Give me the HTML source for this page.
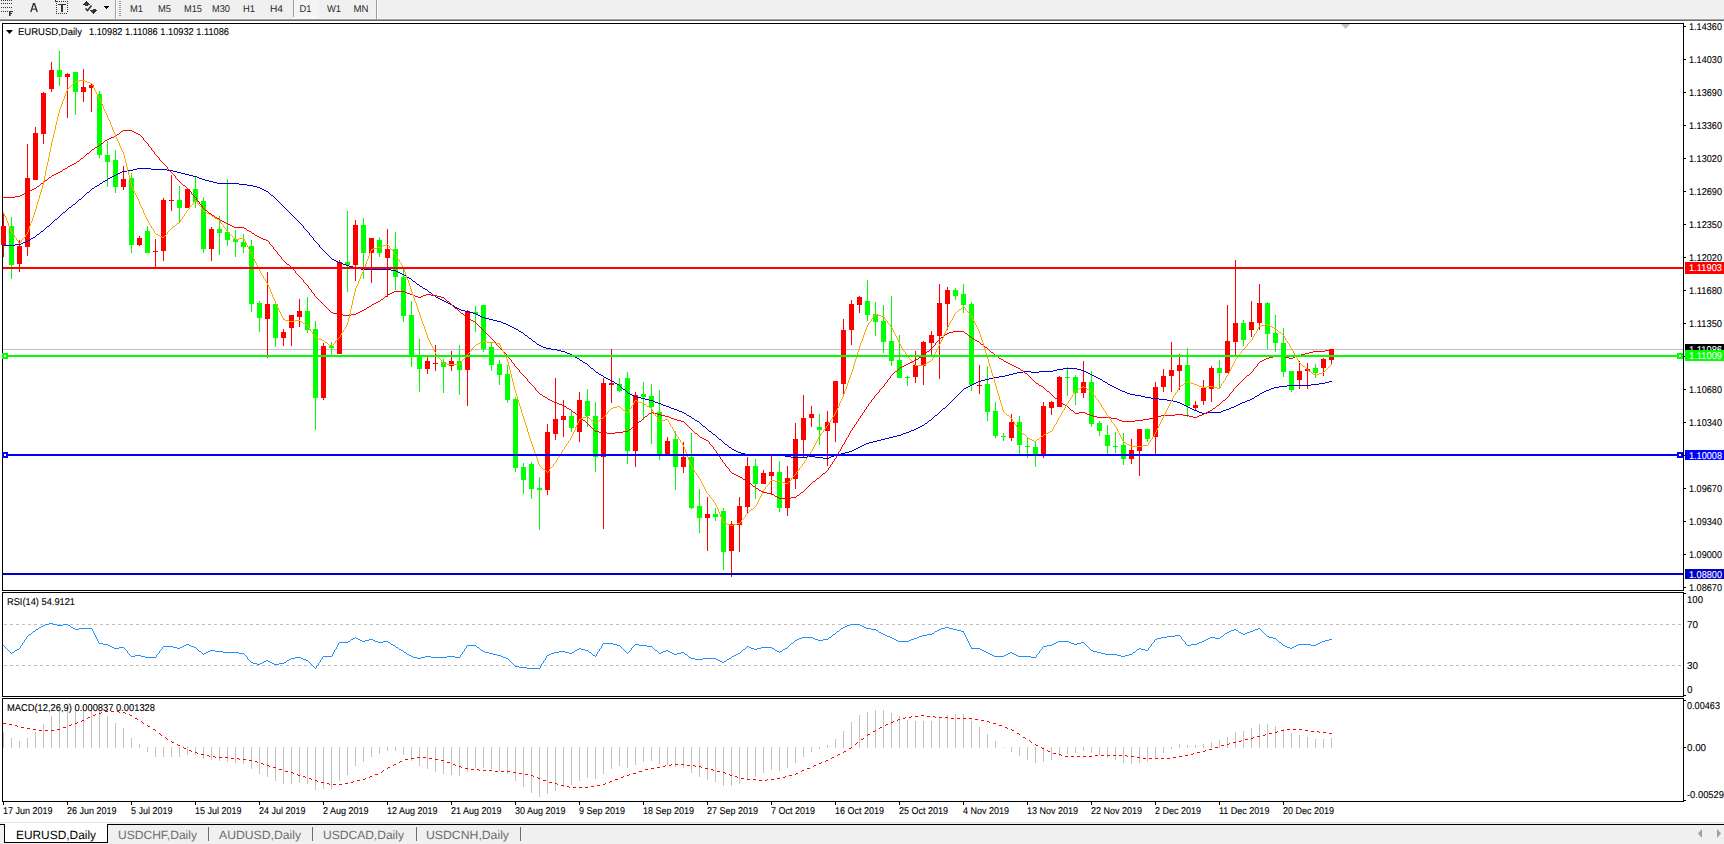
<!DOCTYPE html>
<html><head><meta charset="utf-8"><style>
html,body{margin:0;padding:0;background:#fff;width:1724px;height:844px;overflow:hidden}
svg{position:absolute;left:0;top:0;display:block}
text{font-family:"Liberation Sans", sans-serif;text-rendering:geometricPrecision}
</style></head><body>
<svg width="1724" height="844" viewBox="0 0 1724 844">
<rect x="0" y="0" width="1724" height="19" fill="#f0f0f0" />
<rect x="0" y="18" width="1724" height="1" fill="#f4f4f4" />
<rect x="0" y="19" width="1724" height="1" fill="#a0a0a0" />
<rect x="0" y="20" width="1724" height="1" fill="#696969" />
<g shape-rendering="crispEdges">
<rect x="2" y="23" width="1682" height="1" fill="#000" />
<rect x="2" y="590" width="1682" height="1" fill="#000" />
<rect x="2" y="23" width="1" height="568" fill="#000" />
<rect x="1683" y="23" width="1" height="568" fill="#000" />
<rect x="2" y="592" width="1682" height="1" fill="#000" />
<rect x="2" y="696" width="1682" height="1" fill="#000" />
<rect x="2" y="592" width="1" height="105" fill="#000" />
<rect x="1683" y="592" width="1" height="105" fill="#000" />
<rect x="2" y="698" width="1682" height="1" fill="#000" />
<rect x="2" y="801" width="1682" height="1" fill="#000" />
<rect x="2" y="698" width="1" height="104" fill="#000" />
<rect x="1683" y="698" width="1" height="104" fill="#000" />
</g>
<g font-family='"Liberation Sans", sans-serif'>
<rect x="1684" y="26" width="2" height="1" fill="#000" />
<text x="1689" y="30" font-size="9.9" fill="#000" text-anchor="start" textLength="33" lengthAdjust="spacingAndGlyphs" stroke="#000" stroke-width="0.1" >1.14360</text>
<rect x="1684" y="59" width="2" height="1" fill="#000" />
<text x="1689" y="63" font-size="9.9" fill="#000" text-anchor="start" textLength="33" lengthAdjust="spacingAndGlyphs" stroke="#000" stroke-width="0.1" >1.14030</text>
<rect x="1684" y="92" width="2" height="1" fill="#000" />
<text x="1689" y="96" font-size="9.9" fill="#000" text-anchor="start" textLength="33" lengthAdjust="spacingAndGlyphs" stroke="#000" stroke-width="0.1" >1.13690</text>
<rect x="1684" y="125" width="2" height="1" fill="#000" />
<text x="1689" y="129" font-size="9.9" fill="#000" text-anchor="start" textLength="33" lengthAdjust="spacingAndGlyphs" stroke="#000" stroke-width="0.1" >1.13360</text>
<rect x="1684" y="158" width="2" height="1" fill="#000" />
<text x="1689" y="162" font-size="9.9" fill="#000" text-anchor="start" textLength="33" lengthAdjust="spacingAndGlyphs" stroke="#000" stroke-width="0.1" >1.13020</text>
<rect x="1684" y="191" width="2" height="1" fill="#000" />
<text x="1689" y="195" font-size="9.9" fill="#000" text-anchor="start" textLength="33" lengthAdjust="spacingAndGlyphs" stroke="#000" stroke-width="0.1" >1.12690</text>
<rect x="1684" y="224" width="2" height="1" fill="#000" />
<text x="1689" y="228" font-size="9.9" fill="#000" text-anchor="start" textLength="33" lengthAdjust="spacingAndGlyphs" stroke="#000" stroke-width="0.1" >1.12350</text>
<rect x="1684" y="257" width="2" height="1" fill="#000" />
<text x="1689" y="261" font-size="9.9" fill="#000" text-anchor="start" textLength="33" lengthAdjust="spacingAndGlyphs" stroke="#000" stroke-width="0.1" >1.12020</text>
<rect x="1684" y="290" width="2" height="1" fill="#000" />
<text x="1689" y="294" font-size="9.9" fill="#000" text-anchor="start" textLength="33" lengthAdjust="spacingAndGlyphs" stroke="#000" stroke-width="0.1" >1.11680</text>
<rect x="1684" y="323" width="2" height="1" fill="#000" />
<text x="1689" y="327" font-size="9.9" fill="#000" text-anchor="start" textLength="33" lengthAdjust="spacingAndGlyphs" stroke="#000" stroke-width="0.1" >1.11350</text>
<rect x="1684" y="356" width="2" height="1" fill="#000" />
<rect x="1684" y="389" width="2" height="1" fill="#000" />
<text x="1689" y="393" font-size="9.9" fill="#000" text-anchor="start" textLength="33" lengthAdjust="spacingAndGlyphs" stroke="#000" stroke-width="0.1" >1.10680</text>
<rect x="1684" y="422" width="2" height="1" fill="#000" />
<text x="1689" y="426" font-size="9.9" fill="#000" text-anchor="start" textLength="33" lengthAdjust="spacingAndGlyphs" stroke="#000" stroke-width="0.1" >1.10340</text>
<rect x="1684" y="455" width="2" height="1" fill="#000" />
<rect x="1684" y="488" width="2" height="1" fill="#000" />
<text x="1689" y="492" font-size="9.9" fill="#000" text-anchor="start" textLength="33" lengthAdjust="spacingAndGlyphs" stroke="#000" stroke-width="0.1" >1.09670</text>
<rect x="1684" y="521" width="2" height="1" fill="#000" />
<text x="1689" y="525" font-size="9.9" fill="#000" text-anchor="start" textLength="33" lengthAdjust="spacingAndGlyphs" stroke="#000" stroke-width="0.1" >1.09340</text>
<rect x="1684" y="554" width="2" height="1" fill="#000" />
<text x="1689" y="558" font-size="9.9" fill="#000" text-anchor="start" textLength="33" lengthAdjust="spacingAndGlyphs" stroke="#000" stroke-width="0.1" >1.09000</text>
<rect x="1684" y="587" width="2" height="1" fill="#000" />
<text x="1689" y="591" font-size="9.9" fill="#000" text-anchor="start" textLength="33" lengthAdjust="spacingAndGlyphs" stroke="#000" stroke-width="0.1" >1.08670</text>
</g>
<g shape-rendering="crispEdges">
<rect x="3" y="349" width="1680" height="1" fill="#c0c0c0" />
</g>
<g shape-rendering="crispEdges">
<rect x="3" y="213" width="1" height="44" fill="#ff0000" />
<rect x="1" y="226" width="5" height="19" fill="#ff0000" />
<rect x="11" y="217" width="1" height="62" fill="#00ff00" />
<rect x="9" y="226" width="5" height="39" fill="#00ff00" />
<rect x="19" y="240" width="1" height="32" fill="#ff0000" />
<rect x="17" y="246" width="5" height="18" fill="#ff0000" />
<rect x="27" y="144" width="1" height="112" fill="#ff0000" />
<rect x="25" y="178" width="5" height="69" fill="#ff0000" />
<rect x="35" y="127" width="1" height="53" fill="#ff0000" />
<rect x="33" y="133" width="5" height="47" fill="#ff0000" />
<rect x="43" y="92" width="1" height="52" fill="#ff0000" />
<rect x="41" y="93" width="5" height="41" fill="#ff0000" />
<rect x="51" y="62" width="1" height="30" fill="#ff0000" />
<rect x="49" y="70" width="5" height="19" fill="#ff0000" />
<rect x="59" y="51" width="1" height="35" fill="#00ff00" />
<rect x="57" y="70" width="5" height="7" fill="#00ff00" />
<rect x="67" y="73" width="1" height="45" fill="#ff0000" />
<rect x="65" y="74" width="5" height="3" fill="#ff0000" />
<rect x="75" y="72" width="1" height="43" fill="#00ff00" />
<rect x="73" y="72" width="5" height="20" fill="#00ff00" />
<rect x="83" y="69" width="1" height="33" fill="#ff0000" />
<rect x="81" y="87" width="5" height="5" fill="#ff0000" />
<rect x="91" y="84" width="1" height="28" fill="#ff0000" />
<rect x="89" y="85" width="5" height="3" fill="#ff0000" />
<rect x="99" y="91" width="1" height="67" fill="#00ff00" />
<rect x="97" y="94" width="5" height="61" fill="#00ff00" />
<rect x="107" y="141" width="1" height="46" fill="#00ff00" />
<rect x="105" y="155" width="5" height="7" fill="#00ff00" />
<rect x="115" y="150" width="1" height="43" fill="#00ff00" />
<rect x="113" y="160" width="5" height="27" fill="#00ff00" />
<rect x="123" y="166" width="1" height="24" fill="#ff0000" />
<rect x="121" y="179" width="5" height="8" fill="#ff0000" />
<rect x="131" y="173" width="1" height="80" fill="#00ff00" />
<rect x="129" y="178" width="5" height="67" fill="#00ff00" />
<rect x="139" y="236" width="1" height="10" fill="#ff0000" />
<rect x="137" y="238" width="5" height="7" fill="#ff0000" />
<rect x="147" y="226" width="1" height="27" fill="#00ff00" />
<rect x="145" y="231" width="5" height="22" fill="#00ff00" />
<rect x="155" y="239" width="1" height="29" fill="#ff0000" />
<rect x="153" y="251" width="5" height="1" fill="#ff0000" />
<rect x="163" y="198" width="1" height="63" fill="#ff0000" />
<rect x="161" y="200" width="5" height="51" fill="#ff0000" />
<rect x="171" y="175" width="1" height="36" fill="#ff0000" />
<rect x="169" y="200" width="5" height="1" fill="#ff0000" />
<rect x="179" y="186" width="1" height="36" fill="#00ff00" />
<rect x="177" y="200" width="5" height="8" fill="#00ff00" />
<rect x="187" y="188" width="1" height="20" fill="#ff0000" />
<rect x="185" y="189" width="5" height="19" fill="#ff0000" />
<rect x="195" y="177" width="1" height="31" fill="#00ff00" />
<rect x="193" y="189" width="5" height="13" fill="#00ff00" />
<rect x="203" y="197" width="1" height="56" fill="#00ff00" />
<rect x="201" y="201" width="5" height="48" fill="#00ff00" />
<rect x="211" y="227" width="1" height="34" fill="#ff0000" />
<rect x="209" y="229" width="5" height="20" fill="#ff0000" />
<rect x="219" y="216" width="1" height="39" fill="#00ff00" />
<rect x="217" y="229" width="5" height="4" fill="#00ff00" />
<rect x="227" y="179" width="1" height="67" fill="#00ff00" />
<rect x="225" y="232" width="5" height="8" fill="#00ff00" />
<rect x="235" y="230" width="1" height="27" fill="#00ff00" />
<rect x="233" y="239" width="5" height="3" fill="#00ff00" />
<rect x="243" y="234" width="1" height="19" fill="#00ff00" />
<rect x="241" y="242" width="5" height="5" fill="#00ff00" />
<rect x="251" y="240" width="1" height="72" fill="#00ff00" />
<rect x="249" y="246" width="5" height="58" fill="#00ff00" />
<rect x="259" y="301" width="1" height="31" fill="#00ff00" />
<rect x="257" y="303" width="5" height="15" fill="#00ff00" />
<rect x="267" y="272" width="1" height="86" fill="#ff0000" />
<rect x="265" y="304" width="5" height="15" fill="#ff0000" />
<rect x="275" y="303" width="1" height="44" fill="#00ff00" />
<rect x="273" y="304" width="5" height="34" fill="#00ff00" />
<rect x="283" y="329" width="1" height="17" fill="#ff0000" />
<rect x="281" y="332" width="5" height="6" fill="#ff0000" />
<rect x="291" y="315" width="1" height="31" fill="#ff0000" />
<rect x="289" y="315" width="5" height="13" fill="#ff0000" />
<rect x="299" y="299" width="1" height="28" fill="#ff0000" />
<rect x="297" y="311" width="5" height="6" fill="#ff0000" />
<rect x="307" y="297" width="1" height="36" fill="#00ff00" />
<rect x="305" y="311" width="5" height="19" fill="#00ff00" />
<rect x="315" y="321" width="1" height="109" fill="#00ff00" />
<rect x="313" y="329" width="5" height="69" fill="#00ff00" />
<rect x="323" y="343" width="1" height="57" fill="#ff0000" />
<rect x="321" y="346" width="5" height="52" fill="#ff0000" />
<rect x="331" y="342" width="1" height="13" fill="#00ff00" />
<rect x="329" y="346" width="5" height="2" fill="#00ff00" />
<rect x="339" y="260" width="1" height="94" fill="#ff0000" />
<rect x="337" y="262" width="5" height="92" fill="#ff0000" />
<rect x="347" y="211" width="1" height="81" fill="#00ff00" />
<rect x="345" y="262" width="5" height="3" fill="#00ff00" />
<rect x="355" y="220" width="1" height="61" fill="#ff0000" />
<rect x="353" y="225" width="5" height="40" fill="#ff0000" />
<rect x="363" y="218" width="1" height="61" fill="#00ff00" />
<rect x="361" y="225" width="5" height="28" fill="#00ff00" />
<rect x="371" y="238" width="1" height="45" fill="#ff0000" />
<rect x="369" y="238" width="5" height="15" fill="#ff0000" />
<rect x="379" y="237" width="1" height="20" fill="#00ff00" />
<rect x="377" y="240" width="5" height="13" fill="#00ff00" />
<rect x="387" y="229" width="1" height="68" fill="#ff0000" />
<rect x="385" y="249" width="5" height="9" fill="#ff0000" />
<rect x="395" y="232" width="1" height="58" fill="#00ff00" />
<rect x="393" y="249" width="5" height="28" fill="#00ff00" />
<rect x="403" y="269" width="1" height="53" fill="#00ff00" />
<rect x="401" y="277" width="5" height="39" fill="#00ff00" />
<rect x="411" y="301" width="1" height="66" fill="#00ff00" />
<rect x="409" y="315" width="5" height="41" fill="#00ff00" />
<rect x="419" y="339" width="1" height="53" fill="#00ff00" />
<rect x="417" y="356" width="5" height="13" fill="#00ff00" />
<rect x="427" y="357" width="1" height="17" fill="#ff0000" />
<rect x="425" y="361" width="5" height="8" fill="#ff0000" />
<rect x="435" y="345" width="1" height="26" fill="#ff0000" />
<rect x="433" y="363" width="5" height="1" fill="#ff0000" />
<rect x="443" y="359" width="1" height="34" fill="#00ff00" />
<rect x="441" y="362" width="5" height="5" fill="#00ff00" />
<rect x="451" y="351" width="1" height="20" fill="#ff0000" />
<rect x="449" y="361" width="5" height="5" fill="#ff0000" />
<rect x="459" y="345" width="1" height="50" fill="#00ff00" />
<rect x="457" y="361" width="5" height="9" fill="#00ff00" />
<rect x="467" y="310" width="1" height="96" fill="#ff0000" />
<rect x="465" y="311" width="5" height="59" fill="#ff0000" />
<rect x="475" y="306" width="1" height="26" fill="#00ff00" />
<rect x="473" y="312" width="5" height="2" fill="#00ff00" />
<rect x="483" y="305" width="1" height="47" fill="#00ff00" />
<rect x="481" y="305" width="5" height="44" fill="#00ff00" />
<rect x="491" y="343" width="1" height="28" fill="#00ff00" />
<rect x="489" y="347" width="5" height="18" fill="#00ff00" />
<rect x="499" y="360" width="1" height="25" fill="#00ff00" />
<rect x="497" y="364" width="5" height="11" fill="#00ff00" />
<rect x="507" y="365" width="1" height="38" fill="#00ff00" />
<rect x="505" y="374" width="5" height="26" fill="#00ff00" />
<rect x="515" y="397" width="1" height="75" fill="#00ff00" />
<rect x="513" y="399" width="5" height="69" fill="#00ff00" />
<rect x="523" y="463" width="1" height="31" fill="#00ff00" />
<rect x="521" y="467" width="5" height="13" fill="#00ff00" />
<rect x="531" y="462" width="1" height="37" fill="#00ff00" />
<rect x="529" y="464" width="5" height="25" fill="#00ff00" />
<rect x="539" y="477" width="1" height="53" fill="#00ff00" />
<rect x="537" y="488" width="5" height="2" fill="#00ff00" />
<rect x="547" y="424" width="1" height="71" fill="#ff0000" />
<rect x="545" y="432" width="5" height="58" fill="#ff0000" />
<rect x="555" y="378" width="1" height="62" fill="#ff0000" />
<rect x="553" y="419" width="5" height="15" fill="#ff0000" />
<rect x="563" y="400" width="1" height="37" fill="#ff0000" />
<rect x="561" y="416" width="5" height="4" fill="#ff0000" />
<rect x="571" y="410" width="1" height="22" fill="#00ff00" />
<rect x="569" y="416" width="5" height="12" fill="#00ff00" />
<rect x="579" y="392" width="1" height="50" fill="#ff0000" />
<rect x="577" y="400" width="5" height="32" fill="#ff0000" />
<rect x="587" y="389" width="1" height="38" fill="#00ff00" />
<rect x="585" y="401" width="5" height="15" fill="#00ff00" />
<rect x="595" y="402" width="1" height="70" fill="#00ff00" />
<rect x="593" y="416" width="5" height="41" fill="#00ff00" />
<rect x="603" y="378" width="1" height="151" fill="#ff0000" />
<rect x="601" y="383" width="5" height="74" fill="#ff0000" />
<rect x="611" y="349" width="1" height="54" fill="#ff0000" />
<rect x="609" y="383" width="5" height="2" fill="#ff0000" />
<rect x="619" y="378" width="1" height="14" fill="#00ff00" />
<rect x="617" y="384" width="5" height="7" fill="#00ff00" />
<rect x="627" y="372" width="1" height="92" fill="#00ff00" />
<rect x="625" y="378" width="5" height="73" fill="#00ff00" />
<rect x="635" y="392" width="1" height="75" fill="#ff0000" />
<rect x="633" y="395" width="5" height="56" fill="#ff0000" />
<rect x="643" y="382" width="1" height="38" fill="#00ff00" />
<rect x="641" y="394" width="5" height="3" fill="#00ff00" />
<rect x="651" y="384" width="1" height="60" fill="#00ff00" />
<rect x="649" y="396" width="5" height="11" fill="#00ff00" />
<rect x="659" y="390" width="1" height="70" fill="#00ff00" />
<rect x="657" y="412" width="5" height="43" fill="#00ff00" />
<rect x="667" y="437" width="1" height="17" fill="#ff0000" />
<rect x="665" y="441" width="5" height="13" fill="#ff0000" />
<rect x="675" y="431" width="1" height="59" fill="#00ff00" />
<rect x="673" y="439" width="5" height="28" fill="#00ff00" />
<rect x="683" y="442" width="1" height="31" fill="#ff0000" />
<rect x="681" y="457" width="5" height="10" fill="#ff0000" />
<rect x="691" y="433" width="1" height="76" fill="#00ff00" />
<rect x="689" y="457" width="5" height="51" fill="#00ff00" />
<rect x="699" y="489" width="1" height="44" fill="#00ff00" />
<rect x="697" y="506" width="5" height="12" fill="#00ff00" />
<rect x="707" y="497" width="1" height="54" fill="#ff0000" />
<rect x="705" y="514" width="5" height="4" fill="#ff0000" />
<rect x="715" y="508" width="1" height="13" fill="#00ff00" />
<rect x="713" y="514" width="5" height="3" fill="#00ff00" />
<rect x="723" y="508" width="1" height="62" fill="#00ff00" />
<rect x="721" y="511" width="5" height="41" fill="#00ff00" />
<rect x="731" y="521" width="1" height="56" fill="#ff0000" />
<rect x="729" y="524" width="5" height="27" fill="#ff0000" />
<rect x="739" y="497" width="1" height="55" fill="#ff0000" />
<rect x="737" y="506" width="5" height="19" fill="#ff0000" />
<rect x="747" y="457" width="1" height="57" fill="#ff0000" />
<rect x="745" y="466" width="5" height="41" fill="#ff0000" />
<rect x="755" y="459" width="1" height="40" fill="#00ff00" />
<rect x="753" y="466" width="5" height="18" fill="#00ff00" />
<rect x="763" y="470" width="1" height="14" fill="#ff0000" />
<rect x="761" y="473" width="5" height="11" fill="#ff0000" />
<rect x="771" y="456" width="1" height="39" fill="#ff0000" />
<rect x="769" y="472" width="5" height="4" fill="#ff0000" />
<rect x="779" y="461" width="1" height="51" fill="#00ff00" />
<rect x="777" y="472" width="5" height="36" fill="#00ff00" />
<rect x="787" y="466" width="1" height="50" fill="#ff0000" />
<rect x="785" y="478" width="5" height="30" fill="#ff0000" />
<rect x="795" y="423" width="1" height="66" fill="#ff0000" />
<rect x="793" y="439" width="5" height="40" fill="#ff0000" />
<rect x="803" y="395" width="1" height="62" fill="#ff0000" />
<rect x="801" y="418" width="5" height="22" fill="#ff0000" />
<rect x="811" y="406" width="1" height="21" fill="#ff0000" />
<rect x="809" y="414" width="5" height="4" fill="#ff0000" />
<rect x="819" y="414" width="1" height="31" fill="#00ff00" />
<rect x="817" y="427" width="5" height="3" fill="#00ff00" />
<rect x="827" y="411" width="1" height="55" fill="#ff0000" />
<rect x="825" y="422" width="5" height="9" fill="#ff0000" />
<rect x="835" y="381" width="1" height="61" fill="#ff0000" />
<rect x="833" y="381" width="5" height="42" fill="#ff0000" />
<rect x="843" y="319" width="1" height="75" fill="#ff0000" />
<rect x="841" y="330" width="5" height="54" fill="#ff0000" />
<rect x="851" y="300" width="1" height="45" fill="#ff0000" />
<rect x="849" y="304" width="5" height="26" fill="#ff0000" />
<rect x="859" y="296" width="1" height="17" fill="#ff0000" />
<rect x="857" y="297" width="5" height="8" fill="#ff0000" />
<rect x="867" y="280" width="1" height="41" fill="#00ff00" />
<rect x="865" y="301" width="5" height="14" fill="#00ff00" />
<rect x="875" y="302" width="1" height="34" fill="#00ff00" />
<rect x="873" y="314" width="5" height="8" fill="#00ff00" />
<rect x="883" y="305" width="1" height="48" fill="#00ff00" />
<rect x="881" y="321" width="5" height="21" fill="#00ff00" />
<rect x="891" y="296" width="1" height="70" fill="#00ff00" />
<rect x="889" y="341" width="5" height="20" fill="#00ff00" />
<rect x="899" y="335" width="1" height="43" fill="#00ff00" />
<rect x="897" y="360" width="5" height="18" fill="#00ff00" />
<rect x="907" y="376" width="1" height="10" fill="#00ff00" />
<rect x="905" y="377" width="5" height="1" fill="#00ff00" />
<rect x="915" y="351" width="1" height="32" fill="#ff0000" />
<rect x="913" y="365" width="5" height="12" fill="#ff0000" />
<rect x="923" y="341" width="1" height="44" fill="#ff0000" />
<rect x="921" y="342" width="5" height="24" fill="#ff0000" />
<rect x="931" y="331" width="1" height="24" fill="#ff0000" />
<rect x="929" y="335" width="5" height="8" fill="#ff0000" />
<rect x="939" y="284" width="1" height="95" fill="#ff0000" />
<rect x="937" y="303" width="5" height="33" fill="#ff0000" />
<rect x="947" y="287" width="1" height="43" fill="#ff0000" />
<rect x="945" y="290" width="5" height="14" fill="#ff0000" />
<rect x="955" y="288" width="1" height="12" fill="#00ff00" />
<rect x="953" y="290" width="5" height="6" fill="#00ff00" />
<rect x="963" y="284" width="1" height="29" fill="#00ff00" />
<rect x="961" y="294" width="5" height="11" fill="#00ff00" />
<rect x="971" y="302" width="1" height="89" fill="#00ff00" />
<rect x="969" y="304" width="5" height="81" fill="#00ff00" />
<rect x="979" y="365" width="1" height="29" fill="#ff0000" />
<rect x="977" y="385" width="5" height="1" fill="#ff0000" />
<rect x="987" y="366" width="1" height="55" fill="#00ff00" />
<rect x="985" y="384" width="5" height="28" fill="#00ff00" />
<rect x="995" y="402" width="1" height="36" fill="#00ff00" />
<rect x="993" y="411" width="5" height="25" fill="#00ff00" />
<rect x="1003" y="433" width="1" height="8" fill="#00ff00" />
<rect x="1001" y="436" width="5" height="1" fill="#00ff00" />
<rect x="1011" y="414" width="1" height="27" fill="#ff0000" />
<rect x="1009" y="422" width="5" height="16" fill="#ff0000" />
<rect x="1019" y="416" width="1" height="38" fill="#00ff00" />
<rect x="1017" y="422" width="5" height="23" fill="#00ff00" />
<rect x="1027" y="437" width="1" height="21" fill="#00ff00" />
<rect x="1025" y="446" width="5" height="1" fill="#00ff00" />
<rect x="1035" y="441" width="1" height="26" fill="#00ff00" />
<rect x="1033" y="447" width="5" height="7" fill="#00ff00" />
<rect x="1043" y="402" width="1" height="56" fill="#ff0000" />
<rect x="1041" y="406" width="5" height="48" fill="#ff0000" />
<rect x="1051" y="401" width="1" height="14" fill="#ff0000" />
<rect x="1049" y="402" width="5" height="6" fill="#ff0000" />
<rect x="1059" y="376" width="1" height="31" fill="#ff0000" />
<rect x="1057" y="377" width="5" height="30" fill="#ff0000" />
<rect x="1067" y="367" width="1" height="29" fill="#00ff00" />
<rect x="1065" y="377" width="5" height="1" fill="#00ff00" />
<rect x="1075" y="375" width="1" height="30" fill="#00ff00" />
<rect x="1073" y="377" width="5" height="16" fill="#00ff00" />
<rect x="1083" y="361" width="1" height="37" fill="#ff0000" />
<rect x="1081" y="382" width="5" height="11" fill="#ff0000" />
<rect x="1091" y="371" width="1" height="56" fill="#00ff00" />
<rect x="1089" y="382" width="5" height="42" fill="#00ff00" />
<rect x="1099" y="421" width="1" height="15" fill="#00ff00" />
<rect x="1097" y="423" width="5" height="8" fill="#00ff00" />
<rect x="1107" y="425" width="1" height="29" fill="#00ff00" />
<rect x="1105" y="435" width="5" height="11" fill="#00ff00" />
<rect x="1115" y="432" width="1" height="21" fill="#00ff00" />
<rect x="1113" y="446" width="5" height="1" fill="#00ff00" />
<rect x="1123" y="433" width="1" height="32" fill="#00ff00" />
<rect x="1121" y="445" width="5" height="14" fill="#00ff00" />
<rect x="1131" y="439" width="1" height="25" fill="#ff0000" />
<rect x="1129" y="450" width="5" height="9" fill="#ff0000" />
<rect x="1139" y="429" width="1" height="47" fill="#ff0000" />
<rect x="1137" y="429" width="5" height="22" fill="#ff0000" />
<rect x="1147" y="429" width="1" height="13" fill="#00ff00" />
<rect x="1145" y="429" width="5" height="10" fill="#00ff00" />
<rect x="1155" y="382" width="1" height="72" fill="#ff0000" />
<rect x="1153" y="387" width="5" height="50" fill="#ff0000" />
<rect x="1163" y="369" width="1" height="23" fill="#ff0000" />
<rect x="1161" y="376" width="5" height="11" fill="#ff0000" />
<rect x="1171" y="342" width="1" height="50" fill="#ff0000" />
<rect x="1169" y="370" width="5" height="6" fill="#ff0000" />
<rect x="1179" y="354" width="1" height="36" fill="#ff0000" />
<rect x="1177" y="365" width="5" height="6" fill="#ff0000" />
<rect x="1187" y="348" width="1" height="69" fill="#00ff00" />
<rect x="1185" y="365" width="5" height="41" fill="#00ff00" />
<rect x="1195" y="401" width="1" height="10" fill="#ff0000" />
<rect x="1193" y="405" width="5" height="3" fill="#ff0000" />
<rect x="1203" y="380" width="1" height="25" fill="#ff0000" />
<rect x="1201" y="388" width="5" height="13" fill="#ff0000" />
<rect x="1211" y="366" width="1" height="36" fill="#ff0000" />
<rect x="1209" y="368" width="5" height="21" fill="#ff0000" />
<rect x="1219" y="360" width="1" height="28" fill="#00ff00" />
<rect x="1217" y="368" width="5" height="5" fill="#00ff00" />
<rect x="1227" y="305" width="1" height="68" fill="#ff0000" />
<rect x="1225" y="341" width="5" height="32" fill="#ff0000" />
<rect x="1235" y="260" width="1" height="95" fill="#ff0000" />
<rect x="1233" y="323" width="5" height="19" fill="#ff0000" />
<rect x="1243" y="320" width="1" height="26" fill="#00ff00" />
<rect x="1241" y="323" width="5" height="17" fill="#00ff00" />
<rect x="1251" y="301" width="1" height="36" fill="#ff0000" />
<rect x="1249" y="322" width="5" height="8" fill="#ff0000" />
<rect x="1259" y="284" width="1" height="46" fill="#ff0000" />
<rect x="1257" y="303" width="5" height="20" fill="#ff0000" />
<rect x="1267" y="302" width="1" height="47" fill="#00ff00" />
<rect x="1265" y="303" width="5" height="31" fill="#00ff00" />
<rect x="1275" y="315" width="1" height="37" fill="#00ff00" />
<rect x="1273" y="333" width="5" height="10" fill="#00ff00" />
<rect x="1283" y="328" width="1" height="49" fill="#00ff00" />
<rect x="1281" y="343" width="5" height="29" fill="#00ff00" />
<rect x="1291" y="371" width="1" height="21" fill="#00ff00" />
<rect x="1289" y="371" width="5" height="19" fill="#00ff00" />
<rect x="1299" y="361" width="1" height="28" fill="#ff0000" />
<rect x="1297" y="371" width="5" height="9" fill="#ff0000" />
<rect x="1307" y="363" width="1" height="26" fill="#ff0000" />
<rect x="1305" y="369" width="5" height="2" fill="#ff0000" />
<rect x="1315" y="364" width="1" height="14" fill="#00ff00" />
<rect x="1313" y="368" width="5" height="5" fill="#00ff00" />
<rect x="1323" y="358" width="1" height="18" fill="#ff0000" />
<rect x="1321" y="359" width="5" height="9" fill="#ff0000" />
<rect x="1331" y="349" width="1" height="16" fill="#ff0000" />
<rect x="1329" y="349" width="5" height="11" fill="#ff0000" />
</g>
<g shape-rendering="crispEdges">
<path d="M137 168h14v1h-14zM133 169h4v1h-4zM151 169h16v1h-16zM127 170h6v1h-6zM167 170h6v1h-6zM122 171h5v1h-5zM173 171h4v1h-4zM120 172h2v1h-2zM177 172h4v1h-4zM118 173h2v1h-2zM181 173h4v1h-4zM116 174h2v1h-2zM185 174h4v1h-4zM114 175h2v1h-2zM189 175h4v1h-4zM112 176h2v1h-2zM193 176h4v1h-4zM110 177h2v1h-2zM197 177h2v1h-2zM108 178h2v1h-2zM199 178h3v1h-3zM107 179h1v1h-1zM202 179h3v1h-3zM105 180h2v1h-2zM205 180h4v1h-4zM103 181h2v1h-2zM209 181h4v1h-4zM102 182h1v1h-1zM213 182h4v1h-4zM100 183h2v1h-2zM217 183h22v1h-22zM99 184h1v1h-1zM239 184h8v1h-8zM97 185h2v1h-2zM247 185h6v1h-6zM95 186h2v1h-2zM253 186h4v1h-4zM94 187h1v1h-1zM257 187h3v1h-3zM92 188h2v1h-2zM260 188h2v1h-2zM91 189h1v1h-1zM262 189h2v1h-2zM90 190h1v1h-1zM264 190h2v1h-2zM89 191h1v1h-1zM266 191h2v1h-2zM87 192h2v1h-2zM268 192h1v1h-1zM86 193h1v1h-1zM269 193h1v1h-1zM85 194h1v1h-1zM270 194h1v1h-1zM84 195h1v1h-1zM271 195h2v1h-2zM83 196h1v1h-1zM273 196h1v1h-1zM82 197h1v1h-1zM274 197h1v1h-1zM81 198h1v1h-1zM275 198h1v1h-1zM79 199h2v1h-2zM276 199h1v1h-1zM78 200h1v1h-1zM277 200h1v1h-1zM77 201h1v1h-1zM278 201h1v1h-1zM76 202h1v1h-1zM279 202h1v1h-1zM75 203h1v1h-1zM280 203h1v1h-1zM73 204h2v1h-2zM281 204h1v1h-1zM72 205h1v1h-1zM282 205h1v1h-1zM71 206h1v1h-1zM283 206h1v1h-1zM69 207h2v1h-2zM284 207h1v1h-1zM68 208h1v1h-1zM285 208h1v1h-1zM67 209h1v1h-1zM286 209h1v1h-1zM66 210h1v1h-1zM287 210h1v1h-1zM65 211h1v1h-1zM288 211h1v1h-1zM63 212h2v1h-2zM289 212h1v1h-1zM62 213h1v1h-1zM290 213h1v1h-1zM61 214h1v1h-1zM291 214h1v1h-1zM60 215h1v1h-1zM292 215h1v1h-1zM59 216h1v1h-1zM293 216h1v1h-1zM58 217h1v1h-1zM294 217h1v1h-1zM57 218h1v1h-1zM295 218h1v1h-1zM55 219h2v1h-2zM296 219h1v1h-1zM54 220h1v1h-1zM297 220h1v1h-1zM53 221h1v1h-1zM298 221h1v1h-1zM52 222h1v1h-1zM299 222h1v1h-1zM51 223h1v1h-1zM300 223h1v1h-1zM50 224h1v1h-1zM301 224h1v1h-1zM49 225h1v1h-1zM302 225h1v1h-1zM47 226h2v1h-2zM303 226h1v1h-1zM46 227h1v1h-1zM303 227h1v1h-1zM45 228h1v1h-1zM304 228h1v1h-1zM44 229h1v1h-1zM305 229h1v1h-1zM43 230h1v1h-1zM306 230h1v1h-1zM41 231h2v1h-2zM307 231h1v1h-1zM40 232h1v1h-1zM308 232h1v1h-1zM39 233h1v1h-1zM309 233h1v1h-1zM37 234h2v1h-2zM309 234h1v1h-1zM36 235h1v1h-1zM310 235h1v1h-1zM35 236h1v1h-1zM311 236h1v1h-1zM33 237h2v1h-2zM312 237h1v1h-1zM31 238h2v1h-2zM313 238h1v1h-1zM30 239h1v1h-1zM313 239h1v1h-1zM28 240h2v1h-2zM314 240h1v1h-1zM26 241h2v1h-2zM315 241h1v1h-1zM23 242h3v1h-3zM316 242h1v1h-1zM21 243h2v1h-2zM317 243h1v1h-1zM15 244h6v1h-6zM318 244h1v1h-1zM3 245h12v1h-12zM319 245h1v1h-1zM319 246h1v1h-1zM320 247h1v1h-1zM321 248h1v1h-1zM322 249h1v1h-1zM323 250h1v1h-1zM324 251h1v1h-1zM325 252h1v1h-1zM326 253h1v1h-1zM327 254h1v1h-1zM328 255h1v1h-1zM329 256h1v1h-1zM330 257h1v1h-1zM331 258h1v1h-1zM332 259h2v1h-2zM334 260h2v1h-2zM336 261h2v1h-2zM338 262h3v1h-3zM341 263h2v1h-2zM343 264h3v1h-3zM346 265h3v1h-3zM349 266h4v1h-4zM353 267h4v1h-4zM357 268h4v1h-4zM361 269h30v1h-30zM391 270h5v1h-5zM396 271h2v1h-2zM398 272h2v1h-2zM400 273h2v1h-2zM402 274h2v1h-2zM404 275h2v1h-2zM406 276h1v1h-1zM407 277h2v1h-2zM409 278h2v1h-2zM411 279h1v1h-1zM412 280h1v1h-1zM413 281h2v1h-2zM415 282h1v1h-1zM416 283h1v1h-1zM417 284h2v1h-2zM419 285h1v1h-1zM420 286h2v1h-2zM422 287h1v1h-1zM423 288h2v1h-2zM425 289h2v1h-2zM427 290h1v1h-1zM428 291h1v1h-1zM429 292h2v1h-2zM431 293h1v1h-1zM432 294h1v1h-1zM433 295h2v1h-2zM435 296h1v1h-1zM436 297h2v1h-2zM438 298h2v1h-2zM440 299h2v1h-2zM442 300h2v1h-2zM444 301h2v1h-2zM446 302h2v1h-2zM448 303h2v1h-2zM450 304h2v1h-2zM452 305h2v1h-2zM454 306h1v1h-1zM455 307h2v1h-2zM457 308h2v1h-2zM459 309h2v1h-2zM461 310h4v1h-4zM465 311h4v1h-4zM469 312h4v1h-4zM473 313h3v1h-3zM476 314h2v1h-2zM478 315h2v1h-2zM480 316h2v1h-2zM482 317h3v1h-3zM485 318h4v1h-4zM489 319h4v1h-4zM493 320h4v1h-4zM497 321h4v1h-4zM501 322h2v1h-2zM503 323h3v1h-3zM506 324h2v1h-2zM508 325h2v1h-2zM510 326h2v1h-2zM512 327h2v1h-2zM514 328h2v1h-2zM516 329h2v1h-2zM518 330h1v1h-1zM519 331h2v1h-2zM521 332h2v1h-2zM523 333h1v1h-1zM524 334h1v1h-1zM525 335h2v1h-2zM527 336h1v1h-1zM528 337h1v1h-1zM529 338h2v1h-2zM531 339h1v1h-1zM532 340h1v1h-1zM533 341h2v1h-2zM535 342h1v1h-1zM536 343h1v1h-1zM537 344h2v1h-2zM539 345h2v1h-2zM541 346h2v1h-2zM543 347h3v1h-3zM546 348h5v1h-5zM551 349h6v1h-6zM557 350h4v1h-4zM561 351h4v1h-4zM565 352h2v1h-2zM567 353h3v1h-3zM570 354h2v1h-2zM572 355h2v1h-2zM574 356h1v1h-1zM575 357h2v1h-2zM577 358h2v1h-2zM579 359h1v1h-1zM580 360h2v1h-2zM582 361h1v1h-1zM583 362h2v1h-2zM585 363h2v1h-2zM587 364h1v1h-1zM588 365h1v1h-1zM589 366h1v1h-1zM590 367h1v1h-1zM591 368h2v1h-2zM1063 368h14v1h-14zM593 369h1v1h-1zM1057 369h6v1h-6zM1077 369h4v1h-4zM594 370h1v1h-1zM1053 370h4v1h-4zM1081 370h3v1h-3zM595 371h1v1h-1zM1023 371h8v1h-8zM1039 371h14v1h-14zM1084 371h2v1h-2zM596 372h2v1h-2zM1017 372h6v1h-6zM1031 372h8v1h-8zM1086 372h2v1h-2zM598 373h1v1h-1zM1013 373h4v1h-4zM1088 373h2v1h-2zM599 374h2v1h-2zM1009 374h4v1h-4zM1090 374h2v1h-2zM601 375h2v1h-2zM1005 375h4v1h-4zM1092 375h2v1h-2zM603 376h1v1h-1zM999 376h6v1h-6zM1094 376h2v1h-2zM604 377h2v1h-2zM993 377h6v1h-6zM1096 377h2v1h-2zM606 378h2v1h-2zM989 378h4v1h-4zM1098 378h2v1h-2zM608 379h2v1h-2zM985 379h4v1h-4zM1100 379h2v1h-2zM610 380h2v1h-2zM981 380h4v1h-4zM1102 380h1v1h-1zM612 381h2v1h-2zM978 381h3v1h-3zM1103 381h2v1h-2zM1329 381h3v1h-3zM614 382h1v1h-1zM976 382h2v1h-2zM1105 382h2v1h-2zM1325 382h4v1h-4zM615 383h2v1h-2zM974 383h2v1h-2zM1107 383h1v1h-1zM1319 383h6v1h-6zM617 384h2v1h-2zM972 384h2v1h-2zM1108 384h2v1h-2zM1311 384h8v1h-8zM619 385h1v1h-1zM970 385h2v1h-2zM1110 385h2v1h-2zM1287 385h24v1h-24zM620 386h1v1h-1zM968 386h2v1h-2zM1112 386h2v1h-2zM1279 386h8v1h-8zM621 387h1v1h-1zM966 387h2v1h-2zM1114 387h2v1h-2zM1274 387h5v1h-5zM622 388h1v1h-1zM964 388h2v1h-2zM1116 388h2v1h-2zM1271 388h3v1h-3zM623 389h2v1h-2zM963 389h1v1h-1zM1118 389h2v1h-2zM1269 389h2v1h-2zM625 390h1v1h-1zM962 390h1v1h-1zM1120 390h2v1h-2zM1266 390h3v1h-3zM626 391h1v1h-1zM961 391h1v1h-1zM1122 391h3v1h-3zM1264 391h2v1h-2zM627 392h1v1h-1zM960 392h1v1h-1zM1125 392h2v1h-2zM1262 392h2v1h-2zM628 393h2v1h-2zM959 393h1v1h-1zM1127 393h3v1h-3zM1260 393h2v1h-2zM630 394h2v1h-2zM958 394h1v1h-1zM1130 394h5v1h-5zM1259 394h1v1h-1zM632 395h2v1h-2zM957 395h1v1h-1zM1135 395h6v1h-6zM1257 395h2v1h-2zM634 396h3v1h-3zM956 396h1v1h-1zM1141 396h4v1h-4zM1255 396h2v1h-2zM637 397h4v1h-4zM955 397h1v1h-1zM1145 397h6v1h-6zM1254 397h1v1h-1zM641 398h4v1h-4zM954 398h1v1h-1zM1151 398h8v1h-8zM1252 398h2v1h-2zM645 399h4v1h-4zM953 399h1v1h-1zM1159 399h8v1h-8zM1250 399h2v1h-2zM649 400h4v1h-4zM952 400h1v1h-1zM1167 400h6v1h-6zM1247 400h3v1h-3zM653 401h2v1h-2zM951 401h1v1h-1zM1173 401h4v1h-4zM1245 401h2v1h-2zM655 402h3v1h-3zM950 402h1v1h-1zM1177 402h3v1h-3zM1242 402h3v1h-3zM658 403h3v1h-3zM949 403h1v1h-1zM1180 403h2v1h-2zM1240 403h2v1h-2zM661 404h2v1h-2zM948 404h1v1h-1zM1182 404h2v1h-2zM1238 404h2v1h-2zM663 405h3v1h-3zM947 405h1v1h-1zM1184 405h2v1h-2zM1236 405h2v1h-2zM666 406h3v1h-3zM946 406h1v1h-1zM1186 406h2v1h-2zM1234 406h2v1h-2zM669 407h2v1h-2zM945 407h1v1h-1zM1188 407h2v1h-2zM1231 407h3v1h-3zM671 408h3v1h-3zM943 408h2v1h-2zM1190 408h2v1h-2zM1229 408h2v1h-2zM674 409h3v1h-3zM942 409h1v1h-1zM1192 409h2v1h-2zM1226 409h3v1h-3zM677 410h2v1h-2zM941 410h1v1h-1zM1194 410h3v1h-3zM1223 410h3v1h-3zM679 411h3v1h-3zM940 411h1v1h-1zM1197 411h2v1h-2zM1221 411h2v1h-2zM682 412h2v1h-2zM939 412h1v1h-1zM1199 412h3v1h-3zM1207 412h14v1h-14zM684 413h2v1h-2zM938 413h1v1h-1zM1202 413h5v1h-5zM686 414h1v1h-1zM937 414h1v1h-1zM687 415h2v1h-2zM935 415h2v1h-2zM689 416h2v1h-2zM934 416h1v1h-1zM691 417h1v1h-1zM933 417h1v1h-1zM692 418h2v1h-2zM932 418h1v1h-1zM694 419h1v1h-1zM931 419h1v1h-1zM695 420h2v1h-2zM929 420h2v1h-2zM697 421h2v1h-2zM928 421h1v1h-1zM699 422h1v1h-1zM927 422h1v1h-1zM700 423h1v1h-1zM925 423h2v1h-2zM701 424h1v1h-1zM924 424h1v1h-1zM702 425h1v1h-1zM922 425h2v1h-2zM703 426h2v1h-2zM920 426h2v1h-2zM705 427h1v1h-1zM918 427h2v1h-2zM706 428h1v1h-1zM916 428h2v1h-2zM707 429h1v1h-1zM914 429h2v1h-2zM708 430h1v1h-1zM911 430h3v1h-3zM709 431h2v1h-2zM909 431h2v1h-2zM711 432h1v1h-1zM906 432h3v1h-3zM712 433h1v1h-1zM903 433h3v1h-3zM713 434h2v1h-2zM901 434h2v1h-2zM715 435h1v1h-1zM897 435h4v1h-4zM716 436h1v1h-1zM893 436h4v1h-4zM717 437h1v1h-1zM889 437h4v1h-4zM718 438h1v1h-1zM885 438h4v1h-4zM719 439h2v1h-2zM881 439h4v1h-4zM721 440h1v1h-1zM877 440h4v1h-4zM722 441h1v1h-1zM873 441h4v1h-4zM723 442h1v1h-1zM869 442h4v1h-4zM724 443h1v1h-1zM866 443h3v1h-3zM725 444h2v1h-2zM864 444h2v1h-2zM727 445h1v1h-1zM862 445h2v1h-2zM728 446h1v1h-1zM860 446h2v1h-2zM729 447h2v1h-2zM858 447h2v1h-2zM731 448h1v1h-1zM856 448h2v1h-2zM732 449h2v1h-2zM854 449h2v1h-2zM734 450h2v1h-2zM852 450h2v1h-2zM736 451h2v1h-2zM849 451h3v1h-3zM738 452h3v1h-3zM845 452h4v1h-4zM741 453h4v1h-4zM841 453h4v1h-4zM745 454h6v1h-6zM759 454h22v1h-22zM837 454h4v1h-4zM751 455h8v1h-8zM781 455h4v1h-4zM834 455h3v1h-3zM785 456h6v1h-6zM807 456h8v1h-8zM831 456h3v1h-3zM791 457h16v1h-16zM815 457h8v1h-8zM829 457h2v1h-2zM823 458h6v1h-6z" fill="#0000cd" shape-rendering="crispEdges"/>
<path d="M123 130h9v1h-9zM121 131h2v1h-2zM132 131h2v1h-2zM120 132h1v1h-1zM134 132h2v1h-2zM119 133h1v1h-1zM136 133h2v1h-2zM117 134h2v1h-2zM138 134h2v1h-2zM116 135h1v1h-1zM140 135h1v1h-1zM114 136h2v1h-2zM141 136h1v1h-1zM111 137h3v1h-3zM142 137h1v1h-1zM109 138h2v1h-2zM143 138h1v1h-1zM107 139h2v1h-2zM143 139h1v1h-1zM105 140h2v1h-2zM144 140h1v1h-1zM104 141h1v1h-1zM145 141h1v1h-1zM103 142h1v1h-1zM146 142h1v1h-1zM101 143h2v1h-2zM147 143h1v1h-1zM100 144h1v1h-1zM148 144h1v1h-1zM99 145h1v1h-1zM148 145h1v1h-1zM97 146h2v1h-2zM149 146h1v1h-1zM95 147h2v1h-2zM150 147h1v1h-1zM94 148h1v1h-1zM151 148h1v1h-1zM92 149h2v1h-2zM151 149h1v1h-1zM91 150h1v1h-1zM152 150h1v1h-1zM90 151h1v1h-1zM153 151h1v1h-1zM89 152h1v1h-1zM154 152h1v1h-1zM87 153h2v1h-2zM154 153h1v1h-1zM86 154h1v1h-1zM155 154h1v1h-1zM85 155h1v1h-1zM156 155h1v1h-1zM84 156h1v1h-1zM157 156h1v1h-1zM83 157h1v1h-1zM158 157h1v1h-1zM81 158h2v1h-2zM159 158h1v1h-1zM80 159h1v1h-1zM159 159h1v1h-1zM79 160h1v1h-1zM160 160h1v1h-1zM77 161h2v1h-2zM161 161h1v1h-1zM76 162h1v1h-1zM162 162h1v1h-1zM74 163h2v1h-2zM163 163h1v1h-1zM72 164h2v1h-2zM164 164h1v1h-1zM70 165h2v1h-2zM165 165h1v1h-1zM68 166h2v1h-2zM166 166h1v1h-1zM67 167h1v1h-1zM167 167h1v1h-1zM65 168h2v1h-2zM167 168h1v1h-1zM63 169h2v1h-2zM168 169h1v1h-1zM62 170h1v1h-1zM169 170h1v1h-1zM60 171h2v1h-2zM170 171h1v1h-1zM58 172h2v1h-2zM171 172h1v1h-1zM56 173h2v1h-2zM172 173h1v1h-1zM54 174h2v1h-2zM173 174h1v1h-1zM52 175h2v1h-2zM174 175h1v1h-1zM51 176h1v1h-1zM175 176h1v1h-1zM49 177h2v1h-2zM175 177h1v1h-1zM48 178h1v1h-1zM176 178h1v1h-1zM47 179h1v1h-1zM177 179h1v1h-1zM45 180h2v1h-2zM178 180h1v1h-1zM44 181h1v1h-1zM179 181h1v1h-1zM43 182h1v1h-1zM180 182h1v1h-1zM41 183h2v1h-2zM181 183h1v1h-1zM40 184h1v1h-1zM182 184h1v1h-1zM39 185h1v1h-1zM183 185h2v1h-2zM37 186h2v1h-2zM185 186h1v1h-1zM36 187h1v1h-1zM186 187h1v1h-1zM34 188h2v1h-2zM187 188h1v1h-1zM32 189h2v1h-2zM188 189h1v1h-1zM30 190h2v1h-2zM189 190h1v1h-1zM28 191h2v1h-2zM190 191h1v1h-1zM26 192h2v1h-2zM191 192h1v1h-1zM24 193h2v1h-2zM191 193h1v1h-1zM22 194h2v1h-2zM192 194h1v1h-1zM20 195h2v1h-2zM193 195h1v1h-1zM15 196h5v1h-5zM194 196h1v1h-1zM3 197h12v1h-12zM195 197h1v1h-1zM196 198h1v1h-1zM196 199h1v1h-1zM197 200h1v1h-1zM198 201h1v1h-1zM199 202h1v1h-1zM199 203h1v1h-1zM200 204h1v1h-1zM201 205h1v1h-1zM202 206h1v1h-1zM202 207h1v1h-1zM203 208h1v1h-1zM204 209h1v1h-1zM205 210h2v1h-2zM207 211h1v1h-1zM208 212h1v1h-1zM209 213h2v1h-2zM211 214h1v1h-1zM212 215h2v1h-2zM214 216h1v1h-1zM215 217h2v1h-2zM217 218h2v1h-2zM219 219h1v1h-1zM220 220h2v1h-2zM222 221h2v1h-2zM224 222h2v1h-2zM226 223h2v1h-2zM228 224h2v1h-2zM230 225h2v1h-2zM232 226h2v1h-2zM234 227h10v1h-10zM244 228h2v1h-2zM246 229h1v1h-1zM247 230h2v1h-2zM249 231h2v1h-2zM251 232h1v1h-1zM252 233h2v1h-2zM254 234h1v1h-1zM255 235h2v1h-2zM257 236h2v1h-2zM259 237h2v1h-2zM261 238h2v1h-2zM263 239h3v1h-3zM266 240h2v1h-2zM268 241h1v1h-1zM269 242h1v1h-1zM269 243h1v1h-1zM270 244h1v1h-1zM271 245h1v1h-1zM272 246h1v1h-1zM273 247h1v1h-1zM273 248h1v1h-1zM274 249h1v1h-1zM275 250h1v1h-1zM276 251h1v1h-1zM277 252h1v1h-1zM277 253h1v1h-1zM278 254h1v1h-1zM279 255h1v1h-1zM280 256h1v1h-1zM281 257h1v1h-1zM281 258h1v1h-1zM282 259h1v1h-1zM283 260h1v1h-1zM284 261h1v1h-1zM285 262h1v1h-1zM286 263h1v1h-1zM287 264h2v1h-2zM289 265h1v1h-1zM290 266h1v1h-1zM291 267h1v1h-1zM292 268h1v1h-1zM293 269h1v1h-1zM294 270h1v1h-1zM295 271h1v1h-1zM295 272h1v1h-1zM296 273h1v1h-1zM297 274h1v1h-1zM298 275h1v1h-1zM299 276h1v1h-1zM300 277h1v1h-1zM301 278h1v1h-1zM302 279h1v1h-1zM303 280h1v1h-1zM303 281h1v1h-1zM304 282h1v1h-1zM305 283h1v1h-1zM306 284h1v1h-1zM307 285h1v1h-1zM308 286h1v1h-1zM308 287h1v1h-1zM309 288h1v1h-1zM310 289h1v1h-1zM311 290h1v1h-1zM311 291h1v1h-1zM394 291h11v1h-11zM312 292h1v1h-1zM392 292h2v1h-2zM405 292h2v1h-2zM313 293h1v1h-1zM390 293h2v1h-2zM407 293h3v1h-3zM314 294h1v1h-1zM388 294h2v1h-2zM410 294h3v1h-3zM426 294h5v1h-5zM314 295h1v1h-1zM387 295h1v1h-1zM413 295h2v1h-2zM423 295h3v1h-3zM431 295h6v1h-6zM315 296h1v1h-1zM385 296h2v1h-2zM415 296h3v1h-3zM421 296h2v1h-2zM437 296h4v1h-4zM316 297h1v1h-1zM384 297h1v1h-1zM418 297h3v1h-3zM441 297h3v1h-3zM317 298h1v1h-1zM383 298h1v1h-1zM444 298h1v1h-1zM318 299h1v1h-1zM381 299h2v1h-2zM445 299h1v1h-1zM319 300h1v1h-1zM380 300h1v1h-1zM446 300h1v1h-1zM320 301h1v1h-1zM378 301h2v1h-2zM447 301h2v1h-2zM321 302h1v1h-1zM376 302h2v1h-2zM449 302h1v1h-1zM322 303h1v1h-1zM374 303h2v1h-2zM450 303h1v1h-1zM323 304h1v1h-1zM372 304h2v1h-2zM451 304h1v1h-1zM324 305h1v1h-1zM371 305h1v1h-1zM452 305h1v1h-1zM325 306h1v1h-1zM369 306h2v1h-2zM453 306h1v1h-1zM326 307h1v1h-1zM367 307h2v1h-2zM454 307h1v1h-1zM327 308h1v1h-1zM366 308h1v1h-1zM455 308h2v1h-2zM328 309h1v1h-1zM364 309h2v1h-2zM457 309h1v1h-1zM329 310h1v1h-1zM362 310h2v1h-2zM458 310h1v1h-1zM330 311h1v1h-1zM360 311h2v1h-2zM459 311h1v1h-1zM331 312h2v1h-2zM358 312h2v1h-2zM460 312h1v1h-1zM333 313h4v1h-4zM356 313h2v1h-2zM461 313h2v1h-2zM337 314h6v1h-6zM351 314h5v1h-5zM463 314h1v1h-1zM343 315h8v1h-8zM464 315h1v1h-1zM465 316h2v1h-2zM467 317h1v1h-1zM468 318h2v1h-2zM470 319h1v1h-1zM471 320h2v1h-2zM473 321h2v1h-2zM475 322h1v1h-1zM476 323h1v1h-1zM477 324h1v1h-1zM478 325h1v1h-1zM479 326h1v1h-1zM480 327h1v1h-1zM481 328h1v1h-1zM482 329h1v1h-1zM483 330h1v1h-1zM484 331h1v1h-1zM953 331h11v1h-11zM485 332h1v1h-1zM949 332h4v1h-4zM964 332h1v1h-1zM486 333h1v1h-1zM947 333h2v1h-2zM965 333h2v1h-2zM487 334h1v1h-1zM945 334h2v1h-2zM967 334h1v1h-1zM488 335h1v1h-1zM944 335h1v1h-1zM968 335h1v1h-1zM489 336h1v1h-1zM943 336h1v1h-1zM969 336h2v1h-2zM490 337h1v1h-1zM941 337h2v1h-2zM971 337h1v1h-1zM491 338h1v1h-1zM940 338h1v1h-1zM972 338h2v1h-2zM492 339h1v1h-1zM939 339h1v1h-1zM974 339h1v1h-1zM493 340h1v1h-1zM938 340h1v1h-1zM975 340h2v1h-2zM494 341h1v1h-1zM937 341h1v1h-1zM977 341h2v1h-2zM495 342h1v1h-1zM936 342h1v1h-1zM979 342h1v1h-1zM495 343h1v1h-1zM935 343h1v1h-1zM980 343h1v1h-1zM496 344h1v1h-1zM935 344h1v1h-1zM981 344h2v1h-2zM497 345h1v1h-1zM934 345h1v1h-1zM983 345h1v1h-1zM498 346h1v1h-1zM933 346h1v1h-1zM984 346h1v1h-1zM499 347h1v1h-1zM932 347h1v1h-1zM985 347h2v1h-2zM500 348h1v1h-1zM931 348h1v1h-1zM987 348h1v1h-1zM501 349h1v1h-1zM930 349h1v1h-1zM988 349h1v1h-1zM1329 349h3v1h-3zM502 350h1v1h-1zM929 350h1v1h-1zM989 350h1v1h-1zM1325 350h4v1h-4zM503 351h1v1h-1zM927 351h2v1h-2zM990 351h1v1h-1zM1313 351h12v1h-12zM504 352h1v1h-1zM926 352h1v1h-1zM991 352h2v1h-2zM1309 352h4v1h-4zM505 353h1v1h-1zM925 353h1v1h-1zM993 353h1v1h-1zM1305 353h4v1h-4zM506 354h1v1h-1zM924 354h1v1h-1zM994 354h1v1h-1zM1301 354h4v1h-4zM507 355h1v1h-1zM923 355h1v1h-1zM995 355h1v1h-1zM1298 355h3v1h-3zM508 356h1v1h-1zM921 356h2v1h-2zM996 356h2v1h-2zM1273 356h12v1h-12zM1295 356h3v1h-3zM508 357h1v1h-1zM919 357h2v1h-2zM998 357h1v1h-1zM1269 357h4v1h-4zM1285 357h4v1h-4zM1293 357h2v1h-2zM509 358h1v1h-1zM918 358h1v1h-1zM999 358h2v1h-2zM1266 358h3v1h-3zM1289 358h4v1h-4zM510 359h1v1h-1zM916 359h2v1h-2zM1001 359h2v1h-2zM1264 359h2v1h-2zM511 360h1v1h-1zM914 360h2v1h-2zM1003 360h1v1h-1zM1262 360h2v1h-2zM511 361h1v1h-1zM912 361h2v1h-2zM1004 361h2v1h-2zM1260 361h2v1h-2zM512 362h1v1h-1zM910 362h2v1h-2zM1006 362h2v1h-2zM1259 362h1v1h-1zM513 363h1v1h-1zM908 363h2v1h-2zM1008 363h2v1h-2zM1258 363h1v1h-1zM514 364h1v1h-1zM906 364h2v1h-2zM1010 364h2v1h-2zM1257 364h1v1h-1zM514 365h1v1h-1zM904 365h2v1h-2zM1012 365h2v1h-2zM1257 365h1v1h-1zM515 366h1v1h-1zM902 366h2v1h-2zM1014 366h2v1h-2zM1256 366h1v1h-1zM516 367h1v1h-1zM900 367h2v1h-2zM1016 367h2v1h-2zM1255 367h1v1h-1zM517 368h1v1h-1zM899 368h1v1h-1zM1018 368h2v1h-2zM1254 368h1v1h-1zM518 369h1v1h-1zM898 369h1v1h-1zM1020 369h1v1h-1zM1253 369h1v1h-1zM519 370h1v1h-1zM897 370h1v1h-1zM1021 370h2v1h-2zM1253 370h1v1h-1zM519 371h1v1h-1zM895 371h2v1h-2zM1023 371h1v1h-1zM1252 371h1v1h-1zM520 372h1v1h-1zM894 372h1v1h-1zM1024 372h1v1h-1zM1251 372h1v1h-1zM521 373h1v1h-1zM893 373h1v1h-1zM1025 373h2v1h-2zM1250 373h1v1h-1zM522 374h1v1h-1zM892 374h1v1h-1zM1027 374h1v1h-1zM1249 374h1v1h-1zM523 375h1v1h-1zM891 375h1v1h-1zM1028 375h1v1h-1zM1247 375h2v1h-2zM524 376h1v1h-1zM890 376h1v1h-1zM1029 376h1v1h-1zM1246 376h1v1h-1zM525 377h1v1h-1zM890 377h1v1h-1zM1030 377h1v1h-1zM1245 377h1v1h-1zM526 378h1v1h-1zM889 378h1v1h-1zM1031 378h1v1h-1zM1244 378h1v1h-1zM527 379h1v1h-1zM888 379h1v1h-1zM1032 379h1v1h-1zM1243 379h1v1h-1zM527 380h1v1h-1zM887 380h1v1h-1zM1033 380h1v1h-1zM1242 380h1v1h-1zM528 381h1v1h-1zM887 381h1v1h-1zM1034 381h1v1h-1zM1241 381h1v1h-1zM529 382h1v1h-1zM886 382h1v1h-1zM1035 382h1v1h-1zM1240 382h1v1h-1zM530 383h1v1h-1zM885 383h1v1h-1zM1036 383h2v1h-2zM1239 383h1v1h-1zM531 384h1v1h-1zM884 384h1v1h-1zM1038 384h1v1h-1zM1238 384h1v1h-1zM532 385h1v1h-1zM884 385h1v1h-1zM1039 385h2v1h-2zM1237 385h1v1h-1zM533 386h1v1h-1zM883 386h1v1h-1zM1041 386h2v1h-2zM1236 386h1v1h-1zM534 387h1v1h-1zM882 387h1v1h-1zM1043 387h1v1h-1zM1235 387h1v1h-1zM535 388h1v1h-1zM881 388h1v1h-1zM1044 388h1v1h-1zM1234 388h1v1h-1zM535 389h1v1h-1zM880 389h1v1h-1zM1045 389h1v1h-1zM1233 389h1v1h-1zM536 390h1v1h-1zM879 390h1v1h-1zM1046 390h1v1h-1zM1233 390h1v1h-1zM537 391h1v1h-1zM879 391h1v1h-1zM1047 391h2v1h-2zM1232 391h1v1h-1zM538 392h1v1h-1zM878 392h1v1h-1zM1049 392h1v1h-1zM1231 392h1v1h-1zM539 393h1v1h-1zM877 393h1v1h-1zM1050 393h1v1h-1zM1230 393h1v1h-1zM540 394h2v1h-2zM876 394h1v1h-1zM1051 394h1v1h-1zM1229 394h1v1h-1zM542 395h1v1h-1zM875 395h1v1h-1zM1052 395h1v1h-1zM1229 395h1v1h-1zM543 396h2v1h-2zM874 396h1v1h-1zM1053 396h1v1h-1zM1228 396h1v1h-1zM545 397h2v1h-2zM874 397h1v1h-1zM1054 397h1v1h-1zM1227 397h1v1h-1zM547 398h1v1h-1zM873 398h1v1h-1zM1055 398h2v1h-2zM1226 398h1v1h-1zM548 399h2v1h-2zM872 399h1v1h-1zM1057 399h1v1h-1zM1225 399h1v1h-1zM550 400h2v1h-2zM871 400h1v1h-1zM1058 400h1v1h-1zM1223 400h2v1h-2zM552 401h2v1h-2zM871 401h1v1h-1zM1059 401h1v1h-1zM1222 401h1v1h-1zM554 402h3v1h-3zM870 402h1v1h-1zM1060 402h2v1h-2zM1221 402h1v1h-1zM557 403h2v1h-2zM869 403h1v1h-1zM1062 403h1v1h-1zM1220 403h1v1h-1zM559 404h3v1h-3zM868 404h1v1h-1zM1063 404h2v1h-2zM1219 404h1v1h-1zM562 405h2v1h-2zM868 405h1v1h-1zM1065 405h2v1h-2zM1217 405h2v1h-2zM564 406h2v1h-2zM867 406h1v1h-1zM1067 406h1v1h-1zM1216 406h1v1h-1zM566 407h1v1h-1zM866 407h1v1h-1zM1068 407h1v1h-1zM1215 407h1v1h-1zM567 408h2v1h-2zM866 408h1v1h-1zM1069 408h1v1h-1zM1213 408h2v1h-2zM569 409h2v1h-2zM865 409h1v1h-1zM1070 409h1v1h-1zM1212 409h1v1h-1zM571 410h1v1h-1zM864 410h1v1h-1zM1071 410h2v1h-2zM1210 410h2v1h-2zM572 411h1v1h-1zM864 411h1v1h-1zM1073 411h1v1h-1zM1208 411h2v1h-2zM573 412h2v1h-2zM651 412h2v1h-2zM863 412h1v1h-1zM1074 412h1v1h-1zM1079 412h6v1h-6zM1206 412h2v1h-2zM575 413h1v1h-1zM649 413h2v1h-2zM653 413h4v1h-4zM862 413h1v1h-1zM1075 413h4v1h-4zM1085 413h2v1h-2zM1204 413h2v1h-2zM576 414h1v1h-1zM648 414h1v1h-1zM657 414h4v1h-4zM862 414h1v1h-1zM1087 414h3v1h-3zM1175 414h8v1h-8zM1202 414h2v1h-2zM577 415h2v1h-2zM647 415h1v1h-1zM661 415h4v1h-4zM861 415h1v1h-1zM1090 415h3v1h-3zM1161 415h14v1h-14zM1183 415h6v1h-6zM1199 415h3v1h-3zM579 416h1v1h-1zM645 416h2v1h-2zM665 416h4v1h-4zM860 416h1v1h-1zM1093 416h4v1h-4zM1157 416h4v1h-4zM1189 416h4v1h-4zM1197 416h2v1h-2zM580 417h1v1h-1zM644 417h1v1h-1zM669 417h2v1h-2zM860 417h1v1h-1zM1097 417h14v1h-14zM1153 417h4v1h-4zM1193 417h4v1h-4zM581 418h1v1h-1zM643 418h1v1h-1zM671 418h3v1h-3zM859 418h1v1h-1zM1111 418h6v1h-6zM1149 418h4v1h-4zM582 419h1v1h-1zM642 419h1v1h-1zM674 419h3v1h-3zM858 419h1v1h-1zM1117 419h2v1h-2zM1143 419h6v1h-6zM583 420h2v1h-2zM641 420h1v1h-1zM677 420h4v1h-4zM858 420h1v1h-1zM1119 420h3v1h-3zM1135 420h8v1h-8zM585 421h1v1h-1zM639 421h2v1h-2zM681 421h3v1h-3zM857 421h1v1h-1zM1122 421h13v1h-13zM586 422h1v1h-1zM638 422h1v1h-1zM684 422h1v1h-1zM856 422h1v1h-1zM587 423h1v1h-1zM637 423h1v1h-1zM685 423h1v1h-1zM856 423h1v1h-1zM588 424h1v1h-1zM636 424h1v1h-1zM686 424h1v1h-1zM855 424h1v1h-1zM589 425h1v1h-1zM635 425h1v1h-1zM687 425h1v1h-1zM854 425h1v1h-1zM590 426h1v1h-1zM633 426h2v1h-2zM688 426h1v1h-1zM854 426h1v1h-1zM591 427h1v1h-1zM632 427h1v1h-1zM689 427h1v1h-1zM853 427h1v1h-1zM592 428h1v1h-1zM631 428h1v1h-1zM690 428h1v1h-1zM852 428h1v1h-1zM593 429h1v1h-1zM629 429h2v1h-2zM691 429h1v1h-1zM852 429h1v1h-1zM594 430h1v1h-1zM628 430h1v1h-1zM692 430h1v1h-1zM851 430h1v1h-1zM595 431h4v1h-4zM623 431h5v1h-5zM693 431h1v1h-1zM850 431h1v1h-1zM599 432h8v1h-8zM615 432h8v1h-8zM694 432h1v1h-1zM850 432h1v1h-1zM607 433h8v1h-8zM695 433h2v1h-2zM849 433h1v1h-1zM697 434h1v1h-1zM849 434h1v1h-1zM698 435h1v1h-1zM848 435h1v1h-1zM699 436h1v1h-1zM848 436h1v1h-1zM700 437h2v1h-2zM847 437h1v1h-1zM702 438h2v1h-2zM846 438h1v1h-1zM704 439h2v1h-2zM846 439h1v1h-1zM706 440h2v1h-2zM845 440h1v1h-1zM708 441h1v1h-1zM845 441h1v1h-1zM709 442h1v1h-1zM844 442h1v1h-1zM709 443h1v1h-1zM844 443h1v1h-1zM710 444h1v1h-1zM843 444h1v1h-1zM711 445h1v1h-1zM842 445h1v1h-1zM712 446h1v1h-1zM842 446h1v1h-1zM713 447h1v1h-1zM841 447h1v1h-1zM713 448h1v1h-1zM841 448h1v1h-1zM714 449h1v1h-1zM840 449h1v1h-1zM715 450h1v1h-1zM840 450h1v1h-1zM716 451h1v1h-1zM839 451h1v1h-1zM716 452h1v1h-1zM838 452h1v1h-1zM717 453h1v1h-1zM838 453h1v1h-1zM718 454h1v1h-1zM837 454h1v1h-1zM718 455h1v1h-1zM837 455h1v1h-1zM719 456h1v1h-1zM836 456h1v1h-1zM720 457h1v1h-1zM836 457h1v1h-1zM720 458h1v1h-1zM835 458h1v1h-1zM721 459h1v1h-1zM834 459h1v1h-1zM722 460h1v1h-1zM834 460h1v1h-1zM722 461h1v1h-1zM833 461h1v1h-1zM723 462h1v1h-1zM832 462h1v1h-1zM724 463h1v1h-1zM832 463h1v1h-1zM725 464h1v1h-1zM831 464h1v1h-1zM725 465h1v1h-1zM830 465h1v1h-1zM726 466h1v1h-1zM830 466h1v1h-1zM727 467h1v1h-1zM829 467h1v1h-1zM728 468h1v1h-1zM828 468h1v1h-1zM729 469h1v1h-1zM828 469h1v1h-1zM729 470h1v1h-1zM827 470h1v1h-1zM730 471h1v1h-1zM826 471h1v1h-1zM731 472h1v1h-1zM825 472h1v1h-1zM732 473h2v1h-2zM823 473h2v1h-2zM734 474h2v1h-2zM822 474h1v1h-1zM736 475h2v1h-2zM821 475h1v1h-1zM738 476h2v1h-2zM820 476h1v1h-1zM740 477h2v1h-2zM819 477h1v1h-1zM742 478h1v1h-1zM817 478h2v1h-2zM743 479h2v1h-2zM816 479h1v1h-1zM745 480h2v1h-2zM815 480h1v1h-1zM747 481h1v1h-1zM813 481h2v1h-2zM748 482h1v1h-1zM812 482h1v1h-1zM749 483h2v1h-2zM811 483h1v1h-1zM751 484h1v1h-1zM810 484h1v1h-1zM752 485h1v1h-1zM809 485h1v1h-1zM753 486h2v1h-2zM808 486h1v1h-1zM755 487h1v1h-1zM807 487h1v1h-1zM756 488h2v1h-2zM806 488h1v1h-1zM758 489h1v1h-1zM805 489h1v1h-1zM759 490h2v1h-2zM804 490h1v1h-1zM761 491h2v1h-2zM803 491h1v1h-1zM763 492h4v1h-4zM801 492h2v1h-2zM767 493h5v1h-5zM800 493h1v1h-1zM772 494h2v1h-2zM799 494h1v1h-1zM774 495h1v1h-1zM797 495h2v1h-2zM775 496h2v1h-2zM796 496h1v1h-1zM777 497h2v1h-2zM791 497h5v1h-5zM779 498h12v1h-12z" fill="#ff0000" shape-rendering="crispEdges"/>
<path d="M79 80h6v1h-6zM75 81h4v1h-4zM85 81h2v1h-2zM74 82h1v1h-1zM87 82h3v1h-3zM73 83h1v1h-1zM90 83h2v1h-2zM72 84h1v1h-1zM92 84h1v1h-1zM71 85h1v1h-1zM92 85h1v1h-1zM70 86h1v1h-1zM93 86h1v1h-1zM69 87h1v1h-1zM93 87h1v1h-1zM68 88h1v1h-1zM94 88h1v1h-1zM67 89h1v1h-1zM94 89h1v1h-1zM67 90h1v1h-1zM95 90h1v1h-1zM66 91h1v1h-1zM95 91h1v1h-1zM66 92h1v1h-1zM96 92h1v1h-1zM65 93h1v1h-1zM96 93h1v1h-1zM65 94h1v1h-1zM97 94h1v1h-1zM65 95h1v1h-1zM97 95h1v1h-1zM64 96h1v1h-1zM98 96h1v1h-1zM64 97h1v1h-1zM98 97h1v1h-1zM64 98h1v1h-1zM99 98h1v1h-1zM63 99h1v1h-1zM99 99h1v1h-1zM63 100h1v1h-1zM100 100h1v1h-1zM62 101h1v1h-1zM100 101h1v1h-1zM62 102h1v1h-1zM101 102h1v1h-1zM62 103h1v1h-1zM101 103h1v1h-1zM61 104h1v1h-1zM102 104h1v1h-1zM61 105h1v1h-1zM102 105h1v1h-1zM61 106h1v1h-1zM103 106h1v1h-1zM60 107h1v1h-1zM103 107h1v1h-1zM60 108h1v1h-1zM103 108h1v1h-1zM59 109h1v1h-1zM104 109h1v1h-1zM59 110h1v1h-1zM104 110h1v1h-1zM59 111h1v1h-1zM105 111h1v1h-1zM59 112h1v1h-1zM105 112h1v1h-1zM58 113h1v1h-1zM106 113h1v1h-1zM58 114h1v1h-1zM106 114h1v1h-1zM58 115h1v1h-1zM107 115h1v1h-1zM58 116h1v1h-1zM107 116h1v1h-1zM57 117h1v1h-1zM107 117h1v1h-1zM57 118h1v1h-1zM108 118h1v1h-1zM57 119h1v1h-1zM108 119h1v1h-1zM57 120h1v1h-1zM109 120h1v1h-1zM56 121h1v1h-1zM109 121h1v1h-1zM56 122h1v1h-1zM110 122h1v1h-1zM56 123h1v1h-1zM110 123h1v1h-1zM56 124h1v1h-1zM110 124h1v1h-1zM55 125h1v1h-1zM111 125h1v1h-1zM55 126h1v1h-1zM111 126h1v1h-1zM55 127h1v1h-1zM112 127h1v1h-1zM55 128h1v1h-1zM112 128h1v1h-1zM55 129h1v1h-1zM112 129h1v1h-1zM54 130h1v1h-1zM113 130h1v1h-1zM54 131h1v1h-1zM113 131h1v1h-1zM54 132h1v1h-1zM114 132h1v1h-1zM54 133h1v1h-1zM114 133h1v1h-1zM53 134h1v1h-1zM115 134h1v1h-1zM53 135h1v1h-1zM115 135h1v1h-1zM53 136h1v1h-1zM115 136h1v1h-1zM53 137h1v1h-1zM116 137h1v1h-1zM52 138h1v1h-1zM116 138h1v1h-1zM52 139h1v1h-1zM117 139h1v1h-1zM52 140h1v1h-1zM117 140h1v1h-1zM52 141h1v1h-1zM118 141h1v1h-1zM51 142h1v1h-1zM118 142h1v1h-1zM51 143h1v1h-1zM119 143h1v1h-1zM51 144h1v1h-1zM119 144h1v1h-1zM51 145h1v1h-1zM119 145h1v1h-1zM51 146h1v1h-1zM120 146h1v1h-1zM50 147h1v1h-1zM120 147h1v1h-1zM50 148h1v1h-1zM121 148h1v1h-1zM50 149h1v1h-1zM121 149h1v1h-1zM50 150h1v1h-1zM122 150h1v1h-1zM50 151h1v1h-1zM122 151h1v1h-1zM49 152h1v1h-1zM123 152h1v1h-1zM49 153h1v1h-1zM123 153h1v1h-1zM49 154h1v1h-1zM123 154h1v1h-1zM49 155h1v1h-1zM124 155h1v1h-1zM49 156h1v1h-1zM124 156h1v1h-1zM48 157h1v1h-1zM124 157h1v1h-1zM48 158h1v1h-1zM124 158h1v1h-1zM48 159h1v1h-1zM125 159h1v1h-1zM48 160h1v1h-1zM125 160h1v1h-1zM48 161h1v1h-1zM125 161h1v1h-1zM47 162h1v1h-1zM125 162h1v1h-1zM47 163h1v1h-1zM126 163h1v1h-1zM47 164h1v1h-1zM126 164h1v1h-1zM47 165h1v1h-1zM126 165h1v1h-1zM46 166h1v1h-1zM126 166h1v1h-1zM46 167h1v1h-1zM127 167h1v1h-1zM46 168h1v1h-1zM127 168h1v1h-1zM46 169h1v1h-1zM127 169h1v1h-1zM46 170h1v1h-1zM127 170h1v1h-1zM45 171h1v1h-1zM128 171h1v1h-1zM45 172h1v1h-1zM128 172h1v1h-1zM45 173h1v1h-1zM128 173h1v1h-1zM45 174h1v1h-1zM128 174h1v1h-1zM45 175h1v1h-1zM129 175h1v1h-1zM44 176h1v1h-1zM129 176h1v1h-1zM44 177h1v1h-1zM129 177h1v1h-1zM44 178h1v1h-1zM129 178h1v1h-1zM44 179h1v1h-1zM130 179h1v1h-1zM44 180h1v1h-1zM130 180h1v1h-1zM43 181h1v1h-1zM130 181h1v1h-1zM43 182h1v1h-1zM130 182h1v1h-1zM43 183h1v1h-1zM131 183h1v1h-1zM43 184h1v1h-1zM131 184h1v1h-1zM42 185h1v1h-1zM131 185h1v1h-1zM42 186h1v1h-1zM131 186h1v1h-1zM42 187h1v1h-1zM132 187h1v1h-1zM42 188h1v1h-1zM132 188h1v1h-1zM41 189h1v1h-1zM133 189h1v1h-1zM41 190h1v1h-1zM133 190h1v1h-1zM41 191h1v1h-1zM134 191h1v1h-1zM40 192h1v1h-1zM134 192h1v1h-1zM40 193h1v1h-1zM135 193h1v1h-1zM40 194h1v1h-1zM135 194h1v1h-1zM39 195h1v1h-1zM136 195h1v1h-1zM39 196h1v1h-1zM136 196h1v1h-1zM39 197h1v1h-1zM137 197h1v1h-1zM39 198h1v1h-1zM137 198h1v1h-1zM38 199h1v1h-1zM138 199h1v1h-1zM38 200h1v1h-1zM138 200h1v1h-1zM195 200h1v1h-1zM38 201h1v1h-1zM139 201h1v1h-1zM194 201h1v1h-1zM196 201h1v1h-1zM37 202h1v1h-1zM139 202h1v1h-1zM193 202h1v1h-1zM197 202h1v1h-1zM37 203h1v1h-1zM139 203h1v1h-1zM193 203h1v1h-1zM197 203h1v1h-1zM37 204h1v1h-1zM140 204h1v1h-1zM192 204h1v1h-1zM198 204h1v1h-1zM36 205h1v1h-1zM140 205h1v1h-1zM191 205h1v1h-1zM199 205h1v1h-1zM36 206h1v1h-1zM141 206h1v1h-1zM190 206h1v1h-1zM200 206h1v1h-1zM36 207h1v1h-1zM141 207h1v1h-1zM189 207h1v1h-1zM201 207h1v1h-1zM36 208h1v1h-1zM142 208h1v1h-1zM189 208h1v1h-1zM201 208h1v1h-1zM35 209h1v1h-1zM142 209h1v1h-1zM188 209h1v1h-1zM202 209h1v1h-1zM35 210h1v1h-1zM143 210h1v1h-1zM187 210h1v1h-1zM203 210h1v1h-1zM35 211h1v1h-1zM143 211h1v1h-1zM186 211h1v1h-1zM204 211h2v1h-2zM3 212h1v1h-1zM34 212h1v1h-1zM143 212h1v1h-1zM186 212h1v1h-1zM206 212h1v1h-1zM3 213h1v1h-1zM34 213h1v1h-1zM144 213h1v1h-1zM185 213h1v1h-1zM207 213h2v1h-2zM4 214h1v1h-1zM34 214h1v1h-1zM144 214h1v1h-1zM184 214h1v1h-1zM209 214h2v1h-2zM4 215h1v1h-1zM33 215h1v1h-1zM145 215h1v1h-1zM184 215h1v1h-1zM211 215h1v1h-1zM5 216h1v1h-1zM33 216h1v1h-1zM145 216h1v1h-1zM183 216h1v1h-1zM212 216h2v1h-2zM5 217h1v1h-1zM33 217h1v1h-1zM146 217h1v1h-1zM182 217h1v1h-1zM214 217h1v1h-1zM6 218h1v1h-1zM32 218h1v1h-1zM146 218h1v1h-1zM182 218h1v1h-1zM215 218h2v1h-2zM6 219h1v1h-1zM32 219h1v1h-1zM147 219h1v1h-1zM181 219h1v1h-1zM217 219h2v1h-2zM6 220h1v1h-1zM32 220h1v1h-1zM147 220h1v1h-1zM180 220h1v1h-1zM219 220h1v1h-1zM7 221h1v1h-1zM31 221h1v1h-1zM148 221h1v1h-1zM180 221h1v1h-1zM220 221h1v1h-1zM7 222h1v1h-1zM31 222h1v1h-1zM148 222h1v1h-1zM179 222h1v1h-1zM220 222h1v1h-1zM8 223h1v1h-1zM30 223h1v1h-1zM149 223h1v1h-1zM177 223h2v1h-2zM221 223h1v1h-1zM8 224h1v1h-1zM30 224h1v1h-1zM149 224h1v1h-1zM176 224h1v1h-1zM222 224h1v1h-1zM8 225h1v1h-1zM30 225h1v1h-1zM150 225h1v1h-1zM175 225h1v1h-1zM223 225h1v1h-1zM9 226h1v1h-1zM29 226h1v1h-1zM151 226h1v1h-1zM173 226h2v1h-2zM223 226h1v1h-1zM9 227h1v1h-1zM29 227h1v1h-1zM151 227h1v1h-1zM172 227h1v1h-1zM224 227h1v1h-1zM10 228h1v1h-1zM29 228h1v1h-1zM152 228h1v1h-1zM171 228h1v1h-1zM225 228h1v1h-1zM10 229h1v1h-1zM28 229h1v1h-1zM153 229h1v1h-1zM170 229h1v1h-1zM226 229h1v1h-1zM11 230h1v1h-1zM28 230h1v1h-1zM153 230h1v1h-1zM169 230h1v1h-1zM226 230h1v1h-1zM11 231h1v1h-1zM28 231h1v1h-1zM154 231h1v1h-1zM168 231h1v1h-1zM227 231h1v1h-1zM12 232h1v1h-1zM27 232h1v1h-1zM154 232h1v1h-1zM167 232h1v1h-1zM228 232h1v1h-1zM12 233h1v1h-1zM27 233h1v1h-1zM155 233h1v1h-1zM167 233h1v1h-1zM229 233h1v1h-1zM13 234h1v1h-1zM26 234h1v1h-1zM156 234h2v1h-2zM166 234h1v1h-1zM230 234h1v1h-1zM14 235h1v1h-1zM25 235h1v1h-1zM158 235h2v1h-2zM165 235h1v1h-1zM231 235h1v1h-1zM14 236h1v1h-1zM25 236h1v1h-1zM160 236h2v1h-2zM164 236h1v1h-1zM232 236h1v1h-1zM15 237h1v1h-1zM24 237h1v1h-1zM162 237h2v1h-2zM233 237h1v1h-1zM16 238h1v1h-1zM23 238h1v1h-1zM234 238h1v1h-1zM239 238h5v1h-5zM16 239h1v1h-1zM22 239h1v1h-1zM235 239h4v1h-4zM244 239h1v1h-1zM17 240h1v1h-1zM21 240h1v1h-1zM244 240h1v1h-1zM18 241h1v1h-1zM21 241h1v1h-1zM245 241h1v1h-1zM18 242h1v1h-1zM20 242h1v1h-1zM245 242h1v1h-1zM19 243h1v1h-1zM246 243h1v1h-1zM246 244h1v1h-1zM386 244h2v1h-2zM247 245h1v1h-1zM383 245h3v1h-3zM388 245h1v1h-1zM247 246h1v1h-1zM381 246h2v1h-2zM389 246h1v1h-1zM248 247h1v1h-1zM377 247h4v1h-4zM389 247h1v1h-1zM248 248h1v1h-1zM373 248h4v1h-4zM390 248h1v1h-1zM249 249h1v1h-1zM371 249h2v1h-2zM391 249h1v1h-1zM249 250h1v1h-1zM371 250h1v1h-1zM392 250h1v1h-1zM250 251h1v1h-1zM370 251h1v1h-1zM393 251h1v1h-1zM250 252h1v1h-1zM370 252h1v1h-1zM393 252h1v1h-1zM251 253h1v1h-1zM369 253h1v1h-1zM394 253h1v1h-1zM251 254h1v1h-1zM369 254h1v1h-1zM395 254h1v1h-1zM252 255h1v1h-1zM369 255h1v1h-1zM396 255h1v1h-1zM252 256h1v1h-1zM368 256h1v1h-1zM396 256h1v1h-1zM253 257h1v1h-1zM368 257h1v1h-1zM397 257h1v1h-1zM253 258h1v1h-1zM368 258h1v1h-1zM397 258h1v1h-1zM254 259h1v1h-1zM367 259h1v1h-1zM398 259h1v1h-1zM254 260h1v1h-1zM367 260h1v1h-1zM399 260h1v1h-1zM255 261h1v1h-1zM366 261h1v1h-1zM399 261h1v1h-1zM255 262h1v1h-1zM366 262h1v1h-1zM400 262h1v1h-1zM256 263h1v1h-1zM366 263h1v1h-1zM401 263h1v1h-1zM256 264h1v1h-1zM365 264h1v1h-1zM401 264h1v1h-1zM257 265h1v1h-1zM365 265h1v1h-1zM402 265h1v1h-1zM257 266h1v1h-1zM365 266h1v1h-1zM402 266h1v1h-1zM258 267h1v1h-1zM364 267h1v1h-1zM403 267h1v1h-1zM258 268h1v1h-1zM364 268h1v1h-1zM403 268h1v1h-1zM259 269h1v1h-1zM363 269h1v1h-1zM404 269h1v1h-1zM259 270h1v1h-1zM363 270h1v1h-1zM404 270h1v1h-1zM260 271h1v1h-1zM363 271h1v1h-1zM404 271h1v1h-1zM260 272h1v1h-1zM362 272h1v1h-1zM405 272h1v1h-1zM261 273h1v1h-1zM362 273h1v1h-1zM405 273h1v1h-1zM261 274h1v1h-1zM361 274h1v1h-1zM405 274h1v1h-1zM262 275h1v1h-1zM361 275h1v1h-1zM406 275h1v1h-1zM263 276h1v1h-1zM360 276h1v1h-1zM406 276h1v1h-1zM263 277h1v1h-1zM360 277h1v1h-1zM406 277h1v1h-1zM264 278h1v1h-1zM360 278h1v1h-1zM407 278h1v1h-1zM265 279h1v1h-1zM359 279h1v1h-1zM407 279h1v1h-1zM265 280h1v1h-1zM359 280h1v1h-1zM408 280h1v1h-1zM266 281h1v1h-1zM358 281h1v1h-1zM408 281h1v1h-1zM266 282h1v1h-1zM358 282h1v1h-1zM408 282h1v1h-1zM267 283h1v1h-1zM358 283h1v1h-1zM409 283h1v1h-1zM267 284h1v1h-1zM357 284h1v1h-1zM409 284h1v1h-1zM268 285h1v1h-1zM357 285h1v1h-1zM409 285h1v1h-1zM268 286h1v1h-1zM356 286h1v1h-1zM410 286h1v1h-1zM269 287h1v1h-1zM356 287h1v1h-1zM410 287h1v1h-1zM269 288h1v1h-1zM355 288h1v1h-1zM410 288h1v1h-1zM270 289h1v1h-1zM355 289h1v1h-1zM411 289h1v1h-1zM270 290h1v1h-1zM355 290h1v1h-1zM411 290h1v1h-1zM270 291h1v1h-1zM355 291h1v1h-1zM411 291h1v1h-1zM271 292h1v1h-1zM354 292h1v1h-1zM412 292h1v1h-1zM271 293h1v1h-1zM354 293h1v1h-1zM412 293h1v1h-1zM272 294h1v1h-1zM354 294h1v1h-1zM412 294h1v1h-1zM272 295h1v1h-1zM354 295h1v1h-1zM413 295h1v1h-1zM272 296h1v1h-1zM353 296h1v1h-1zM413 296h1v1h-1zM273 297h1v1h-1zM353 297h1v1h-1zM413 297h1v1h-1zM273 298h1v1h-1zM353 298h1v1h-1zM414 298h1v1h-1zM274 299h1v1h-1zM353 299h1v1h-1zM414 299h1v1h-1zM274 300h1v1h-1zM352 300h1v1h-1zM414 300h1v1h-1zM275 301h1v1h-1zM352 301h1v1h-1zM415 301h1v1h-1zM275 302h1v1h-1zM352 302h1v1h-1zM415 302h1v1h-1zM275 303h1v1h-1zM352 303h1v1h-1zM416 303h1v1h-1zM276 304h1v1h-1zM352 304h1v1h-1zM416 304h1v1h-1zM276 305h1v1h-1zM351 305h1v1h-1zM416 305h1v1h-1zM277 306h1v1h-1zM351 306h1v1h-1zM417 306h1v1h-1zM963 306h1v1h-1zM277 307h1v1h-1zM351 307h1v1h-1zM417 307h1v1h-1zM962 307h1v1h-1zM964 307h1v1h-1zM278 308h1v1h-1zM351 308h1v1h-1zM417 308h1v1h-1zM961 308h1v1h-1zM965 308h1v1h-1zM278 309h1v1h-1zM350 309h1v1h-1zM418 309h1v1h-1zM959 309h2v1h-2zM965 309h1v1h-1zM279 310h1v1h-1zM350 310h1v1h-1zM418 310h1v1h-1zM958 310h1v1h-1zM966 310h1v1h-1zM279 311h1v1h-1zM350 311h1v1h-1zM418 311h1v1h-1zM957 311h1v1h-1zM967 311h1v1h-1zM280 312h1v1h-1zM350 312h1v1h-1zM419 312h1v1h-1zM956 312h1v1h-1zM968 312h1v1h-1zM280 313h1v1h-1zM350 313h1v1h-1zM419 313h1v1h-1zM955 313h1v1h-1zM969 313h1v1h-1zM281 314h1v1h-1zM349 314h1v1h-1zM419 314h1v1h-1zM875 314h2v1h-2zM954 314h1v1h-1zM969 314h1v1h-1zM281 315h1v1h-1zM349 315h1v1h-1zM420 315h1v1h-1zM874 315h1v1h-1zM877 315h4v1h-4zM954 315h1v1h-1zM970 315h1v1h-1zM282 316h1v1h-1zM349 316h1v1h-1zM420 316h1v1h-1zM874 316h1v1h-1zM881 316h3v1h-3zM953 316h1v1h-1zM971 316h1v1h-1zM282 317h1v1h-1zM349 317h1v1h-1zM420 317h1v1h-1zM873 317h1v1h-1zM884 317h1v1h-1zM953 317h1v1h-1zM972 317h1v1h-1zM283 318h1v1h-1zM348 318h1v1h-1zM421 318h1v1h-1zM872 318h1v1h-1zM884 318h1v1h-1zM952 318h1v1h-1zM972 318h1v1h-1zM283 319h2v1h-2zM348 319h1v1h-1zM421 319h1v1h-1zM871 319h1v1h-1zM885 319h1v1h-1zM952 319h1v1h-1zM973 319h1v1h-1zM285 320h4v1h-4zM295 320h5v1h-5zM348 320h1v1h-1zM421 320h1v1h-1zM871 320h1v1h-1zM886 320h1v1h-1zM951 320h1v1h-1zM973 320h1v1h-1zM289 321h6v1h-6zM300 321h2v1h-2zM348 321h1v1h-1zM422 321h1v1h-1zM870 321h1v1h-1zM887 321h1v1h-1zM950 321h1v1h-1zM974 321h1v1h-1zM302 322h1v1h-1zM347 322h1v1h-1zM422 322h1v1h-1zM869 322h1v1h-1zM887 322h1v1h-1zM950 322h1v1h-1zM974 322h1v1h-1zM303 323h2v1h-2zM347 323h1v1h-1zM422 323h1v1h-1zM868 323h1v1h-1zM888 323h1v1h-1zM949 323h1v1h-1zM975 323h1v1h-1zM305 324h2v1h-2zM347 324h1v1h-1zM423 324h1v1h-1zM868 324h1v1h-1zM889 324h1v1h-1zM949 324h1v1h-1zM975 324h1v1h-1zM1265 324h3v1h-3zM307 325h1v1h-1zM346 325h1v1h-1zM423 325h1v1h-1zM867 325h1v1h-1zM890 325h1v1h-1zM948 325h1v1h-1zM976 325h1v1h-1zM1261 325h4v1h-4zM1268 325h2v1h-2zM308 326h1v1h-1zM346 326h1v1h-1zM424 326h1v1h-1zM867 326h1v1h-1zM890 326h1v1h-1zM948 326h1v1h-1zM976 326h1v1h-1zM1259 326h2v1h-2zM1270 326h2v1h-2zM308 327h1v1h-1zM345 327h1v1h-1zM424 327h1v1h-1zM866 327h1v1h-1zM891 327h1v1h-1zM947 327h1v1h-1zM977 327h1v1h-1zM1258 327h1v1h-1zM1272 327h2v1h-2zM309 328h1v1h-1zM345 328h1v1h-1zM424 328h1v1h-1zM866 328h1v1h-1zM892 328h1v1h-1zM947 328h1v1h-1zM977 328h1v1h-1zM1258 328h1v1h-1zM1274 328h2v1h-2zM310 329h1v1h-1zM344 329h1v1h-1zM425 329h1v1h-1zM866 329h1v1h-1zM892 329h1v1h-1zM946 329h1v1h-1zM978 329h1v1h-1zM1257 329h1v1h-1zM1276 329h1v1h-1zM310 330h1v1h-1zM343 330h1v1h-1zM425 330h1v1h-1zM865 330h1v1h-1zM893 330h1v1h-1zM946 330h1v1h-1zM978 330h1v1h-1zM1257 330h1v1h-1zM1277 330h1v1h-1zM311 331h1v1h-1zM343 331h1v1h-1zM425 331h1v1h-1zM865 331h1v1h-1zM893 331h1v1h-1zM945 331h1v1h-1zM979 331h1v1h-1zM1256 331h1v1h-1zM1278 331h1v1h-1zM312 332h1v1h-1zM342 332h1v1h-1zM426 332h1v1h-1zM864 332h1v1h-1zM894 332h1v1h-1zM945 332h1v1h-1zM979 332h1v1h-1zM1256 332h1v1h-1zM1279 332h2v1h-2zM312 333h1v1h-1zM341 333h1v1h-1zM426 333h1v1h-1zM864 333h1v1h-1zM894 333h1v1h-1zM944 333h1v1h-1zM979 333h1v1h-1zM1255 333h1v1h-1zM1281 333h1v1h-1zM313 334h1v1h-1zM341 334h1v1h-1zM426 334h1v1h-1zM864 334h1v1h-1zM895 334h1v1h-1zM944 334h1v1h-1zM980 334h1v1h-1zM1254 334h1v1h-1zM1282 334h1v1h-1zM314 335h1v1h-1zM340 335h1v1h-1zM427 335h1v1h-1zM863 335h1v1h-1zM895 335h1v1h-1zM943 335h1v1h-1zM980 335h1v1h-1zM1254 335h1v1h-1zM1283 335h1v1h-1zM314 336h1v1h-1zM340 336h1v1h-1zM427 336h1v1h-1zM863 336h1v1h-1zM896 336h1v1h-1zM943 336h1v1h-1zM980 336h1v1h-1zM1253 336h1v1h-1zM1284 336h1v1h-1zM315 337h2v1h-2zM339 337h1v1h-1zM427 337h1v1h-1zM863 337h1v1h-1zM896 337h1v1h-1zM943 337h1v1h-1zM981 337h1v1h-1zM1253 337h1v1h-1zM1284 337h1v1h-1zM317 338h2v1h-2zM338 338h1v1h-1zM428 338h1v1h-1zM862 338h1v1h-1zM897 338h1v1h-1zM942 338h1v1h-1zM981 338h1v1h-1zM1252 338h1v1h-1zM1285 338h1v1h-1zM319 339h3v1h-3zM337 339h1v1h-1zM428 339h1v1h-1zM862 339h1v1h-1zM897 339h1v1h-1zM942 339h1v1h-1zM981 339h1v1h-1zM1252 339h1v1h-1zM1285 339h1v1h-1zM322 340h2v1h-2zM336 340h1v1h-1zM429 340h1v1h-1zM862 340h1v1h-1zM898 340h1v1h-1zM941 340h1v1h-1zM982 340h1v1h-1zM1251 340h1v1h-1zM1286 340h1v1h-1zM324 341h1v1h-1zM335 341h1v1h-1zM429 341h1v1h-1zM482 341h5v1h-5zM861 341h1v1h-1zM898 341h1v1h-1zM941 341h1v1h-1zM982 341h1v1h-1zM1250 341h1v1h-1zM1287 341h1v1h-1zM325 342h2v1h-2zM335 342h1v1h-1zM430 342h1v1h-1zM480 342h2v1h-2zM487 342h8v1h-8zM861 342h1v1h-1zM899 342h1v1h-1zM940 342h1v1h-1zM982 342h1v1h-1zM1249 342h1v1h-1zM1287 342h1v1h-1zM327 343h1v1h-1zM334 343h1v1h-1zM430 343h1v1h-1zM478 343h2v1h-2zM495 343h5v1h-5zM860 343h1v1h-1zM899 343h1v1h-1zM940 343h1v1h-1zM983 343h1v1h-1zM1248 343h1v1h-1zM1288 343h1v1h-1zM328 344h1v1h-1zM333 344h1v1h-1zM431 344h1v1h-1zM476 344h2v1h-2zM499 344h1v1h-1zM860 344h1v1h-1zM900 344h1v1h-1zM939 344h1v1h-1zM983 344h1v1h-1zM1247 344h1v1h-1zM1289 344h1v1h-1zM329 345h2v1h-2zM332 345h1v1h-1zM431 345h1v1h-1zM475 345h1v1h-1zM500 345h1v1h-1zM860 345h1v1h-1zM900 345h1v1h-1zM939 345h1v1h-1zM983 345h1v1h-1zM1247 345h1v1h-1zM1289 345h1v1h-1zM331 346h1v1h-1zM432 346h1v1h-1zM474 346h1v1h-1zM500 346h1v1h-1zM859 346h1v1h-1zM901 346h1v1h-1zM938 346h1v1h-1zM983 346h1v1h-1zM1246 346h1v1h-1zM1290 346h1v1h-1zM432 347h1v1h-1zM473 347h1v1h-1zM501 347h1v1h-1zM859 347h1v1h-1zM901 347h1v1h-1zM938 347h1v1h-1zM984 347h1v1h-1zM1245 347h1v1h-1zM1290 347h1v1h-1zM433 348h1v1h-1zM472 348h1v1h-1zM501 348h1v1h-1zM859 348h1v1h-1zM902 348h1v1h-1zM937 348h1v1h-1zM984 348h1v1h-1zM1244 348h1v1h-1zM1291 348h1v1h-1zM433 349h1v1h-1zM471 349h1v1h-1zM502 349h1v1h-1zM858 349h1v1h-1zM903 349h1v1h-1zM937 349h1v1h-1zM984 349h1v1h-1zM1243 349h1v1h-1zM1292 349h1v1h-1zM434 350h1v1h-1zM471 350h1v1h-1zM502 350h1v1h-1zM858 350h1v1h-1zM903 350h1v1h-1zM936 350h1v1h-1zM985 350h1v1h-1zM1242 350h1v1h-1zM1292 350h1v1h-1zM434 351h1v1h-1zM470 351h1v1h-1zM503 351h1v1h-1zM858 351h1v1h-1zM904 351h1v1h-1zM936 351h1v1h-1zM985 351h1v1h-1zM1241 351h1v1h-1zM1293 351h1v1h-1zM435 352h1v1h-1zM469 352h1v1h-1zM503 352h1v1h-1zM857 352h1v1h-1zM905 352h1v1h-1zM935 352h1v1h-1zM985 352h1v1h-1zM1241 352h1v1h-1zM1293 352h1v1h-1zM435 353h1v1h-1zM468 353h1v1h-1zM504 353h1v1h-1zM857 353h1v1h-1zM905 353h1v1h-1zM935 353h1v1h-1zM986 353h1v1h-1zM1240 353h1v1h-1zM1294 353h1v1h-1zM436 354h1v1h-1zM467 354h1v1h-1zM504 354h1v1h-1zM857 354h1v1h-1zM906 354h1v1h-1zM934 354h1v1h-1zM986 354h1v1h-1zM1239 354h1v1h-1zM1294 354h1v1h-1zM437 355h1v1h-1zM466 355h1v1h-1zM505 355h1v1h-1zM857 355h1v1h-1zM906 355h1v1h-1zM934 355h1v1h-1zM986 355h1v1h-1zM1238 355h1v1h-1zM1295 355h1v1h-1zM437 356h1v1h-1zM465 356h1v1h-1zM505 356h1v1h-1zM856 356h1v1h-1zM907 356h1v1h-1zM933 356h1v1h-1zM987 356h1v1h-1zM1237 356h1v1h-1zM1296 356h1v1h-1zM438 357h1v1h-1zM465 357h1v1h-1zM506 357h1v1h-1zM856 357h1v1h-1zM908 357h1v1h-1zM933 357h1v1h-1zM987 357h1v1h-1zM1237 357h1v1h-1zM1296 357h1v1h-1zM439 358h1v1h-1zM464 358h1v1h-1zM506 358h1v1h-1zM856 358h1v1h-1zM909 358h1v1h-1zM932 358h1v1h-1zM987 358h1v1h-1zM1236 358h1v1h-1zM1297 358h1v1h-1zM440 359h1v1h-1zM463 359h1v1h-1zM507 359h1v1h-1zM855 359h1v1h-1zM910 359h1v1h-1zM932 359h1v1h-1zM988 359h1v1h-1zM1235 359h1v1h-1zM1297 359h1v1h-1zM441 360h1v1h-1zM462 360h1v1h-1zM507 360h1v1h-1zM855 360h1v1h-1zM911 360h1v1h-1zM931 360h1v1h-1zM988 360h1v1h-1zM1235 360h1v1h-1zM1298 360h1v1h-1zM441 361h1v1h-1zM461 361h1v1h-1zM507 361h1v1h-1zM855 361h1v1h-1zM911 361h1v1h-1zM929 361h2v1h-2zM988 361h1v1h-1zM1234 361h1v1h-1zM1298 361h1v1h-1zM442 362h1v1h-1zM461 362h1v1h-1zM508 362h1v1h-1zM854 362h1v1h-1zM912 362h1v1h-1zM927 362h2v1h-2zM988 362h1v1h-1zM1234 362h1v1h-1zM1299 362h1v1h-1zM443 363h4v1h-4zM460 363h1v1h-1zM508 363h1v1h-1zM854 363h1v1h-1zM913 363h1v1h-1zM926 363h1v1h-1zM989 363h1v1h-1zM1233 363h1v1h-1zM1300 363h1v1h-1zM447 364h13v1h-13zM508 364h1v1h-1zM854 364h1v1h-1zM914 364h1v1h-1zM924 364h2v1h-2zM989 364h1v1h-1zM1233 364h1v1h-1zM1301 364h1v1h-1zM1331 364h1v1h-1zM508 365h1v1h-1zM853 365h1v1h-1zM915 365h9v1h-9zM989 365h1v1h-1zM1232 365h1v1h-1zM1302 365h1v1h-1zM1330 365h1v1h-1zM509 366h1v1h-1zM853 366h1v1h-1zM990 366h1v1h-1zM1232 366h1v1h-1zM1303 366h2v1h-2zM1329 366h1v1h-1zM509 367h1v1h-1zM853 367h1v1h-1zM990 367h1v1h-1zM1231 367h1v1h-1zM1305 367h1v1h-1zM1328 367h1v1h-1zM509 368h1v1h-1zM853 368h1v1h-1zM990 368h1v1h-1zM1231 368h1v1h-1zM1306 368h1v1h-1zM1327 368h1v1h-1zM509 369h1v1h-1zM852 369h1v1h-1zM991 369h1v1h-1zM1230 369h1v1h-1zM1307 369h1v1h-1zM1326 369h1v1h-1zM510 370h1v1h-1zM852 370h1v1h-1zM991 370h1v1h-1zM1230 370h1v1h-1zM1308 370h1v1h-1zM1325 370h1v1h-1zM510 371h1v1h-1zM852 371h1v1h-1zM991 371h1v1h-1zM1229 371h1v1h-1zM1309 371h2v1h-2zM1324 371h1v1h-1zM510 372h1v1h-1zM851 372h1v1h-1zM991 372h1v1h-1zM1229 372h1v1h-1zM1311 372h1v1h-1zM1322 372h2v1h-2zM510 373h1v1h-1zM851 373h1v1h-1zM992 373h1v1h-1zM1228 373h1v1h-1zM1312 373h1v1h-1zM1319 373h3v1h-3zM511 374h1v1h-1zM851 374h1v1h-1zM992 374h1v1h-1zM1228 374h1v1h-1zM1313 374h2v1h-2zM1317 374h2v1h-2zM511 375h1v1h-1zM850 375h1v1h-1zM992 375h1v1h-1zM1227 375h1v1h-1zM1315 375h2v1h-2zM511 376h1v1h-1zM850 376h1v1h-1zM993 376h1v1h-1zM1226 376h1v1h-1zM511 377h1v1h-1zM850 377h1v1h-1zM993 377h1v1h-1zM1226 377h1v1h-1zM512 378h1v1h-1zM849 378h1v1h-1zM993 378h1v1h-1zM1225 378h1v1h-1zM512 379h1v1h-1zM849 379h1v1h-1zM994 379h1v1h-1zM1225 379h1v1h-1zM512 380h1v1h-1zM848 380h1v1h-1zM994 380h1v1h-1zM1224 380h1v1h-1zM512 381h1v1h-1zM848 381h1v1h-1zM994 381h1v1h-1zM1187 381h2v1h-2zM1223 381h1v1h-1zM513 382h1v1h-1zM848 382h1v1h-1zM994 382h1v1h-1zM1185 382h2v1h-2zM1189 382h2v1h-2zM1223 382h1v1h-1zM513 383h1v1h-1zM847 383h1v1h-1zM995 383h1v1h-1zM1184 383h1v1h-1zM1191 383h3v1h-3zM1222 383h1v1h-1zM513 384h1v1h-1zM847 384h1v1h-1zM995 384h1v1h-1zM1183 384h1v1h-1zM1194 384h3v1h-3zM1221 384h1v1h-1zM513 385h1v1h-1zM847 385h1v1h-1zM995 385h1v1h-1zM1181 385h2v1h-2zM1197 385h2v1h-2zM1221 385h1v1h-1zM514 386h1v1h-1zM846 386h1v1h-1zM996 386h1v1h-1zM1083 386h1v1h-1zM1180 386h1v1h-1zM1199 386h3v1h-3zM1207 386h6v1h-6zM1220 386h1v1h-1zM514 387h1v1h-1zM846 387h1v1h-1zM996 387h1v1h-1zM1081 387h2v1h-2zM1084 387h2v1h-2zM1179 387h1v1h-1zM1202 387h5v1h-5zM1213 387h4v1h-4zM1220 387h1v1h-1zM514 388h1v1h-1zM846 388h1v1h-1zM996 388h1v1h-1zM1079 388h2v1h-2zM1086 388h1v1h-1zM1178 388h1v1h-1zM1217 388h3v1h-3zM514 389h1v1h-1zM845 389h1v1h-1zM996 389h1v1h-1zM1078 389h1v1h-1zM1087 389h2v1h-2zM1178 389h1v1h-1zM515 390h1v1h-1zM845 390h1v1h-1zM997 390h1v1h-1zM1076 390h2v1h-2zM1089 390h2v1h-2zM1177 390h1v1h-1zM515 391h1v1h-1zM844 391h1v1h-1zM997 391h1v1h-1zM1075 391h1v1h-1zM1091 391h1v1h-1zM1177 391h1v1h-1zM515 392h1v1h-1zM844 392h1v1h-1zM997 392h1v1h-1zM1074 392h1v1h-1zM1092 392h1v1h-1zM1176 392h1v1h-1zM516 393h1v1h-1zM844 393h1v1h-1zM998 393h1v1h-1zM1074 393h1v1h-1zM1092 393h1v1h-1zM1175 393h1v1h-1zM516 394h1v1h-1zM843 394h1v1h-1zM998 394h1v1h-1zM1073 394h1v1h-1zM1093 394h1v1h-1zM1175 394h1v1h-1zM516 395h1v1h-1zM843 395h1v1h-1zM998 395h1v1h-1zM1072 395h1v1h-1zM1094 395h1v1h-1zM1174 395h1v1h-1zM517 396h1v1h-1zM843 396h1v1h-1zM999 396h1v1h-1zM1072 396h1v1h-1zM1095 396h1v1h-1zM1173 396h1v1h-1zM517 397h1v1h-1zM842 397h1v1h-1zM999 397h1v1h-1zM1071 397h1v1h-1zM1095 397h1v1h-1zM1173 397h1v1h-1zM517 398h1v1h-1zM842 398h1v1h-1zM999 398h1v1h-1zM1070 398h1v1h-1zM1096 398h1v1h-1zM1172 398h1v1h-1zM517 399h1v1h-1zM841 399h1v1h-1zM999 399h1v1h-1zM1070 399h1v1h-1zM1097 399h1v1h-1zM1172 399h1v1h-1zM518 400h1v1h-1zM635 400h2v1h-2zM841 400h1v1h-1zM1000 400h1v1h-1zM1069 400h1v1h-1zM1098 400h1v1h-1zM1171 400h1v1h-1zM518 401h1v1h-1zM634 401h1v1h-1zM637 401h2v1h-2zM840 401h1v1h-1zM1000 401h1v1h-1zM1068 401h1v1h-1zM1098 401h1v1h-1zM1171 401h1v1h-1zM518 402h1v1h-1zM634 402h1v1h-1zM639 402h3v1h-3zM840 402h1v1h-1zM1000 402h1v1h-1zM1068 402h1v1h-1zM1099 402h1v1h-1zM1170 402h1v1h-1zM519 403h1v1h-1zM633 403h1v1h-1zM642 403h2v1h-2zM839 403h1v1h-1zM1001 403h1v1h-1zM1067 403h1v1h-1zM1100 403h1v1h-1zM1170 403h1v1h-1zM519 404h1v1h-1zM633 404h1v1h-1zM644 404h2v1h-2zM839 404h1v1h-1zM1001 404h1v1h-1zM1066 404h1v1h-1zM1100 404h1v1h-1zM1169 404h1v1h-1zM519 405h1v1h-1zM632 405h1v1h-1zM646 405h1v1h-1zM839 405h1v1h-1zM1001 405h1v1h-1zM1066 405h1v1h-1zM1101 405h1v1h-1zM1169 405h1v1h-1zM520 406h1v1h-1zM617 406h3v1h-3zM631 406h1v1h-1zM647 406h2v1h-2zM838 406h1v1h-1zM1002 406h1v1h-1zM1065 406h1v1h-1zM1101 406h1v1h-1zM1168 406h1v1h-1zM520 407h1v1h-1zM613 407h4v1h-4zM620 407h1v1h-1zM631 407h1v1h-1zM649 407h2v1h-2zM838 407h1v1h-1zM1002 407h1v1h-1zM1065 407h1v1h-1zM1102 407h1v1h-1zM1168 407h1v1h-1zM520 408h1v1h-1zM611 408h2v1h-2zM621 408h1v1h-1zM630 408h1v1h-1zM651 408h1v1h-1zM837 408h1v1h-1zM1002 408h1v1h-1zM1064 408h1v1h-1zM1103 408h1v1h-1zM1167 408h1v1h-1zM521 409h1v1h-1zM610 409h1v1h-1zM622 409h1v1h-1zM629 409h1v1h-1zM652 409h1v1h-1zM837 409h1v1h-1zM1002 409h1v1h-1zM1064 409h1v1h-1zM1103 409h1v1h-1zM1167 409h1v1h-1zM521 410h1v1h-1zM609 410h1v1h-1zM623 410h2v1h-2zM629 410h1v1h-1zM652 410h1v1h-1zM836 410h1v1h-1zM1003 410h1v1h-1zM1063 410h1v1h-1zM1104 410h1v1h-1zM1166 410h1v1h-1zM521 411h1v1h-1zM608 411h1v1h-1zM625 411h1v1h-1zM628 411h1v1h-1zM653 411h1v1h-1zM836 411h1v1h-1zM1003 411h1v1h-1zM1062 411h1v1h-1zM1105 411h1v1h-1zM1166 411h1v1h-1zM521 412h1v1h-1zM607 412h1v1h-1zM626 412h1v1h-1zM628 412h1v1h-1zM653 412h1v1h-1zM835 412h1v1h-1zM1004 412h1v1h-1zM1062 412h1v1h-1zM1105 412h1v1h-1zM1165 412h1v1h-1zM522 413h1v1h-1zM607 413h1v1h-1zM627 413h1v1h-1zM654 413h1v1h-1zM835 413h1v1h-1zM1005 413h1v1h-1zM1061 413h1v1h-1zM1106 413h1v1h-1zM1165 413h1v1h-1zM522 414h1v1h-1zM606 414h1v1h-1zM655 414h1v1h-1zM834 414h1v1h-1zM1006 414h1v1h-1zM1061 414h1v1h-1zM1106 414h1v1h-1zM1164 414h1v1h-1zM522 415h1v1h-1zM605 415h1v1h-1zM655 415h1v1h-1zM834 415h1v1h-1zM1007 415h2v1h-2zM1060 415h1v1h-1zM1107 415h1v1h-1zM1164 415h1v1h-1zM523 416h1v1h-1zM586 416h2v1h-2zM604 416h1v1h-1zM656 416h1v1h-1zM833 416h1v1h-1zM1009 416h1v1h-1zM1060 416h1v1h-1zM1108 416h1v1h-1zM1163 416h1v1h-1zM523 417h1v1h-1zM583 417h3v1h-3zM588 417h1v1h-1zM603 417h1v1h-1zM657 417h1v1h-1zM832 417h1v1h-1zM1010 417h1v1h-1zM1059 417h1v1h-1zM1108 417h1v1h-1zM1163 417h1v1h-1zM523 418h1v1h-1zM581 418h2v1h-2zM589 418h1v1h-1zM601 418h2v1h-2zM657 418h1v1h-1zM832 418h1v1h-1zM1011 418h1v1h-1zM1058 418h1v1h-1zM1109 418h1v1h-1zM1162 418h1v1h-1zM524 419h1v1h-1zM579 419h2v1h-2zM590 419h1v1h-1zM600 419h1v1h-1zM658 419h1v1h-1zM665 419h3v1h-3zM831 419h1v1h-1zM1012 419h1v1h-1zM1058 419h1v1h-1zM1110 419h1v1h-1zM1162 419h1v1h-1zM524 420h1v1h-1zM579 420h1v1h-1zM591 420h2v1h-2zM599 420h1v1h-1zM658 420h1v1h-1zM661 420h4v1h-4zM668 420h1v1h-1zM830 420h1v1h-1zM1012 420h1v1h-1zM1057 420h1v1h-1zM1111 420h1v1h-1zM1161 420h1v1h-1zM524 421h1v1h-1zM578 421h1v1h-1zM593 421h1v1h-1zM597 421h2v1h-2zM659 421h2v1h-2zM668 421h1v1h-1zM830 421h1v1h-1zM1013 421h1v1h-1zM1057 421h1v1h-1zM1111 421h1v1h-1zM1161 421h1v1h-1zM525 422h1v1h-1zM578 422h1v1h-1zM594 422h1v1h-1zM596 422h1v1h-1zM669 422h1v1h-1zM829 422h1v1h-1zM1014 422h1v1h-1zM1056 422h1v1h-1zM1112 422h1v1h-1zM1160 422h1v1h-1zM525 423h1v1h-1zM577 423h1v1h-1zM595 423h1v1h-1zM669 423h1v1h-1zM828 423h1v1h-1zM1014 423h1v1h-1zM1056 423h1v1h-1zM1113 423h1v1h-1zM1160 423h1v1h-1zM525 424h1v1h-1zM577 424h1v1h-1zM670 424h1v1h-1zM828 424h1v1h-1zM1015 424h1v1h-1zM1055 424h1v1h-1zM1114 424h1v1h-1zM1159 424h1v1h-1zM526 425h1v1h-1zM576 425h1v1h-1zM670 425h1v1h-1zM827 425h1v1h-1zM1016 425h1v1h-1zM1054 425h1v1h-1zM1114 425h1v1h-1zM1159 425h1v1h-1zM526 426h1v1h-1zM576 426h1v1h-1zM671 426h1v1h-1zM826 426h1v1h-1zM1016 426h1v1h-1zM1054 426h1v1h-1zM1115 426h1v1h-1zM1158 426h1v1h-1zM526 427h1v1h-1zM575 427h1v1h-1zM672 427h1v1h-1zM826 427h1v1h-1zM1017 427h1v1h-1zM1053 427h1v1h-1zM1116 427h1v1h-1zM1158 427h1v1h-1zM527 428h1v1h-1zM575 428h1v1h-1zM672 428h1v1h-1zM825 428h1v1h-1zM1018 428h1v1h-1zM1053 428h1v1h-1zM1116 428h1v1h-1zM1157 428h1v1h-1zM527 429h1v1h-1zM575 429h1v1h-1zM673 429h1v1h-1zM824 429h1v1h-1zM1018 429h1v1h-1zM1052 429h1v1h-1zM1117 429h1v1h-1zM1157 429h1v1h-1zM527 430h1v1h-1zM574 430h1v1h-1zM673 430h1v1h-1zM823 430h1v1h-1zM1019 430h1v1h-1zM1052 430h1v1h-1zM1117 430h1v1h-1zM1156 430h1v1h-1zM527 431h1v1h-1zM574 431h1v1h-1zM674 431h1v1h-1zM823 431h1v1h-1zM1020 431h1v1h-1zM1050 431h2v1h-2zM1118 431h1v1h-1zM1156 431h1v1h-1zM528 432h1v1h-1zM573 432h1v1h-1zM674 432h1v1h-1zM822 432h1v1h-1zM1021 432h1v1h-1zM1048 432h2v1h-2zM1118 432h1v1h-1zM1155 432h1v1h-1zM528 433h1v1h-1zM573 433h1v1h-1zM675 433h1v1h-1zM821 433h1v1h-1zM1022 433h1v1h-1zM1046 433h2v1h-2zM1119 433h1v1h-1zM1155 433h1v1h-1zM528 434h1v1h-1zM572 434h1v1h-1zM676 434h1v1h-1zM820 434h1v1h-1zM1023 434h2v1h-2zM1044 434h2v1h-2zM1119 434h1v1h-1zM1154 434h1v1h-1zM529 435h1v1h-1zM572 435h1v1h-1zM676 435h1v1h-1zM820 435h1v1h-1zM1025 435h1v1h-1zM1043 435h1v1h-1zM1120 435h1v1h-1zM1154 435h1v1h-1zM529 436h1v1h-1zM571 436h1v1h-1zM677 436h1v1h-1zM819 436h1v1h-1zM1026 436h1v1h-1zM1041 436h2v1h-2zM1120 436h1v1h-1zM1153 436h1v1h-1zM529 437h1v1h-1zM571 437h1v1h-1zM678 437h1v1h-1zM818 437h1v1h-1zM1027 437h1v1h-1zM1040 437h1v1h-1zM1121 437h1v1h-1zM1152 437h1v1h-1zM530 438h1v1h-1zM570 438h1v1h-1zM678 438h1v1h-1zM818 438h1v1h-1zM1028 438h2v1h-2zM1039 438h1v1h-1zM1121 438h1v1h-1zM1152 438h1v1h-1zM530 439h1v1h-1zM570 439h1v1h-1zM679 439h1v1h-1zM817 439h1v1h-1zM1030 439h2v1h-2zM1037 439h2v1h-2zM1122 439h1v1h-1zM1151 439h1v1h-1zM530 440h1v1h-1zM569 440h1v1h-1zM680 440h1v1h-1zM817 440h1v1h-1zM1032 440h2v1h-2zM1036 440h1v1h-1zM1122 440h1v1h-1zM1150 440h1v1h-1zM531 441h1v1h-1zM568 441h1v1h-1zM680 441h1v1h-1zM816 441h1v1h-1zM1034 441h2v1h-2zM1123 441h1v1h-1zM1150 441h1v1h-1zM531 442h1v1h-1zM568 442h1v1h-1zM681 442h1v1h-1zM816 442h1v1h-1zM1124 442h2v1h-2zM1149 442h1v1h-1zM531 443h1v1h-1zM567 443h1v1h-1zM682 443h1v1h-1zM815 443h1v1h-1zM1126 443h1v1h-1zM1148 443h1v1h-1zM532 444h1v1h-1zM566 444h1v1h-1zM682 444h1v1h-1zM815 444h1v1h-1zM1127 444h2v1h-2zM1148 444h1v1h-1zM532 445h1v1h-1zM566 445h1v1h-1zM683 445h1v1h-1zM814 445h1v1h-1zM1129 445h2v1h-2zM1143 445h5v1h-5zM532 446h1v1h-1zM565 446h1v1h-1zM683 446h1v1h-1zM814 446h1v1h-1zM1131 446h12v1h-12zM533 447h1v1h-1zM564 447h1v1h-1zM684 447h1v1h-1zM813 447h1v1h-1zM533 448h1v1h-1zM564 448h1v1h-1zM684 448h1v1h-1zM813 448h1v1h-1zM533 449h1v1h-1zM563 449h1v1h-1zM685 449h1v1h-1zM812 449h1v1h-1zM534 450h1v1h-1zM562 450h1v1h-1zM685 450h1v1h-1zM812 450h1v1h-1zM534 451h1v1h-1zM562 451h1v1h-1zM685 451h1v1h-1zM811 451h1v1h-1zM534 452h1v1h-1zM561 452h1v1h-1zM686 452h1v1h-1zM810 452h1v1h-1zM535 453h1v1h-1zM561 453h1v1h-1zM686 453h1v1h-1zM810 453h1v1h-1zM535 454h1v1h-1zM560 454h1v1h-1zM686 454h1v1h-1zM809 454h1v1h-1zM536 455h1v1h-1zM559 455h1v1h-1zM687 455h1v1h-1zM808 455h1v1h-1zM536 456h1v1h-1zM559 456h1v1h-1zM687 456h1v1h-1zM808 456h1v1h-1zM536 457h1v1h-1zM558 457h1v1h-1zM688 457h1v1h-1zM807 457h1v1h-1zM537 458h1v1h-1zM557 458h1v1h-1zM688 458h1v1h-1zM806 458h1v1h-1zM537 459h1v1h-1zM557 459h1v1h-1zM688 459h1v1h-1zM806 459h1v1h-1zM537 460h1v1h-1zM556 460h1v1h-1zM689 460h1v1h-1zM805 460h1v1h-1zM538 461h1v1h-1zM556 461h1v1h-1zM689 461h1v1h-1zM804 461h1v1h-1zM538 462h1v1h-1zM555 462h1v1h-1zM689 462h1v1h-1zM804 462h1v1h-1zM538 463h1v1h-1zM554 463h1v1h-1zM690 463h1v1h-1zM803 463h1v1h-1zM539 464h1v1h-1zM553 464h1v1h-1zM690 464h1v1h-1zM802 464h1v1h-1zM539 465h1v1h-1zM553 465h1v1h-1zM691 465h1v1h-1zM802 465h1v1h-1zM540 466h1v1h-1zM552 466h1v1h-1zM691 466h1v1h-1zM801 466h1v1h-1zM541 467h1v1h-1zM551 467h1v1h-1zM692 467h1v1h-1zM800 467h1v1h-1zM542 468h1v1h-1zM550 468h1v1h-1zM692 468h1v1h-1zM799 468h1v1h-1zM543 469h2v1h-2zM549 469h1v1h-1zM693 469h1v1h-1zM799 469h1v1h-1zM545 470h1v1h-1zM549 470h1v1h-1zM694 470h1v1h-1zM798 470h1v1h-1zM546 471h1v1h-1zM548 471h1v1h-1zM694 471h1v1h-1zM797 471h1v1h-1zM547 472h1v1h-1zM695 472h1v1h-1zM796 472h1v1h-1zM696 473h1v1h-1zM796 473h1v1h-1zM696 474h1v1h-1zM795 474h1v1h-1zM697 475h1v1h-1zM794 475h1v1h-1zM698 476h1v1h-1zM793 476h1v1h-1zM698 477h1v1h-1zM792 477h1v1h-1zM699 478h1v1h-1zM791 478h1v1h-1zM700 479h1v1h-1zM791 479h1v1h-1zM700 480h1v1h-1zM771 480h4v1h-4zM790 480h1v1h-1zM701 481h1v1h-1zM770 481h1v1h-1zM775 481h6v1h-6zM789 481h1v1h-1zM701 482h1v1h-1zM769 482h1v1h-1zM781 482h4v1h-4zM788 482h1v1h-1zM702 483h1v1h-1zM769 483h1v1h-1zM785 483h3v1h-3zM702 484h1v1h-1zM768 484h1v1h-1zM703 485h1v1h-1zM767 485h1v1h-1zM703 486h1v1h-1zM766 486h1v1h-1zM704 487h1v1h-1zM765 487h1v1h-1zM704 488h1v1h-1zM765 488h1v1h-1zM705 489h1v1h-1zM764 489h1v1h-1zM705 490h1v1h-1zM763 490h1v1h-1zM706 491h1v1h-1zM763 491h1v1h-1zM706 492h1v1h-1zM762 492h1v1h-1zM707 493h1v1h-1zM762 493h1v1h-1zM708 494h1v1h-1zM761 494h1v1h-1zM709 495h1v1h-1zM761 495h1v1h-1zM709 496h1v1h-1zM760 496h1v1h-1zM710 497h1v1h-1zM760 497h1v1h-1zM711 498h1v1h-1zM759 498h1v1h-1zM712 499h1v1h-1zM759 499h1v1h-1zM713 500h1v1h-1zM758 500h1v1h-1zM713 501h1v1h-1zM758 501h1v1h-1zM714 502h1v1h-1zM757 502h1v1h-1zM715 503h1v1h-1zM757 503h1v1h-1zM715 504h1v1h-1zM756 504h1v1h-1zM716 505h1v1h-1zM756 505h1v1h-1zM716 506h1v1h-1zM755 506h1v1h-1zM717 507h1v1h-1zM754 507h1v1h-1zM717 508h1v1h-1zM753 508h1v1h-1zM718 509h1v1h-1zM751 509h2v1h-2zM718 510h1v1h-1zM750 510h1v1h-1zM718 511h1v1h-1zM749 511h1v1h-1zM719 512h1v1h-1zM748 512h1v1h-1zM719 513h1v1h-1zM747 513h1v1h-1zM720 514h1v1h-1zM746 514h1v1h-1zM720 515h1v1h-1zM745 515h1v1h-1zM720 516h1v1h-1zM745 516h1v1h-1zM721 517h1v1h-1zM744 517h1v1h-1zM721 518h1v1h-1zM743 518h1v1h-1zM722 519h1v1h-1zM742 519h1v1h-1zM722 520h1v1h-1zM741 520h1v1h-1zM723 521h1v1h-1zM741 521h1v1h-1zM723 522h2v1h-2zM740 522h1v1h-1zM725 523h2v1h-2zM737 523h3v1h-3zM727 524h3v1h-3zM733 524h4v1h-4zM730 525h3v1h-3z" fill="#ffa500" shape-rendering="crispEdges"/>
<rect x="3" y="267" width="1680" height="2" fill="#ff0000" />
<rect x="3" y="355" width="1680" height="2" fill="#00ff00" />
<rect x="3" y="454" width="1680" height="2" fill="#0000ff" />
<rect x="3" y="573" width="1680" height="2" fill="#0000cd" />
</g>
<rect x="2" y="353" width="6" height="6" fill="#00ff00" shape-rendering="crispEdges"/>
<rect x="4" y="355" width="2" height="2" fill="#fff" shape-rendering="crispEdges"/>
<rect x="1677" y="353" width="6" height="6" fill="#00ff00" shape-rendering="crispEdges"/>
<rect x="1679" y="355" width="2" height="2" fill="#fff" shape-rendering="crispEdges"/>
<rect x="2" y="452" width="6" height="6" fill="#0000ff" shape-rendering="crispEdges"/>
<rect x="4" y="454" width="2" height="2" fill="#fff" shape-rendering="crispEdges"/>
<rect x="1677" y="452" width="6" height="6" fill="#0000ff" shape-rendering="crispEdges"/>
<rect x="1679" y="454" width="2" height="2" fill="#fff" shape-rendering="crispEdges"/>
<g font-family='"Liberation Sans", sans-serif'>
<rect x="1685" y="262" width="39" height="12" fill="#ff0000" />
<text x="1689" y="271" font-size="9.9" fill="#fff" text-anchor="start" textLength="33" lengthAdjust="spacingAndGlyphs" stroke="#fff" stroke-width="0.1" >1.11903</text>
<rect x="1685" y="344" width="39" height="6" fill="#000" />
<text x="1689" y="353" font-size="9.9" fill="#fff" text-anchor="start" textLength="33" lengthAdjust="spacingAndGlyphs" stroke="#fff" stroke-width="0.1" >1.11086</text>
<rect x="1685" y="350" width="39" height="11" fill="#00ff00" />
<text x="1689" y="359" font-size="9.9" fill="#fff" text-anchor="start" textLength="33" lengthAdjust="spacingAndGlyphs" stroke="#fff" stroke-width="0.1" >1.11009</text>
<rect x="1685" y="450" width="39" height="10" fill="#0000ff" />
<text x="1689" y="459" font-size="9.9" fill="#fff" text-anchor="start" textLength="33" lengthAdjust="spacingAndGlyphs" stroke="#fff" stroke-width="0.1" >1.10008</text>
<rect x="1685" y="569" width="39" height="10" fill="#0000cd" />
<text x="1689" y="578" font-size="9.9" fill="#fff" text-anchor="start" textLength="33" lengthAdjust="spacingAndGlyphs" stroke="#fff" stroke-width="0.1" >1.08800</text>
<polygon points="1341,24 1350,24 1345.5,29" fill="#c0c0c0"/>
<polygon points="6,30 13,30 9.5,34" fill="#000"/>
<text x="18" y="35" font-size="9.9" fill="#000" text-anchor="start" textLength="64" lengthAdjust="spacingAndGlyphs" stroke="#000" stroke-width="0.1" >EURUSD,Daily</text>
<text x="89" y="35" font-size="9.9" fill="#000" text-anchor="start" textLength="140" lengthAdjust="spacingAndGlyphs" stroke="#000" stroke-width="0.1" >1.10982 1.11086 1.10932 1.11086</text>
</g>
<g shape-rendering="crispEdges">
<rect x="4" y="624" width="3" height="1" fill="#c0c0c0" />
<rect x="10" y="624" width="3" height="1" fill="#c0c0c0" />
<rect x="16" y="624" width="3" height="1" fill="#c0c0c0" />
<rect x="22" y="624" width="3" height="1" fill="#c0c0c0" />
<rect x="28" y="624" width="3" height="1" fill="#c0c0c0" />
<rect x="34" y="624" width="3" height="1" fill="#c0c0c0" />
<rect x="40" y="624" width="3" height="1" fill="#c0c0c0" />
<rect x="46" y="624" width="3" height="1" fill="#c0c0c0" />
<rect x="52" y="624" width="3" height="1" fill="#c0c0c0" />
<rect x="58" y="624" width="3" height="1" fill="#c0c0c0" />
<rect x="64" y="624" width="3" height="1" fill="#c0c0c0" />
<rect x="70" y="624" width="3" height="1" fill="#c0c0c0" />
<rect x="76" y="624" width="3" height="1" fill="#c0c0c0" />
<rect x="82" y="624" width="3" height="1" fill="#c0c0c0" />
<rect x="88" y="624" width="3" height="1" fill="#c0c0c0" />
<rect x="94" y="624" width="3" height="1" fill="#c0c0c0" />
<rect x="100" y="624" width="3" height="1" fill="#c0c0c0" />
<rect x="106" y="624" width="3" height="1" fill="#c0c0c0" />
<rect x="112" y="624" width="3" height="1" fill="#c0c0c0" />
<rect x="118" y="624" width="3" height="1" fill="#c0c0c0" />
<rect x="124" y="624" width="3" height="1" fill="#c0c0c0" />
<rect x="130" y="624" width="3" height="1" fill="#c0c0c0" />
<rect x="136" y="624" width="3" height="1" fill="#c0c0c0" />
<rect x="142" y="624" width="3" height="1" fill="#c0c0c0" />
<rect x="148" y="624" width="3" height="1" fill="#c0c0c0" />
<rect x="154" y="624" width="3" height="1" fill="#c0c0c0" />
<rect x="160" y="624" width="3" height="1" fill="#c0c0c0" />
<rect x="166" y="624" width="3" height="1" fill="#c0c0c0" />
<rect x="172" y="624" width="3" height="1" fill="#c0c0c0" />
<rect x="178" y="624" width="3" height="1" fill="#c0c0c0" />
<rect x="184" y="624" width="3" height="1" fill="#c0c0c0" />
<rect x="190" y="624" width="3" height="1" fill="#c0c0c0" />
<rect x="196" y="624" width="3" height="1" fill="#c0c0c0" />
<rect x="202" y="624" width="3" height="1" fill="#c0c0c0" />
<rect x="208" y="624" width="3" height="1" fill="#c0c0c0" />
<rect x="214" y="624" width="3" height="1" fill="#c0c0c0" />
<rect x="220" y="624" width="3" height="1" fill="#c0c0c0" />
<rect x="226" y="624" width="3" height="1" fill="#c0c0c0" />
<rect x="232" y="624" width="3" height="1" fill="#c0c0c0" />
<rect x="238" y="624" width="3" height="1" fill="#c0c0c0" />
<rect x="244" y="624" width="3" height="1" fill="#c0c0c0" />
<rect x="250" y="624" width="3" height="1" fill="#c0c0c0" />
<rect x="256" y="624" width="3" height="1" fill="#c0c0c0" />
<rect x="262" y="624" width="3" height="1" fill="#c0c0c0" />
<rect x="268" y="624" width="3" height="1" fill="#c0c0c0" />
<rect x="274" y="624" width="3" height="1" fill="#c0c0c0" />
<rect x="280" y="624" width="3" height="1" fill="#c0c0c0" />
<rect x="286" y="624" width="3" height="1" fill="#c0c0c0" />
<rect x="292" y="624" width="3" height="1" fill="#c0c0c0" />
<rect x="298" y="624" width="3" height="1" fill="#c0c0c0" />
<rect x="304" y="624" width="3" height="1" fill="#c0c0c0" />
<rect x="310" y="624" width="3" height="1" fill="#c0c0c0" />
<rect x="316" y="624" width="3" height="1" fill="#c0c0c0" />
<rect x="322" y="624" width="3" height="1" fill="#c0c0c0" />
<rect x="328" y="624" width="3" height="1" fill="#c0c0c0" />
<rect x="334" y="624" width="3" height="1" fill="#c0c0c0" />
<rect x="340" y="624" width="3" height="1" fill="#c0c0c0" />
<rect x="346" y="624" width="3" height="1" fill="#c0c0c0" />
<rect x="352" y="624" width="3" height="1" fill="#c0c0c0" />
<rect x="358" y="624" width="3" height="1" fill="#c0c0c0" />
<rect x="364" y="624" width="3" height="1" fill="#c0c0c0" />
<rect x="370" y="624" width="3" height="1" fill="#c0c0c0" />
<rect x="376" y="624" width="3" height="1" fill="#c0c0c0" />
<rect x="382" y="624" width="3" height="1" fill="#c0c0c0" />
<rect x="388" y="624" width="3" height="1" fill="#c0c0c0" />
<rect x="394" y="624" width="3" height="1" fill="#c0c0c0" />
<rect x="400" y="624" width="3" height="1" fill="#c0c0c0" />
<rect x="406" y="624" width="3" height="1" fill="#c0c0c0" />
<rect x="412" y="624" width="3" height="1" fill="#c0c0c0" />
<rect x="418" y="624" width="3" height="1" fill="#c0c0c0" />
<rect x="424" y="624" width="3" height="1" fill="#c0c0c0" />
<rect x="430" y="624" width="3" height="1" fill="#c0c0c0" />
<rect x="436" y="624" width="3" height="1" fill="#c0c0c0" />
<rect x="442" y="624" width="3" height="1" fill="#c0c0c0" />
<rect x="448" y="624" width="3" height="1" fill="#c0c0c0" />
<rect x="454" y="624" width="3" height="1" fill="#c0c0c0" />
<rect x="460" y="624" width="3" height="1" fill="#c0c0c0" />
<rect x="466" y="624" width="3" height="1" fill="#c0c0c0" />
<rect x="472" y="624" width="3" height="1" fill="#c0c0c0" />
<rect x="478" y="624" width="3" height="1" fill="#c0c0c0" />
<rect x="484" y="624" width="3" height="1" fill="#c0c0c0" />
<rect x="490" y="624" width="3" height="1" fill="#c0c0c0" />
<rect x="496" y="624" width="3" height="1" fill="#c0c0c0" />
<rect x="502" y="624" width="3" height="1" fill="#c0c0c0" />
<rect x="508" y="624" width="3" height="1" fill="#c0c0c0" />
<rect x="514" y="624" width="3" height="1" fill="#c0c0c0" />
<rect x="520" y="624" width="3" height="1" fill="#c0c0c0" />
<rect x="526" y="624" width="3" height="1" fill="#c0c0c0" />
<rect x="532" y="624" width="3" height="1" fill="#c0c0c0" />
<rect x="538" y="624" width="3" height="1" fill="#c0c0c0" />
<rect x="544" y="624" width="3" height="1" fill="#c0c0c0" />
<rect x="550" y="624" width="3" height="1" fill="#c0c0c0" />
<rect x="556" y="624" width="3" height="1" fill="#c0c0c0" />
<rect x="562" y="624" width="3" height="1" fill="#c0c0c0" />
<rect x="568" y="624" width="3" height="1" fill="#c0c0c0" />
<rect x="574" y="624" width="3" height="1" fill="#c0c0c0" />
<rect x="580" y="624" width="3" height="1" fill="#c0c0c0" />
<rect x="586" y="624" width="3" height="1" fill="#c0c0c0" />
<rect x="592" y="624" width="3" height="1" fill="#c0c0c0" />
<rect x="598" y="624" width="3" height="1" fill="#c0c0c0" />
<rect x="604" y="624" width="3" height="1" fill="#c0c0c0" />
<rect x="610" y="624" width="3" height="1" fill="#c0c0c0" />
<rect x="616" y="624" width="3" height="1" fill="#c0c0c0" />
<rect x="622" y="624" width="3" height="1" fill="#c0c0c0" />
<rect x="628" y="624" width="3" height="1" fill="#c0c0c0" />
<rect x="634" y="624" width="3" height="1" fill="#c0c0c0" />
<rect x="640" y="624" width="3" height="1" fill="#c0c0c0" />
<rect x="646" y="624" width="3" height="1" fill="#c0c0c0" />
<rect x="652" y="624" width="3" height="1" fill="#c0c0c0" />
<rect x="658" y="624" width="3" height="1" fill="#c0c0c0" />
<rect x="664" y="624" width="3" height="1" fill="#c0c0c0" />
<rect x="670" y="624" width="3" height="1" fill="#c0c0c0" />
<rect x="676" y="624" width="3" height="1" fill="#c0c0c0" />
<rect x="682" y="624" width="3" height="1" fill="#c0c0c0" />
<rect x="688" y="624" width="3" height="1" fill="#c0c0c0" />
<rect x="694" y="624" width="3" height="1" fill="#c0c0c0" />
<rect x="700" y="624" width="3" height="1" fill="#c0c0c0" />
<rect x="706" y="624" width="3" height="1" fill="#c0c0c0" />
<rect x="712" y="624" width="3" height="1" fill="#c0c0c0" />
<rect x="718" y="624" width="3" height="1" fill="#c0c0c0" />
<rect x="724" y="624" width="3" height="1" fill="#c0c0c0" />
<rect x="730" y="624" width="3" height="1" fill="#c0c0c0" />
<rect x="736" y="624" width="3" height="1" fill="#c0c0c0" />
<rect x="742" y="624" width="3" height="1" fill="#c0c0c0" />
<rect x="748" y="624" width="3" height="1" fill="#c0c0c0" />
<rect x="754" y="624" width="3" height="1" fill="#c0c0c0" />
<rect x="760" y="624" width="3" height="1" fill="#c0c0c0" />
<rect x="766" y="624" width="3" height="1" fill="#c0c0c0" />
<rect x="772" y="624" width="3" height="1" fill="#c0c0c0" />
<rect x="778" y="624" width="3" height="1" fill="#c0c0c0" />
<rect x="784" y="624" width="3" height="1" fill="#c0c0c0" />
<rect x="790" y="624" width="3" height="1" fill="#c0c0c0" />
<rect x="796" y="624" width="3" height="1" fill="#c0c0c0" />
<rect x="802" y="624" width="3" height="1" fill="#c0c0c0" />
<rect x="808" y="624" width="3" height="1" fill="#c0c0c0" />
<rect x="814" y="624" width="3" height="1" fill="#c0c0c0" />
<rect x="820" y="624" width="3" height="1" fill="#c0c0c0" />
<rect x="826" y="624" width="3" height="1" fill="#c0c0c0" />
<rect x="832" y="624" width="3" height="1" fill="#c0c0c0" />
<rect x="838" y="624" width="3" height="1" fill="#c0c0c0" />
<rect x="844" y="624" width="3" height="1" fill="#c0c0c0" />
<rect x="850" y="624" width="3" height="1" fill="#c0c0c0" />
<rect x="856" y="624" width="3" height="1" fill="#c0c0c0" />
<rect x="862" y="624" width="3" height="1" fill="#c0c0c0" />
<rect x="868" y="624" width="3" height="1" fill="#c0c0c0" />
<rect x="874" y="624" width="3" height="1" fill="#c0c0c0" />
<rect x="880" y="624" width="3" height="1" fill="#c0c0c0" />
<rect x="886" y="624" width="3" height="1" fill="#c0c0c0" />
<rect x="892" y="624" width="3" height="1" fill="#c0c0c0" />
<rect x="898" y="624" width="3" height="1" fill="#c0c0c0" />
<rect x="904" y="624" width="3" height="1" fill="#c0c0c0" />
<rect x="910" y="624" width="3" height="1" fill="#c0c0c0" />
<rect x="916" y="624" width="3" height="1" fill="#c0c0c0" />
<rect x="922" y="624" width="3" height="1" fill="#c0c0c0" />
<rect x="928" y="624" width="3" height="1" fill="#c0c0c0" />
<rect x="934" y="624" width="3" height="1" fill="#c0c0c0" />
<rect x="940" y="624" width="3" height="1" fill="#c0c0c0" />
<rect x="946" y="624" width="3" height="1" fill="#c0c0c0" />
<rect x="952" y="624" width="3" height="1" fill="#c0c0c0" />
<rect x="958" y="624" width="3" height="1" fill="#c0c0c0" />
<rect x="964" y="624" width="3" height="1" fill="#c0c0c0" />
<rect x="970" y="624" width="3" height="1" fill="#c0c0c0" />
<rect x="976" y="624" width="3" height="1" fill="#c0c0c0" />
<rect x="982" y="624" width="3" height="1" fill="#c0c0c0" />
<rect x="988" y="624" width="3" height="1" fill="#c0c0c0" />
<rect x="994" y="624" width="3" height="1" fill="#c0c0c0" />
<rect x="1000" y="624" width="3" height="1" fill="#c0c0c0" />
<rect x="1006" y="624" width="3" height="1" fill="#c0c0c0" />
<rect x="1012" y="624" width="3" height="1" fill="#c0c0c0" />
<rect x="1018" y="624" width="3" height="1" fill="#c0c0c0" />
<rect x="1024" y="624" width="3" height="1" fill="#c0c0c0" />
<rect x="1030" y="624" width="3" height="1" fill="#c0c0c0" />
<rect x="1036" y="624" width="3" height="1" fill="#c0c0c0" />
<rect x="1042" y="624" width="3" height="1" fill="#c0c0c0" />
<rect x="1048" y="624" width="3" height="1" fill="#c0c0c0" />
<rect x="1054" y="624" width="3" height="1" fill="#c0c0c0" />
<rect x="1060" y="624" width="3" height="1" fill="#c0c0c0" />
<rect x="1066" y="624" width="3" height="1" fill="#c0c0c0" />
<rect x="1072" y="624" width="3" height="1" fill="#c0c0c0" />
<rect x="1078" y="624" width="3" height="1" fill="#c0c0c0" />
<rect x="1084" y="624" width="3" height="1" fill="#c0c0c0" />
<rect x="1090" y="624" width="3" height="1" fill="#c0c0c0" />
<rect x="1096" y="624" width="3" height="1" fill="#c0c0c0" />
<rect x="1102" y="624" width="3" height="1" fill="#c0c0c0" />
<rect x="1108" y="624" width="3" height="1" fill="#c0c0c0" />
<rect x="1114" y="624" width="3" height="1" fill="#c0c0c0" />
<rect x="1120" y="624" width="3" height="1" fill="#c0c0c0" />
<rect x="1126" y="624" width="3" height="1" fill="#c0c0c0" />
<rect x="1132" y="624" width="3" height="1" fill="#c0c0c0" />
<rect x="1138" y="624" width="3" height="1" fill="#c0c0c0" />
<rect x="1144" y="624" width="3" height="1" fill="#c0c0c0" />
<rect x="1150" y="624" width="3" height="1" fill="#c0c0c0" />
<rect x="1156" y="624" width="3" height="1" fill="#c0c0c0" />
<rect x="1162" y="624" width="3" height="1" fill="#c0c0c0" />
<rect x="1168" y="624" width="3" height="1" fill="#c0c0c0" />
<rect x="1174" y="624" width="3" height="1" fill="#c0c0c0" />
<rect x="1180" y="624" width="3" height="1" fill="#c0c0c0" />
<rect x="1186" y="624" width="3" height="1" fill="#c0c0c0" />
<rect x="1192" y="624" width="3" height="1" fill="#c0c0c0" />
<rect x="1198" y="624" width="3" height="1" fill="#c0c0c0" />
<rect x="1204" y="624" width="3" height="1" fill="#c0c0c0" />
<rect x="1210" y="624" width="3" height="1" fill="#c0c0c0" />
<rect x="1216" y="624" width="3" height="1" fill="#c0c0c0" />
<rect x="1222" y="624" width="3" height="1" fill="#c0c0c0" />
<rect x="1228" y="624" width="3" height="1" fill="#c0c0c0" />
<rect x="1234" y="624" width="3" height="1" fill="#c0c0c0" />
<rect x="1240" y="624" width="3" height="1" fill="#c0c0c0" />
<rect x="1246" y="624" width="3" height="1" fill="#c0c0c0" />
<rect x="1252" y="624" width="3" height="1" fill="#c0c0c0" />
<rect x="1258" y="624" width="3" height="1" fill="#c0c0c0" />
<rect x="1264" y="624" width="3" height="1" fill="#c0c0c0" />
<rect x="1270" y="624" width="3" height="1" fill="#c0c0c0" />
<rect x="1276" y="624" width="3" height="1" fill="#c0c0c0" />
<rect x="1282" y="624" width="3" height="1" fill="#c0c0c0" />
<rect x="1288" y="624" width="3" height="1" fill="#c0c0c0" />
<rect x="1294" y="624" width="3" height="1" fill="#c0c0c0" />
<rect x="1300" y="624" width="3" height="1" fill="#c0c0c0" />
<rect x="1306" y="624" width="3" height="1" fill="#c0c0c0" />
<rect x="1312" y="624" width="3" height="1" fill="#c0c0c0" />
<rect x="1318" y="624" width="3" height="1" fill="#c0c0c0" />
<rect x="1324" y="624" width="3" height="1" fill="#c0c0c0" />
<rect x="1330" y="624" width="3" height="1" fill="#c0c0c0" />
<rect x="1336" y="624" width="3" height="1" fill="#c0c0c0" />
<rect x="1342" y="624" width="3" height="1" fill="#c0c0c0" />
<rect x="1348" y="624" width="3" height="1" fill="#c0c0c0" />
<rect x="1354" y="624" width="3" height="1" fill="#c0c0c0" />
<rect x="1360" y="624" width="3" height="1" fill="#c0c0c0" />
<rect x="1366" y="624" width="3" height="1" fill="#c0c0c0" />
<rect x="1372" y="624" width="3" height="1" fill="#c0c0c0" />
<rect x="1378" y="624" width="3" height="1" fill="#c0c0c0" />
<rect x="1384" y="624" width="3" height="1" fill="#c0c0c0" />
<rect x="1390" y="624" width="3" height="1" fill="#c0c0c0" />
<rect x="1396" y="624" width="3" height="1" fill="#c0c0c0" />
<rect x="1402" y="624" width="3" height="1" fill="#c0c0c0" />
<rect x="1408" y="624" width="3" height="1" fill="#c0c0c0" />
<rect x="1414" y="624" width="3" height="1" fill="#c0c0c0" />
<rect x="1420" y="624" width="3" height="1" fill="#c0c0c0" />
<rect x="1426" y="624" width="3" height="1" fill="#c0c0c0" />
<rect x="1432" y="624" width="3" height="1" fill="#c0c0c0" />
<rect x="1438" y="624" width="3" height="1" fill="#c0c0c0" />
<rect x="1444" y="624" width="3" height="1" fill="#c0c0c0" />
<rect x="1450" y="624" width="3" height="1" fill="#c0c0c0" />
<rect x="1456" y="624" width="3" height="1" fill="#c0c0c0" />
<rect x="1462" y="624" width="3" height="1" fill="#c0c0c0" />
<rect x="1468" y="624" width="3" height="1" fill="#c0c0c0" />
<rect x="1474" y="624" width="3" height="1" fill="#c0c0c0" />
<rect x="1480" y="624" width="3" height="1" fill="#c0c0c0" />
<rect x="1486" y="624" width="3" height="1" fill="#c0c0c0" />
<rect x="1492" y="624" width="3" height="1" fill="#c0c0c0" />
<rect x="1498" y="624" width="3" height="1" fill="#c0c0c0" />
<rect x="1504" y="624" width="3" height="1" fill="#c0c0c0" />
<rect x="1510" y="624" width="3" height="1" fill="#c0c0c0" />
<rect x="1516" y="624" width="3" height="1" fill="#c0c0c0" />
<rect x="1522" y="624" width="3" height="1" fill="#c0c0c0" />
<rect x="1528" y="624" width="3" height="1" fill="#c0c0c0" />
<rect x="1534" y="624" width="3" height="1" fill="#c0c0c0" />
<rect x="1540" y="624" width="3" height="1" fill="#c0c0c0" />
<rect x="1546" y="624" width="3" height="1" fill="#c0c0c0" />
<rect x="1552" y="624" width="3" height="1" fill="#c0c0c0" />
<rect x="1558" y="624" width="3" height="1" fill="#c0c0c0" />
<rect x="1564" y="624" width="3" height="1" fill="#c0c0c0" />
<rect x="1570" y="624" width="3" height="1" fill="#c0c0c0" />
<rect x="1576" y="624" width="3" height="1" fill="#c0c0c0" />
<rect x="1582" y="624" width="3" height="1" fill="#c0c0c0" />
<rect x="1588" y="624" width="3" height="1" fill="#c0c0c0" />
<rect x="1594" y="624" width="3" height="1" fill="#c0c0c0" />
<rect x="1600" y="624" width="3" height="1" fill="#c0c0c0" />
<rect x="1606" y="624" width="3" height="1" fill="#c0c0c0" />
<rect x="1612" y="624" width="3" height="1" fill="#c0c0c0" />
<rect x="1618" y="624" width="3" height="1" fill="#c0c0c0" />
<rect x="1624" y="624" width="3" height="1" fill="#c0c0c0" />
<rect x="1630" y="624" width="3" height="1" fill="#c0c0c0" />
<rect x="1636" y="624" width="3" height="1" fill="#c0c0c0" />
<rect x="1642" y="624" width="3" height="1" fill="#c0c0c0" />
<rect x="1648" y="624" width="3" height="1" fill="#c0c0c0" />
<rect x="1654" y="624" width="3" height="1" fill="#c0c0c0" />
<rect x="1660" y="624" width="3" height="1" fill="#c0c0c0" />
<rect x="1666" y="624" width="3" height="1" fill="#c0c0c0" />
<rect x="1672" y="624" width="3" height="1" fill="#c0c0c0" />
<rect x="1678" y="624" width="3" height="1" fill="#c0c0c0" />
<rect x="4" y="665" width="3" height="1" fill="#c0c0c0" />
<rect x="10" y="665" width="3" height="1" fill="#c0c0c0" />
<rect x="16" y="665" width="3" height="1" fill="#c0c0c0" />
<rect x="22" y="665" width="3" height="1" fill="#c0c0c0" />
<rect x="28" y="665" width="3" height="1" fill="#c0c0c0" />
<rect x="34" y="665" width="3" height="1" fill="#c0c0c0" />
<rect x="40" y="665" width="3" height="1" fill="#c0c0c0" />
<rect x="46" y="665" width="3" height="1" fill="#c0c0c0" />
<rect x="52" y="665" width="3" height="1" fill="#c0c0c0" />
<rect x="58" y="665" width="3" height="1" fill="#c0c0c0" />
<rect x="64" y="665" width="3" height="1" fill="#c0c0c0" />
<rect x="70" y="665" width="3" height="1" fill="#c0c0c0" />
<rect x="76" y="665" width="3" height="1" fill="#c0c0c0" />
<rect x="82" y="665" width="3" height="1" fill="#c0c0c0" />
<rect x="88" y="665" width="3" height="1" fill="#c0c0c0" />
<rect x="94" y="665" width="3" height="1" fill="#c0c0c0" />
<rect x="100" y="665" width="3" height="1" fill="#c0c0c0" />
<rect x="106" y="665" width="3" height="1" fill="#c0c0c0" />
<rect x="112" y="665" width="3" height="1" fill="#c0c0c0" />
<rect x="118" y="665" width="3" height="1" fill="#c0c0c0" />
<rect x="124" y="665" width="3" height="1" fill="#c0c0c0" />
<rect x="130" y="665" width="3" height="1" fill="#c0c0c0" />
<rect x="136" y="665" width="3" height="1" fill="#c0c0c0" />
<rect x="142" y="665" width="3" height="1" fill="#c0c0c0" />
<rect x="148" y="665" width="3" height="1" fill="#c0c0c0" />
<rect x="154" y="665" width="3" height="1" fill="#c0c0c0" />
<rect x="160" y="665" width="3" height="1" fill="#c0c0c0" />
<rect x="166" y="665" width="3" height="1" fill="#c0c0c0" />
<rect x="172" y="665" width="3" height="1" fill="#c0c0c0" />
<rect x="178" y="665" width="3" height="1" fill="#c0c0c0" />
<rect x="184" y="665" width="3" height="1" fill="#c0c0c0" />
<rect x="190" y="665" width="3" height="1" fill="#c0c0c0" />
<rect x="196" y="665" width="3" height="1" fill="#c0c0c0" />
<rect x="202" y="665" width="3" height="1" fill="#c0c0c0" />
<rect x="208" y="665" width="3" height="1" fill="#c0c0c0" />
<rect x="214" y="665" width="3" height="1" fill="#c0c0c0" />
<rect x="220" y="665" width="3" height="1" fill="#c0c0c0" />
<rect x="226" y="665" width="3" height="1" fill="#c0c0c0" />
<rect x="232" y="665" width="3" height="1" fill="#c0c0c0" />
<rect x="238" y="665" width="3" height="1" fill="#c0c0c0" />
<rect x="244" y="665" width="3" height="1" fill="#c0c0c0" />
<rect x="250" y="665" width="3" height="1" fill="#c0c0c0" />
<rect x="256" y="665" width="3" height="1" fill="#c0c0c0" />
<rect x="262" y="665" width="3" height="1" fill="#c0c0c0" />
<rect x="268" y="665" width="3" height="1" fill="#c0c0c0" />
<rect x="274" y="665" width="3" height="1" fill="#c0c0c0" />
<rect x="280" y="665" width="3" height="1" fill="#c0c0c0" />
<rect x="286" y="665" width="3" height="1" fill="#c0c0c0" />
<rect x="292" y="665" width="3" height="1" fill="#c0c0c0" />
<rect x="298" y="665" width="3" height="1" fill="#c0c0c0" />
<rect x="304" y="665" width="3" height="1" fill="#c0c0c0" />
<rect x="310" y="665" width="3" height="1" fill="#c0c0c0" />
<rect x="316" y="665" width="3" height="1" fill="#c0c0c0" />
<rect x="322" y="665" width="3" height="1" fill="#c0c0c0" />
<rect x="328" y="665" width="3" height="1" fill="#c0c0c0" />
<rect x="334" y="665" width="3" height="1" fill="#c0c0c0" />
<rect x="340" y="665" width="3" height="1" fill="#c0c0c0" />
<rect x="346" y="665" width="3" height="1" fill="#c0c0c0" />
<rect x="352" y="665" width="3" height="1" fill="#c0c0c0" />
<rect x="358" y="665" width="3" height="1" fill="#c0c0c0" />
<rect x="364" y="665" width="3" height="1" fill="#c0c0c0" />
<rect x="370" y="665" width="3" height="1" fill="#c0c0c0" />
<rect x="376" y="665" width="3" height="1" fill="#c0c0c0" />
<rect x="382" y="665" width="3" height="1" fill="#c0c0c0" />
<rect x="388" y="665" width="3" height="1" fill="#c0c0c0" />
<rect x="394" y="665" width="3" height="1" fill="#c0c0c0" />
<rect x="400" y="665" width="3" height="1" fill="#c0c0c0" />
<rect x="406" y="665" width="3" height="1" fill="#c0c0c0" />
<rect x="412" y="665" width="3" height="1" fill="#c0c0c0" />
<rect x="418" y="665" width="3" height="1" fill="#c0c0c0" />
<rect x="424" y="665" width="3" height="1" fill="#c0c0c0" />
<rect x="430" y="665" width="3" height="1" fill="#c0c0c0" />
<rect x="436" y="665" width="3" height="1" fill="#c0c0c0" />
<rect x="442" y="665" width="3" height="1" fill="#c0c0c0" />
<rect x="448" y="665" width="3" height="1" fill="#c0c0c0" />
<rect x="454" y="665" width="3" height="1" fill="#c0c0c0" />
<rect x="460" y="665" width="3" height="1" fill="#c0c0c0" />
<rect x="466" y="665" width="3" height="1" fill="#c0c0c0" />
<rect x="472" y="665" width="3" height="1" fill="#c0c0c0" />
<rect x="478" y="665" width="3" height="1" fill="#c0c0c0" />
<rect x="484" y="665" width="3" height="1" fill="#c0c0c0" />
<rect x="490" y="665" width="3" height="1" fill="#c0c0c0" />
<rect x="496" y="665" width="3" height="1" fill="#c0c0c0" />
<rect x="502" y="665" width="3" height="1" fill="#c0c0c0" />
<rect x="508" y="665" width="3" height="1" fill="#c0c0c0" />
<rect x="514" y="665" width="3" height="1" fill="#c0c0c0" />
<rect x="520" y="665" width="3" height="1" fill="#c0c0c0" />
<rect x="526" y="665" width="3" height="1" fill="#c0c0c0" />
<rect x="532" y="665" width="3" height="1" fill="#c0c0c0" />
<rect x="538" y="665" width="3" height="1" fill="#c0c0c0" />
<rect x="544" y="665" width="3" height="1" fill="#c0c0c0" />
<rect x="550" y="665" width="3" height="1" fill="#c0c0c0" />
<rect x="556" y="665" width="3" height="1" fill="#c0c0c0" />
<rect x="562" y="665" width="3" height="1" fill="#c0c0c0" />
<rect x="568" y="665" width="3" height="1" fill="#c0c0c0" />
<rect x="574" y="665" width="3" height="1" fill="#c0c0c0" />
<rect x="580" y="665" width="3" height="1" fill="#c0c0c0" />
<rect x="586" y="665" width="3" height="1" fill="#c0c0c0" />
<rect x="592" y="665" width="3" height="1" fill="#c0c0c0" />
<rect x="598" y="665" width="3" height="1" fill="#c0c0c0" />
<rect x="604" y="665" width="3" height="1" fill="#c0c0c0" />
<rect x="610" y="665" width="3" height="1" fill="#c0c0c0" />
<rect x="616" y="665" width="3" height="1" fill="#c0c0c0" />
<rect x="622" y="665" width="3" height="1" fill="#c0c0c0" />
<rect x="628" y="665" width="3" height="1" fill="#c0c0c0" />
<rect x="634" y="665" width="3" height="1" fill="#c0c0c0" />
<rect x="640" y="665" width="3" height="1" fill="#c0c0c0" />
<rect x="646" y="665" width="3" height="1" fill="#c0c0c0" />
<rect x="652" y="665" width="3" height="1" fill="#c0c0c0" />
<rect x="658" y="665" width="3" height="1" fill="#c0c0c0" />
<rect x="664" y="665" width="3" height="1" fill="#c0c0c0" />
<rect x="670" y="665" width="3" height="1" fill="#c0c0c0" />
<rect x="676" y="665" width="3" height="1" fill="#c0c0c0" />
<rect x="682" y="665" width="3" height="1" fill="#c0c0c0" />
<rect x="688" y="665" width="3" height="1" fill="#c0c0c0" />
<rect x="694" y="665" width="3" height="1" fill="#c0c0c0" />
<rect x="700" y="665" width="3" height="1" fill="#c0c0c0" />
<rect x="706" y="665" width="3" height="1" fill="#c0c0c0" />
<rect x="712" y="665" width="3" height="1" fill="#c0c0c0" />
<rect x="718" y="665" width="3" height="1" fill="#c0c0c0" />
<rect x="724" y="665" width="3" height="1" fill="#c0c0c0" />
<rect x="730" y="665" width="3" height="1" fill="#c0c0c0" />
<rect x="736" y="665" width="3" height="1" fill="#c0c0c0" />
<rect x="742" y="665" width="3" height="1" fill="#c0c0c0" />
<rect x="748" y="665" width="3" height="1" fill="#c0c0c0" />
<rect x="754" y="665" width="3" height="1" fill="#c0c0c0" />
<rect x="760" y="665" width="3" height="1" fill="#c0c0c0" />
<rect x="766" y="665" width="3" height="1" fill="#c0c0c0" />
<rect x="772" y="665" width="3" height="1" fill="#c0c0c0" />
<rect x="778" y="665" width="3" height="1" fill="#c0c0c0" />
<rect x="784" y="665" width="3" height="1" fill="#c0c0c0" />
<rect x="790" y="665" width="3" height="1" fill="#c0c0c0" />
<rect x="796" y="665" width="3" height="1" fill="#c0c0c0" />
<rect x="802" y="665" width="3" height="1" fill="#c0c0c0" />
<rect x="808" y="665" width="3" height="1" fill="#c0c0c0" />
<rect x="814" y="665" width="3" height="1" fill="#c0c0c0" />
<rect x="820" y="665" width="3" height="1" fill="#c0c0c0" />
<rect x="826" y="665" width="3" height="1" fill="#c0c0c0" />
<rect x="832" y="665" width="3" height="1" fill="#c0c0c0" />
<rect x="838" y="665" width="3" height="1" fill="#c0c0c0" />
<rect x="844" y="665" width="3" height="1" fill="#c0c0c0" />
<rect x="850" y="665" width="3" height="1" fill="#c0c0c0" />
<rect x="856" y="665" width="3" height="1" fill="#c0c0c0" />
<rect x="862" y="665" width="3" height="1" fill="#c0c0c0" />
<rect x="868" y="665" width="3" height="1" fill="#c0c0c0" />
<rect x="874" y="665" width="3" height="1" fill="#c0c0c0" />
<rect x="880" y="665" width="3" height="1" fill="#c0c0c0" />
<rect x="886" y="665" width="3" height="1" fill="#c0c0c0" />
<rect x="892" y="665" width="3" height="1" fill="#c0c0c0" />
<rect x="898" y="665" width="3" height="1" fill="#c0c0c0" />
<rect x="904" y="665" width="3" height="1" fill="#c0c0c0" />
<rect x="910" y="665" width="3" height="1" fill="#c0c0c0" />
<rect x="916" y="665" width="3" height="1" fill="#c0c0c0" />
<rect x="922" y="665" width="3" height="1" fill="#c0c0c0" />
<rect x="928" y="665" width="3" height="1" fill="#c0c0c0" />
<rect x="934" y="665" width="3" height="1" fill="#c0c0c0" />
<rect x="940" y="665" width="3" height="1" fill="#c0c0c0" />
<rect x="946" y="665" width="3" height="1" fill="#c0c0c0" />
<rect x="952" y="665" width="3" height="1" fill="#c0c0c0" />
<rect x="958" y="665" width="3" height="1" fill="#c0c0c0" />
<rect x="964" y="665" width="3" height="1" fill="#c0c0c0" />
<rect x="970" y="665" width="3" height="1" fill="#c0c0c0" />
<rect x="976" y="665" width="3" height="1" fill="#c0c0c0" />
<rect x="982" y="665" width="3" height="1" fill="#c0c0c0" />
<rect x="988" y="665" width="3" height="1" fill="#c0c0c0" />
<rect x="994" y="665" width="3" height="1" fill="#c0c0c0" />
<rect x="1000" y="665" width="3" height="1" fill="#c0c0c0" />
<rect x="1006" y="665" width="3" height="1" fill="#c0c0c0" />
<rect x="1012" y="665" width="3" height="1" fill="#c0c0c0" />
<rect x="1018" y="665" width="3" height="1" fill="#c0c0c0" />
<rect x="1024" y="665" width="3" height="1" fill="#c0c0c0" />
<rect x="1030" y="665" width="3" height="1" fill="#c0c0c0" />
<rect x="1036" y="665" width="3" height="1" fill="#c0c0c0" />
<rect x="1042" y="665" width="3" height="1" fill="#c0c0c0" />
<rect x="1048" y="665" width="3" height="1" fill="#c0c0c0" />
<rect x="1054" y="665" width="3" height="1" fill="#c0c0c0" />
<rect x="1060" y="665" width="3" height="1" fill="#c0c0c0" />
<rect x="1066" y="665" width="3" height="1" fill="#c0c0c0" />
<rect x="1072" y="665" width="3" height="1" fill="#c0c0c0" />
<rect x="1078" y="665" width="3" height="1" fill="#c0c0c0" />
<rect x="1084" y="665" width="3" height="1" fill="#c0c0c0" />
<rect x="1090" y="665" width="3" height="1" fill="#c0c0c0" />
<rect x="1096" y="665" width="3" height="1" fill="#c0c0c0" />
<rect x="1102" y="665" width="3" height="1" fill="#c0c0c0" />
<rect x="1108" y="665" width="3" height="1" fill="#c0c0c0" />
<rect x="1114" y="665" width="3" height="1" fill="#c0c0c0" />
<rect x="1120" y="665" width="3" height="1" fill="#c0c0c0" />
<rect x="1126" y="665" width="3" height="1" fill="#c0c0c0" />
<rect x="1132" y="665" width="3" height="1" fill="#c0c0c0" />
<rect x="1138" y="665" width="3" height="1" fill="#c0c0c0" />
<rect x="1144" y="665" width="3" height="1" fill="#c0c0c0" />
<rect x="1150" y="665" width="3" height="1" fill="#c0c0c0" />
<rect x="1156" y="665" width="3" height="1" fill="#c0c0c0" />
<rect x="1162" y="665" width="3" height="1" fill="#c0c0c0" />
<rect x="1168" y="665" width="3" height="1" fill="#c0c0c0" />
<rect x="1174" y="665" width="3" height="1" fill="#c0c0c0" />
<rect x="1180" y="665" width="3" height="1" fill="#c0c0c0" />
<rect x="1186" y="665" width="3" height="1" fill="#c0c0c0" />
<rect x="1192" y="665" width="3" height="1" fill="#c0c0c0" />
<rect x="1198" y="665" width="3" height="1" fill="#c0c0c0" />
<rect x="1204" y="665" width="3" height="1" fill="#c0c0c0" />
<rect x="1210" y="665" width="3" height="1" fill="#c0c0c0" />
<rect x="1216" y="665" width="3" height="1" fill="#c0c0c0" />
<rect x="1222" y="665" width="3" height="1" fill="#c0c0c0" />
<rect x="1228" y="665" width="3" height="1" fill="#c0c0c0" />
<rect x="1234" y="665" width="3" height="1" fill="#c0c0c0" />
<rect x="1240" y="665" width="3" height="1" fill="#c0c0c0" />
<rect x="1246" y="665" width="3" height="1" fill="#c0c0c0" />
<rect x="1252" y="665" width="3" height="1" fill="#c0c0c0" />
<rect x="1258" y="665" width="3" height="1" fill="#c0c0c0" />
<rect x="1264" y="665" width="3" height="1" fill="#c0c0c0" />
<rect x="1270" y="665" width="3" height="1" fill="#c0c0c0" />
<rect x="1276" y="665" width="3" height="1" fill="#c0c0c0" />
<rect x="1282" y="665" width="3" height="1" fill="#c0c0c0" />
<rect x="1288" y="665" width="3" height="1" fill="#c0c0c0" />
<rect x="1294" y="665" width="3" height="1" fill="#c0c0c0" />
<rect x="1300" y="665" width="3" height="1" fill="#c0c0c0" />
<rect x="1306" y="665" width="3" height="1" fill="#c0c0c0" />
<rect x="1312" y="665" width="3" height="1" fill="#c0c0c0" />
<rect x="1318" y="665" width="3" height="1" fill="#c0c0c0" />
<rect x="1324" y="665" width="3" height="1" fill="#c0c0c0" />
<rect x="1330" y="665" width="3" height="1" fill="#c0c0c0" />
<rect x="1336" y="665" width="3" height="1" fill="#c0c0c0" />
<rect x="1342" y="665" width="3" height="1" fill="#c0c0c0" />
<rect x="1348" y="665" width="3" height="1" fill="#c0c0c0" />
<rect x="1354" y="665" width="3" height="1" fill="#c0c0c0" />
<rect x="1360" y="665" width="3" height="1" fill="#c0c0c0" />
<rect x="1366" y="665" width="3" height="1" fill="#c0c0c0" />
<rect x="1372" y="665" width="3" height="1" fill="#c0c0c0" />
<rect x="1378" y="665" width="3" height="1" fill="#c0c0c0" />
<rect x="1384" y="665" width="3" height="1" fill="#c0c0c0" />
<rect x="1390" y="665" width="3" height="1" fill="#c0c0c0" />
<rect x="1396" y="665" width="3" height="1" fill="#c0c0c0" />
<rect x="1402" y="665" width="3" height="1" fill="#c0c0c0" />
<rect x="1408" y="665" width="3" height="1" fill="#c0c0c0" />
<rect x="1414" y="665" width="3" height="1" fill="#c0c0c0" />
<rect x="1420" y="665" width="3" height="1" fill="#c0c0c0" />
<rect x="1426" y="665" width="3" height="1" fill="#c0c0c0" />
<rect x="1432" y="665" width="3" height="1" fill="#c0c0c0" />
<rect x="1438" y="665" width="3" height="1" fill="#c0c0c0" />
<rect x="1444" y="665" width="3" height="1" fill="#c0c0c0" />
<rect x="1450" y="665" width="3" height="1" fill="#c0c0c0" />
<rect x="1456" y="665" width="3" height="1" fill="#c0c0c0" />
<rect x="1462" y="665" width="3" height="1" fill="#c0c0c0" />
<rect x="1468" y="665" width="3" height="1" fill="#c0c0c0" />
<rect x="1474" y="665" width="3" height="1" fill="#c0c0c0" />
<rect x="1480" y="665" width="3" height="1" fill="#c0c0c0" />
<rect x="1486" y="665" width="3" height="1" fill="#c0c0c0" />
<rect x="1492" y="665" width="3" height="1" fill="#c0c0c0" />
<rect x="1498" y="665" width="3" height="1" fill="#c0c0c0" />
<rect x="1504" y="665" width="3" height="1" fill="#c0c0c0" />
<rect x="1510" y="665" width="3" height="1" fill="#c0c0c0" />
<rect x="1516" y="665" width="3" height="1" fill="#c0c0c0" />
<rect x="1522" y="665" width="3" height="1" fill="#c0c0c0" />
<rect x="1528" y="665" width="3" height="1" fill="#c0c0c0" />
<rect x="1534" y="665" width="3" height="1" fill="#c0c0c0" />
<rect x="1540" y="665" width="3" height="1" fill="#c0c0c0" />
<rect x="1546" y="665" width="3" height="1" fill="#c0c0c0" />
<rect x="1552" y="665" width="3" height="1" fill="#c0c0c0" />
<rect x="1558" y="665" width="3" height="1" fill="#c0c0c0" />
<rect x="1564" y="665" width="3" height="1" fill="#c0c0c0" />
<rect x="1570" y="665" width="3" height="1" fill="#c0c0c0" />
<rect x="1576" y="665" width="3" height="1" fill="#c0c0c0" />
<rect x="1582" y="665" width="3" height="1" fill="#c0c0c0" />
<rect x="1588" y="665" width="3" height="1" fill="#c0c0c0" />
<rect x="1594" y="665" width="3" height="1" fill="#c0c0c0" />
<rect x="1600" y="665" width="3" height="1" fill="#c0c0c0" />
<rect x="1606" y="665" width="3" height="1" fill="#c0c0c0" />
<rect x="1612" y="665" width="3" height="1" fill="#c0c0c0" />
<rect x="1618" y="665" width="3" height="1" fill="#c0c0c0" />
<rect x="1624" y="665" width="3" height="1" fill="#c0c0c0" />
<rect x="1630" y="665" width="3" height="1" fill="#c0c0c0" />
<rect x="1636" y="665" width="3" height="1" fill="#c0c0c0" />
<rect x="1642" y="665" width="3" height="1" fill="#c0c0c0" />
<rect x="1648" y="665" width="3" height="1" fill="#c0c0c0" />
<rect x="1654" y="665" width="3" height="1" fill="#c0c0c0" />
<rect x="1660" y="665" width="3" height="1" fill="#c0c0c0" />
<rect x="1666" y="665" width="3" height="1" fill="#c0c0c0" />
<rect x="1672" y="665" width="3" height="1" fill="#c0c0c0" />
<rect x="1678" y="665" width="3" height="1" fill="#c0c0c0" />
<path d="M49 623h4v1h-4zM45 624h4v1h-4zM53 624h4v1h-4zM63 624h5v1h-5zM850 624h10v1h-10zM43 625h2v1h-2zM57 625h6v1h-6zM68 625h2v1h-2zM847 625h3v1h-3zM860 625h2v1h-2zM41 626h2v1h-2zM70 626h1v1h-1zM845 626h2v1h-2zM862 626h2v1h-2zM39 627h2v1h-2zM71 627h2v1h-2zM843 627h2v1h-2zM864 627h2v1h-2zM945 627h4v1h-4zM38 628h1v1h-1zM73 628h2v1h-2zM79 628h13v1h-13zM841 628h2v1h-2zM866 628h5v1h-5zM941 628h4v1h-4zM949 628h4v1h-4zM1258 628h2v1h-2zM36 629h2v1h-2zM75 629h4v1h-4zM92 629h1v1h-1zM840 629h1v1h-1zM871 629h5v1h-5zM939 629h2v1h-2zM953 629h4v1h-4zM1234 629h2v1h-2zM1255 629h3v1h-3zM1260 629h1v1h-1zM35 630h1v1h-1zM92 630h1v1h-1zM839 630h1v1h-1zM876 630h2v1h-2zM937 630h2v1h-2zM957 630h4v1h-4zM1231 630h3v1h-3zM1236 630h2v1h-2zM1253 630h2v1h-2zM1261 630h1v1h-1zM33 631h2v1h-2zM93 631h1v1h-1zM837 631h2v1h-2zM878 631h1v1h-1zM935 631h2v1h-2zM961 631h3v1h-3zM1229 631h2v1h-2zM1238 631h1v1h-1zM1250 631h3v1h-3zM1262 631h1v1h-1zM32 632h1v1h-1zM93 632h1v1h-1zM836 632h1v1h-1zM879 632h2v1h-2zM934 632h1v1h-1zM963 632h1v1h-1zM1227 632h2v1h-2zM1239 632h2v1h-2zM1247 632h3v1h-3zM1263 632h1v1h-1zM31 633h1v1h-1zM94 633h1v1h-1zM835 633h1v1h-1zM881 633h2v1h-2zM932 633h2v1h-2zM964 633h1v1h-1zM1225 633h2v1h-2zM1241 633h2v1h-2zM1245 633h2v1h-2zM1264 633h1v1h-1zM29 634h2v1h-2zM94 634h1v1h-1zM833 634h2v1h-2zM883 634h2v1h-2zM927 634h5v1h-5zM964 634h1v1h-1zM1224 634h1v1h-1zM1243 634h2v1h-2zM1265 634h1v1h-1zM28 635h1v1h-1zM95 635h1v1h-1zM832 635h1v1h-1zM885 635h2v1h-2zM922 635h5v1h-5zM965 635h1v1h-1zM1175 635h5v1h-5zM1223 635h1v1h-1zM1266 635h1v1h-1zM27 636h1v1h-1zM95 636h1v1h-1zM831 636h1v1h-1zM887 636h3v1h-3zM919 636h3v1h-3zM965 636h1v1h-1zM1167 636h8v1h-8zM1180 636h1v1h-1zM1221 636h2v1h-2zM1267 636h2v1h-2zM26 637h1v1h-1zM96 637h1v1h-1zM355 637h1v1h-1zM802 637h11v1h-11zM829 637h2v1h-2zM890 637h2v1h-2zM917 637h2v1h-2zM966 637h1v1h-1zM1161 637h6v1h-6zM1181 637h1v1h-1zM1210 637h5v1h-5zM1220 637h1v1h-1zM1269 637h4v1h-4zM26 638h1v1h-1zM96 638h1v1h-1zM353 638h2v1h-2zM356 638h2v1h-2zM799 638h3v1h-3zM813 638h2v1h-2zM828 638h1v1h-1zM892 638h2v1h-2zM914 638h3v1h-3zM966 638h1v1h-1zM1157 638h4v1h-4zM1181 638h1v1h-1zM1208 638h2v1h-2zM1215 638h5v1h-5zM1273 638h3v1h-3zM25 639h1v1h-1zM97 639h1v1h-1zM351 639h2v1h-2zM358 639h2v1h-2zM369 639h4v1h-4zM797 639h2v1h-2zM815 639h3v1h-3zM823 639h5v1h-5zM894 639h2v1h-2zM911 639h3v1h-3zM967 639h1v1h-1zM1155 639h2v1h-2zM1182 639h1v1h-1zM1206 639h2v1h-2zM1276 639h1v1h-1zM1329 639h3v1h-3zM24 640h1v1h-1zM97 640h1v1h-1zM350 640h1v1h-1zM360 640h2v1h-2zM365 640h4v1h-4zM373 640h2v1h-2zM795 640h2v1h-2zM818 640h5v1h-5zM896 640h2v1h-2zM909 640h2v1h-2zM967 640h1v1h-1zM1154 640h1v1h-1zM1183 640h1v1h-1zM1204 640h2v1h-2zM1277 640h1v1h-1zM1325 640h4v1h-4zM24 641h1v1h-1zM98 641h1v1h-1zM348 641h2v1h-2zM362 641h3v1h-3zM375 641h3v1h-3zM383 641h5v1h-5zM794 641h1v1h-1zM898 641h11v1h-11zM968 641h1v1h-1zM1058 641h11v1h-11zM1154 641h1v1h-1zM1184 641h1v1h-1zM1202 641h2v1h-2zM1278 641h1v1h-1zM1322 641h3v1h-3zM23 642h1v1h-1zM98 642h1v1h-1zM339 642h9v1h-9zM378 642h5v1h-5zM388 642h2v1h-2zM793 642h1v1h-1zM968 642h1v1h-1zM1056 642h2v1h-2zM1069 642h2v1h-2zM1081 642h3v1h-3zM1153 642h1v1h-1zM1185 642h1v1h-1zM1199 642h3v1h-3zM1279 642h2v1h-2zM1320 642h2v1h-2zM22 643h1v1h-1zM99 643h4v1h-4zM338 643h1v1h-1zM390 643h1v1h-1zM603 643h10v1h-10zM791 643h2v1h-2zM969 643h1v1h-1zM1054 643h2v1h-2zM1071 643h3v1h-3zM1077 643h4v1h-4zM1084 643h1v1h-1zM1152 643h1v1h-1zM1185 643h1v1h-1zM1197 643h2v1h-2zM1281 643h1v1h-1zM1318 643h2v1h-2zM22 644h1v1h-1zM103 644h5v1h-5zM186 644h3v1h-3zM338 644h1v1h-1zM391 644h2v1h-2zM602 644h1v1h-1zM613 644h4v1h-4zM635 644h4v1h-4zM790 644h1v1h-1zM969 644h1v1h-1zM1052 644h2v1h-2zM1074 644h3v1h-3zM1085 644h1v1h-1zM1151 644h1v1h-1zM1186 644h1v1h-1zM1191 644h6v1h-6zM1282 644h1v1h-1zM1298 644h13v1h-13zM1316 644h2v1h-2zM3 645h1v1h-1zM21 645h1v1h-1zM108 645h2v1h-2zM184 645h2v1h-2zM189 645h2v1h-2zM337 645h1v1h-1zM393 645h2v1h-2zM467 645h9v1h-9zM602 645h1v1h-1zM617 645h3v1h-3zM634 645h1v1h-1zM639 645h8v1h-8zM789 645h1v1h-1zM970 645h1v1h-1zM1047 645h5v1h-5zM1086 645h1v1h-1zM1151 645h1v1h-1zM1187 645h4v1h-4zM1283 645h2v1h-2zM1296 645h2v1h-2zM1311 645h5v1h-5zM4 646h1v1h-1zM20 646h1v1h-1zM110 646h2v1h-2zM163 646h10v1h-10zM182 646h2v1h-2zM191 646h3v1h-3zM337 646h1v1h-1zM395 646h1v1h-1zM466 646h1v1h-1zM476 646h1v1h-1zM601 646h1v1h-1zM620 646h1v1h-1zM633 646h1v1h-1zM647 646h5v1h-5zM747 646h2v1h-2zM788 646h1v1h-1zM970 646h1v1h-1zM1043 646h4v1h-4zM1087 646h1v1h-1zM1150 646h1v1h-1zM1285 646h2v1h-2zM1294 646h2v1h-2zM5 647h1v1h-1zM20 647h1v1h-1zM112 647h2v1h-2zM119 647h5v1h-5zM162 647h1v1h-1zM173 647h4v1h-4zM180 647h2v1h-2zM194 647h2v1h-2zM336 647h1v1h-1zM396 647h2v1h-2zM466 647h1v1h-1zM477 647h2v1h-2zM601 647h1v1h-1zM621 647h1v1h-1zM632 647h1v1h-1zM652 647h1v1h-1zM746 647h1v1h-1zM749 647h2v1h-2zM761 647h11v1h-11zM787 647h1v1h-1zM971 647h1v1h-1zM1042 647h1v1h-1zM1088 647h1v1h-1zM1149 647h1v1h-1zM1287 647h3v1h-3zM1292 647h2v1h-2zM6 648h1v1h-1zM19 648h1v1h-1zM114 648h5v1h-5zM124 648h1v1h-1zM162 648h1v1h-1zM177 648h3v1h-3zM196 648h1v1h-1zM336 648h1v1h-1zM398 648h1v1h-1zM465 648h1v1h-1zM479 648h1v1h-1zM579 648h2v1h-2zM600 648h1v1h-1zM622 648h1v1h-1zM631 648h1v1h-1zM653 648h1v1h-1zM745 648h1v1h-1zM751 648h3v1h-3zM757 648h4v1h-4zM772 648h2v1h-2zM785 648h2v1h-2zM971 648h9v1h-9zM1042 648h1v1h-1zM1089 648h1v1h-1zM1139 648h2v1h-2zM1148 648h1v1h-1zM1290 648h2v1h-2zM7 649h1v1h-1zM17 649h2v1h-2zM125 649h1v1h-1zM161 649h1v1h-1zM197 649h1v1h-1zM335 649h1v1h-1zM399 649h2v1h-2zM464 649h1v1h-1zM480 649h1v1h-1zM577 649h2v1h-2zM581 649h4v1h-4zM599 649h1v1h-1zM623 649h1v1h-1zM631 649h1v1h-1zM654 649h1v1h-1zM743 649h2v1h-2zM754 649h3v1h-3zM774 649h1v1h-1zM783 649h2v1h-2zM980 649h2v1h-2zM1041 649h1v1h-1zM1090 649h1v1h-1zM1137 649h2v1h-2zM1141 649h4v1h-4zM1148 649h1v1h-1zM8 650h1v1h-1zM15 650h2v1h-2zM126 650h1v1h-1zM160 650h1v1h-1zM198 650h1v1h-1zM210 650h5v1h-5zM334 650h1v1h-1zM401 650h2v1h-2zM464 650h1v1h-1zM481 650h2v1h-2zM575 650h2v1h-2zM585 650h3v1h-3zM599 650h1v1h-1zM624 650h1v1h-1zM630 650h1v1h-1zM655 650h2v1h-2zM666 650h2v1h-2zM742 650h1v1h-1zM775 650h2v1h-2zM782 650h1v1h-1zM982 650h2v1h-2zM1040 650h1v1h-1zM1091 650h2v1h-2zM1136 650h1v1h-1zM1145 650h3v1h-3zM9 651h1v1h-1zM14 651h1v1h-1zM127 651h1v1h-1zM159 651h1v1h-1zM199 651h2v1h-2zM208 651h2v1h-2zM215 651h8v1h-8zM334 651h1v1h-1zM403 651h1v1h-1zM463 651h1v1h-1zM483 651h2v1h-2zM559 651h6v1h-6zM574 651h1v1h-1zM588 651h1v1h-1zM598 651h1v1h-1zM625 651h1v1h-1zM629 651h1v1h-1zM657 651h1v1h-1zM663 651h3v1h-3zM668 651h2v1h-2zM741 651h1v1h-1zM777 651h2v1h-2zM780 651h2v1h-2zM984 651h2v1h-2zM1039 651h1v1h-1zM1093 651h4v1h-4zM1135 651h1v1h-1zM10 652h1v1h-1zM12 652h2v1h-2zM127 652h1v1h-1zM159 652h1v1h-1zM201 652h1v1h-1zM206 652h2v1h-2zM223 652h16v1h-16zM333 652h1v1h-1zM404 652h2v1h-2zM462 652h1v1h-1zM485 652h4v1h-4zM554 652h5v1h-5zM565 652h4v1h-4zM572 652h2v1h-2zM589 652h2v1h-2zM597 652h1v1h-1zM626 652h1v1h-1zM628 652h1v1h-1zM658 652h1v1h-1zM661 652h2v1h-2zM670 652h2v1h-2zM681 652h3v1h-3zM740 652h1v1h-1zM779 652h1v1h-1zM986 652h2v1h-2zM1010 652h2v1h-2zM1039 652h1v1h-1zM1097 652h4v1h-4zM1133 652h2v1h-2zM11 653h1v1h-1zM128 653h1v1h-1zM158 653h1v1h-1zM202 653h1v1h-1zM204 653h2v1h-2zM239 653h5v1h-5zM333 653h1v1h-1zM406 653h1v1h-1zM462 653h1v1h-1zM489 653h4v1h-4zM551 653h3v1h-3zM569 653h3v1h-3zM591 653h1v1h-1zM597 653h1v1h-1zM627 653h1v1h-1zM659 653h2v1h-2zM672 653h2v1h-2zM677 653h4v1h-4zM684 653h1v1h-1zM738 653h2v1h-2zM988 653h2v1h-2zM1008 653h2v1h-2zM1012 653h2v1h-2zM1038 653h1v1h-1zM1101 653h4v1h-4zM1132 653h1v1h-1zM129 654h1v1h-1zM157 654h1v1h-1zM203 654h1v1h-1zM244 654h1v1h-1zM332 654h1v1h-1zM407 654h2v1h-2zM461 654h1v1h-1zM493 654h4v1h-4zM549 654h2v1h-2zM592 654h1v1h-1zM596 654h1v1h-1zM674 654h3v1h-3zM685 654h2v1h-2zM736 654h2v1h-2zM990 654h2v1h-2zM1006 654h2v1h-2zM1014 654h2v1h-2zM1037 654h1v1h-1zM1105 654h12v1h-12zM1129 654h3v1h-3zM130 655h1v1h-1zM135 655h6v1h-6zM156 655h1v1h-1zM245 655h1v1h-1zM332 655h1v1h-1zM409 655h2v1h-2zM460 655h1v1h-1zM497 655h4v1h-4zM547 655h2v1h-2zM593 655h2v1h-2zM596 655h1v1h-1zM687 655h1v1h-1zM734 655h2v1h-2zM992 655h2v1h-2zM1004 655h2v1h-2zM1016 655h2v1h-2zM1036 655h1v1h-1zM1117 655h4v1h-4zM1125 655h4v1h-4zM131 656h4v1h-4zM141 656h4v1h-4zM156 656h1v1h-1zM246 656h1v1h-1zM323 656h9v1h-9zM411 656h2v1h-2zM425 656h6v1h-6zM447 656h8v1h-8zM460 656h1v1h-1zM501 656h2v1h-2zM546 656h1v1h-1zM595 656h1v1h-1zM688 656h1v1h-1zM732 656h2v1h-2zM994 656h10v1h-10zM1018 656h13v1h-13zM1036 656h1v1h-1zM1121 656h4v1h-4zM145 657h11v1h-11zM247 657h1v1h-1zM295 657h6v1h-6zM322 657h1v1h-1zM413 657h4v1h-4zM421 657h4v1h-4zM431 657h16v1h-16zM455 657h5v1h-5zM503 657h3v1h-3zM546 657h1v1h-1zM689 657h2v1h-2zM731 657h1v1h-1zM1031 657h5v1h-5zM247 658h1v1h-1zM291 658h4v1h-4zM301 658h2v1h-2zM322 658h1v1h-1zM417 658h4v1h-4zM506 658h2v1h-2zM545 658h1v1h-1zM691 658h4v1h-4zM703 658h13v1h-13zM729 658h2v1h-2zM248 659h1v1h-1zM289 659h2v1h-2zM303 659h3v1h-3zM321 659h1v1h-1zM508 659h1v1h-1zM545 659h1v1h-1zM695 659h8v1h-8zM716 659h2v1h-2zM727 659h2v1h-2zM249 660h1v1h-1zM266 660h2v1h-2zM287 660h2v1h-2zM306 660h2v1h-2zM320 660h1v1h-1zM509 660h1v1h-1zM544 660h1v1h-1zM718 660h2v1h-2zM726 660h1v1h-1zM250 661h1v1h-1zM264 661h2v1h-2zM268 661h2v1h-2zM286 661h1v1h-1zM308 661h1v1h-1zM320 661h1v1h-1zM510 661h1v1h-1zM543 661h1v1h-1zM720 661h2v1h-2zM724 661h2v1h-2zM251 662h2v1h-2zM262 662h2v1h-2zM270 662h2v1h-2zM284 662h2v1h-2zM309 662h1v1h-1zM319 662h1v1h-1zM511 662h1v1h-1zM543 662h1v1h-1zM722 662h2v1h-2zM253 663h4v1h-4zM260 663h2v1h-2zM272 663h2v1h-2zM279 663h5v1h-5zM310 663h1v1h-1zM318 663h1v1h-1zM512 663h1v1h-1zM542 663h1v1h-1zM257 664h3v1h-3zM274 664h5v1h-5zM311 664h1v1h-1zM318 664h1v1h-1zM513 664h1v1h-1zM541 664h1v1h-1zM312 665h1v1h-1zM317 665h1v1h-1zM514 665h1v1h-1zM541 665h1v1h-1zM313 666h1v1h-1zM316 666h1v1h-1zM515 666h4v1h-4zM540 666h1v1h-1zM314 667h1v1h-1zM316 667h1v1h-1zM519 667h8v1h-8zM540 667h1v1h-1zM315 668h1v1h-1zM527 668h13v1h-13z" fill="#1e90ff" shape-rendering="crispEdges"/>
<rect x="1684" y="593" width="2" height="1" fill="#000" />
<rect x="1684" y="695" width="2" height="1" fill="#000" />
</g>
<g font-family='"Liberation Sans", sans-serif'>
<text x="7" y="605" font-size="9.9" fill="#000" text-anchor="start" textLength="68" lengthAdjust="spacingAndGlyphs" stroke="#000" stroke-width="0.1" >RSI(14) 54.9121</text>
<text x="1687" y="603" font-size="9.9" fill="#000" text-anchor="start" textLength="16" lengthAdjust="spacingAndGlyphs" stroke="#000" stroke-width="0.1" >100</text>
<text x="1687" y="628" font-size="9.9" fill="#000" text-anchor="start" textLength="11" lengthAdjust="spacingAndGlyphs" stroke="#000" stroke-width="0.1" >70</text>
<text x="1687" y="669" font-size="9.9" fill="#000" text-anchor="start" textLength="11" lengthAdjust="spacingAndGlyphs" stroke="#000" stroke-width="0.1" >30</text>
<text x="1687" y="693" font-size="9.9" fill="#000" text-anchor="start" textLength="5.5" lengthAdjust="spacingAndGlyphs" stroke="#000" stroke-width="0.1" >0</text>
</g>
<g shape-rendering="crispEdges">
<rect x="3" y="732" width="1" height="16" fill="#c0c0c0" />
<rect x="11" y="738" width="1" height="10" fill="#c0c0c0" />
<rect x="19" y="741" width="1" height="7" fill="#c0c0c0" />
<rect x="27" y="738" width="1" height="10" fill="#c0c0c0" />
<rect x="35" y="732" width="1" height="16" fill="#c0c0c0" />
<rect x="43" y="724" width="1" height="24" fill="#c0c0c0" />
<rect x="51" y="716" width="1" height="32" fill="#c0c0c0" />
<rect x="59" y="711" width="1" height="37" fill="#c0c0c0" />
<rect x="67" y="707" width="1" height="41" fill="#c0c0c0" />
<rect x="75" y="706" width="1" height="42" fill="#c0c0c0" />
<rect x="83" y="705" width="1" height="43" fill="#c0c0c0" />
<rect x="91" y="705" width="1" height="43" fill="#c0c0c0" />
<rect x="99" y="711" width="1" height="37" fill="#c0c0c0" />
<rect x="107" y="716" width="1" height="32" fill="#c0c0c0" />
<rect x="115" y="723" width="1" height="25" fill="#c0c0c0" />
<rect x="123" y="728" width="1" height="20" fill="#c0c0c0" />
<rect x="131" y="738" width="1" height="10" fill="#c0c0c0" />
<rect x="139" y="744" width="1" height="4" fill="#c0c0c0" />
<rect x="147" y="747" width="1" height="5" fill="#c0c0c0" />
<rect x="155" y="747" width="1" height="10" fill="#c0c0c0" />
<rect x="163" y="747" width="1" height="10" fill="#c0c0c0" />
<rect x="171" y="747" width="1" height="10" fill="#c0c0c0" />
<rect x="179" y="747" width="1" height="10" fill="#c0c0c0" />
<rect x="187" y="747" width="1" height="8" fill="#c0c0c0" />
<rect x="195" y="747" width="1" height="8" fill="#c0c0c0" />
<rect x="203" y="747" width="1" height="12" fill="#c0c0c0" />
<rect x="211" y="747" width="1" height="13" fill="#c0c0c0" />
<rect x="219" y="747" width="1" height="14" fill="#c0c0c0" />
<rect x="227" y="747" width="1" height="15" fill="#c0c0c0" />
<rect x="235" y="747" width="1" height="16" fill="#c0c0c0" />
<rect x="243" y="747" width="1" height="17" fill="#c0c0c0" />
<rect x="251" y="747" width="1" height="22" fill="#c0c0c0" />
<rect x="259" y="747" width="1" height="27" fill="#c0c0c0" />
<rect x="267" y="747" width="1" height="30" fill="#c0c0c0" />
<rect x="275" y="747" width="1" height="34" fill="#c0c0c0" />
<rect x="283" y="747" width="1" height="37" fill="#c0c0c0" />
<rect x="291" y="747" width="1" height="37" fill="#c0c0c0" />
<rect x="299" y="747" width="1" height="36" fill="#c0c0c0" />
<rect x="307" y="747" width="1" height="37" fill="#c0c0c0" />
<rect x="315" y="747" width="1" height="43" fill="#c0c0c0" />
<rect x="323" y="747" width="1" height="42" fill="#c0c0c0" />
<rect x="331" y="747" width="1" height="42" fill="#c0c0c0" />
<rect x="339" y="747" width="1" height="34" fill="#c0c0c0" />
<rect x="347" y="747" width="1" height="28" fill="#c0c0c0" />
<rect x="355" y="747" width="1" height="19" fill="#c0c0c0" />
<rect x="363" y="747" width="1" height="15" fill="#c0c0c0" />
<rect x="371" y="747" width="1" height="10" fill="#c0c0c0" />
<rect x="379" y="747" width="1" height="7" fill="#c0c0c0" />
<rect x="387" y="747" width="1" height="4" fill="#c0c0c0" />
<rect x="395" y="747" width="1" height="4" fill="#c0c0c0" />
<rect x="403" y="747" width="1" height="8" fill="#c0c0c0" />
<rect x="411" y="747" width="1" height="14" fill="#c0c0c0" />
<rect x="419" y="747" width="1" height="19" fill="#c0c0c0" />
<rect x="427" y="747" width="1" height="22" fill="#c0c0c0" />
<rect x="435" y="747" width="1" height="25" fill="#c0c0c0" />
<rect x="443" y="747" width="1" height="27" fill="#c0c0c0" />
<rect x="451" y="747" width="1" height="28" fill="#c0c0c0" />
<rect x="459" y="747" width="1" height="29" fill="#c0c0c0" />
<rect x="467" y="747" width="1" height="25" fill="#c0c0c0" />
<rect x="475" y="747" width="1" height="21" fill="#c0c0c0" />
<rect x="483" y="747" width="1" height="21" fill="#c0c0c0" />
<rect x="491" y="747" width="1" height="22" fill="#c0c0c0" />
<rect x="499" y="747" width="1" height="24" fill="#c0c0c0" />
<rect x="507" y="747" width="1" height="27" fill="#c0c0c0" />
<rect x="515" y="747" width="1" height="34" fill="#c0c0c0" />
<rect x="523" y="747" width="1" height="40" fill="#c0c0c0" />
<rect x="531" y="747" width="1" height="46" fill="#c0c0c0" />
<rect x="539" y="747" width="1" height="50" fill="#c0c0c0" />
<rect x="547" y="747" width="1" height="47" fill="#c0c0c0" />
<rect x="555" y="747" width="1" height="44" fill="#c0c0c0" />
<rect x="563" y="747" width="1" height="40" fill="#c0c0c0" />
<rect x="571" y="747" width="1" height="38" fill="#c0c0c0" />
<rect x="579" y="747" width="1" height="34" fill="#c0c0c0" />
<rect x="587" y="747" width="1" height="31" fill="#c0c0c0" />
<rect x="595" y="747" width="1" height="32" fill="#c0c0c0" />
<rect x="603" y="747" width="1" height="27" fill="#c0c0c0" />
<rect x="611" y="747" width="1" height="22" fill="#c0c0c0" />
<rect x="619" y="747" width="1" height="19" fill="#c0c0c0" />
<rect x="627" y="747" width="1" height="21" fill="#c0c0c0" />
<rect x="635" y="747" width="1" height="18" fill="#c0c0c0" />
<rect x="643" y="747" width="1" height="15" fill="#c0c0c0" />
<rect x="651" y="747" width="1" height="14" fill="#c0c0c0" />
<rect x="659" y="747" width="1" height="17" fill="#c0c0c0" />
<rect x="667" y="747" width="1" height="18" fill="#c0c0c0" />
<rect x="675" y="747" width="1" height="20" fill="#c0c0c0" />
<rect x="683" y="747" width="1" height="21" fill="#c0c0c0" />
<rect x="691" y="747" width="1" height="26" fill="#c0c0c0" />
<rect x="699" y="747" width="1" height="30" fill="#c0c0c0" />
<rect x="707" y="747" width="1" height="33" fill="#c0c0c0" />
<rect x="715" y="747" width="1" height="35" fill="#c0c0c0" />
<rect x="723" y="747" width="1" height="39" fill="#c0c0c0" />
<rect x="731" y="747" width="1" height="39" fill="#c0c0c0" />
<rect x="739" y="747" width="1" height="37" fill="#c0c0c0" />
<rect x="747" y="747" width="1" height="33" fill="#c0c0c0" />
<rect x="755" y="747" width="1" height="30" fill="#c0c0c0" />
<rect x="763" y="747" width="1" height="26" fill="#c0c0c0" />
<rect x="771" y="747" width="1" height="23" fill="#c0c0c0" />
<rect x="779" y="747" width="1" height="24" fill="#c0c0c0" />
<rect x="787" y="747" width="1" height="21" fill="#c0c0c0" />
<rect x="795" y="747" width="1" height="16" fill="#c0c0c0" />
<rect x="803" y="747" width="1" height="10" fill="#c0c0c0" />
<rect x="811" y="747" width="1" height="5" fill="#c0c0c0" />
<rect x="819" y="747" width="1" height="2" fill="#c0c0c0" />
<rect x="827" y="745" width="1" height="3" fill="#c0c0c0" />
<rect x="835" y="739" width="1" height="9" fill="#c0c0c0" />
<rect x="843" y="731" width="1" height="17" fill="#c0c0c0" />
<rect x="851" y="722" width="1" height="26" fill="#c0c0c0" />
<rect x="859" y="715" width="1" height="33" fill="#c0c0c0" />
<rect x="867" y="712" width="1" height="36" fill="#c0c0c0" />
<rect x="875" y="710" width="1" height="38" fill="#c0c0c0" />
<rect x="883" y="710" width="1" height="38" fill="#c0c0c0" />
<rect x="891" y="713" width="1" height="35" fill="#c0c0c0" />
<rect x="899" y="716" width="1" height="32" fill="#c0c0c0" />
<rect x="907" y="720" width="1" height="28" fill="#c0c0c0" />
<rect x="915" y="721" width="1" height="27" fill="#c0c0c0" />
<rect x="923" y="721" width="1" height="27" fill="#c0c0c0" />
<rect x="931" y="721" width="1" height="27" fill="#c0c0c0" />
<rect x="939" y="718" width="1" height="30" fill="#c0c0c0" />
<rect x="947" y="715" width="1" height="33" fill="#c0c0c0" />
<rect x="955" y="714" width="1" height="34" fill="#c0c0c0" />
<rect x="963" y="714" width="1" height="34" fill="#c0c0c0" />
<rect x="971" y="721" width="1" height="27" fill="#c0c0c0" />
<rect x="979" y="727" width="1" height="21" fill="#c0c0c0" />
<rect x="987" y="734" width="1" height="14" fill="#c0c0c0" />
<rect x="995" y="741" width="1" height="7" fill="#c0c0c0" />
<rect x="1003" y="747" width="1" height="1" fill="#c0c0c0" />
<rect x="1011" y="747" width="1" height="5" fill="#c0c0c0" />
<rect x="1019" y="747" width="1" height="9" fill="#c0c0c0" />
<rect x="1027" y="747" width="1" height="13" fill="#c0c0c0" />
<rect x="1035" y="747" width="1" height="16" fill="#c0c0c0" />
<rect x="1043" y="747" width="1" height="15" fill="#c0c0c0" />
<rect x="1051" y="747" width="1" height="13" fill="#c0c0c0" />
<rect x="1059" y="747" width="1" height="9" fill="#c0c0c0" />
<rect x="1067" y="747" width="1" height="7" fill="#c0c0c0" />
<rect x="1075" y="747" width="1" height="6" fill="#c0c0c0" />
<rect x="1083" y="747" width="1" height="4" fill="#c0c0c0" />
<rect x="1091" y="747" width="1" height="6" fill="#c0c0c0" />
<rect x="1099" y="747" width="1" height="8" fill="#c0c0c0" />
<rect x="1107" y="747" width="1" height="11" fill="#c0c0c0" />
<rect x="1115" y="747" width="1" height="13" fill="#c0c0c0" />
<rect x="1123" y="747" width="1" height="16" fill="#c0c0c0" />
<rect x="1131" y="747" width="1" height="17" fill="#c0c0c0" />
<rect x="1139" y="747" width="1" height="16" fill="#c0c0c0" />
<rect x="1147" y="747" width="1" height="15" fill="#c0c0c0" />
<rect x="1155" y="747" width="1" height="11" fill="#c0c0c0" />
<rect x="1163" y="747" width="1" height="6" fill="#c0c0c0" />
<rect x="1171" y="747" width="1" height="2" fill="#c0c0c0" />
<rect x="1179" y="744" width="1" height="4" fill="#c0c0c0" />
<rect x="1187" y="745" width="1" height="3" fill="#c0c0c0" />
<rect x="1195" y="745" width="1" height="3" fill="#c0c0c0" />
<rect x="1203" y="744" width="1" height="4" fill="#c0c0c0" />
<rect x="1211" y="742" width="1" height="6" fill="#c0c0c0" />
<rect x="1219" y="740" width="1" height="8" fill="#c0c0c0" />
<rect x="1227" y="737" width="1" height="11" fill="#c0c0c0" />
<rect x="1235" y="732" width="1" height="16" fill="#c0c0c0" />
<rect x="1243" y="731" width="1" height="17" fill="#c0c0c0" />
<rect x="1251" y="728" width="1" height="20" fill="#c0c0c0" />
<rect x="1259" y="724" width="1" height="24" fill="#c0c0c0" />
<rect x="1267" y="724" width="1" height="24" fill="#c0c0c0" />
<rect x="1275" y="726" width="1" height="22" fill="#c0c0c0" />
<rect x="1283" y="729" width="1" height="19" fill="#c0c0c0" />
<rect x="1291" y="733" width="1" height="15" fill="#c0c0c0" />
<rect x="1299" y="735" width="1" height="13" fill="#c0c0c0" />
<rect x="1307" y="737" width="1" height="11" fill="#c0c0c0" />
<rect x="1315" y="739" width="1" height="9" fill="#c0c0c0" />
<rect x="1323" y="739" width="1" height="9" fill="#c0c0c0" />
<rect x="1331" y="738" width="1" height="10" fill="#c0c0c0" />
</g>
<path d="M105 711h3v1h-3zM111 711h3v1h-3zM117 711h2v1h-2zM101 712h1v1h-1zM119 712h1v1h-1zM123 712h2v1h-2zM99 713h2v1h-2zM125 713h1v1h-1zM95 714h1v1h-1zM129 714h1v1h-1zM93 715h2v1h-2zM130 715h2v1h-2zM921 715h3v1h-3zM911 716h1v1h-1zM915 716h3v1h-3zM927 716h3v1h-3zM933 716h2v1h-2zM88 717h2v1h-2zM905 717h1v1h-1zM909 717h2v1h-2zM935 717h1v1h-1zM939 717h3v1h-3zM945 717h3v1h-3zM87 718h1v1h-1zM135 718h2v1h-2zM903 718h2v1h-2zM951 718h3v1h-3zM957 718h3v1h-3zM963 718h3v1h-3zM969 718h3v1h-3zM137 719h1v1h-1zM898 719h2v1h-2zM975 719h3v1h-3zM82 720h2v1h-2zM897 720h1v1h-1zM981 720h3v1h-3zM81 721h1v1h-1zM141 721h1v1h-1zM893 721h1v1h-1zM987 721h2v1h-2zM77 722h1v1h-1zM142 722h1v1h-1zM891 722h2v1h-2zM989 722h1v1h-1zM3 723h3v1h-3zM75 723h2v1h-2zM143 723h1v1h-1zM993 723h3v1h-3zM9 724h3v1h-3zM71 724h1v1h-1zM886 724h2v1h-2zM15 725h2v1h-2zM69 725h2v1h-2zM147 725h1v1h-1zM885 725h1v1h-1zM999 725h3v1h-3zM17 726h1v1h-1zM148 726h2v1h-2zM21 727h3v1h-3zM63 727h3v1h-3zM880 727h2v1h-2zM1005 727h2v1h-2zM27 728h3v1h-3zM879 728h1v1h-1zM1007 728h1v1h-1zM33 729h3v1h-3zM57 729h3v1h-3zM153 729h2v1h-2zM1011 729h1v1h-1zM1287 729h3v1h-3zM1293 729h3v1h-3zM1299 729h3v1h-3zM39 730h3v1h-3zM45 730h3v1h-3zM51 730h3v1h-3zM155 730h1v1h-1zM875 730h1v1h-1zM1012 730h2v1h-2zM1281 730h3v1h-3zM1305 730h3v1h-3zM873 731h2v1h-2zM1277 731h1v1h-1zM1311 731h3v1h-3zM1317 731h2v1h-2zM1275 732h2v1h-2zM1319 732h1v1h-1zM1323 732h3v1h-3zM159 733h1v1h-1zM1017 733h2v1h-2zM1269 733h3v1h-3zM1329 733h3v1h-3zM160 734h1v1h-1zM868 734h2v1h-2zM1019 734h1v1h-1zM1265 734h1v1h-1zM161 735h1v1h-1zM867 735h1v1h-1zM1263 735h2v1h-2zM1257 736h3v1h-3zM165 737h1v1h-1zM1023 737h2v1h-2zM1253 737h1v1h-1zM166 738h1v1h-1zM863 738h1v1h-1zM1025 738h1v1h-1zM1251 738h2v1h-2zM167 739h1v1h-1zM861 739h2v1h-2zM1245 739h3v1h-3zM1029 740h1v1h-1zM1241 740h1v1h-1zM171 741h1v1h-1zM1030 741h1v1h-1zM1239 741h2v1h-2zM172 742h2v1h-2zM857 742h1v1h-1zM1031 742h1v1h-1zM1233 742h3v1h-3zM856 743h1v1h-1zM1229 743h1v1h-1zM177 744h1v1h-1zM855 744h1v1h-1zM1035 744h1v1h-1zM1227 744h2v1h-2zM178 745h2v1h-2zM1036 745h2v1h-2zM1221 745h3v1h-3zM183 747h1v1h-1zM851 747h1v1h-1zM1041 747h1v1h-1zM1215 747h3v1h-3zM184 748h2v1h-2zM849 748h2v1h-2zM1042 748h2v1h-2zM1209 749h3v1h-3zM189 750h2v1h-2zM1047 750h1v1h-1zM1205 750h1v1h-1zM191 751h1v1h-1zM844 751h2v1h-2zM1048 751h2v1h-2zM1203 751h2v1h-2zM195 752h2v1h-2zM843 752h1v1h-1zM1197 752h3v1h-3zM197 753h1v1h-1zM1053 753h3v1h-3zM1193 753h1v1h-1zM201 754h3v1h-3zM838 754h2v1h-2zM1059 754h2v1h-2zM1191 754h2v1h-2zM207 755h2v1h-2zM837 755h1v1h-1zM1061 755h1v1h-1zM1095 755h3v1h-3zM1101 755h3v1h-3zM1107 755h3v1h-3zM1113 755h3v1h-3zM1119 755h3v1h-3zM1125 755h2v1h-2zM1185 755h3v1h-3zM209 756h1v1h-1zM213 756h2v1h-2zM1065 756h3v1h-3zM1071 756h3v1h-3zM1077 756h3v1h-3zM1083 756h3v1h-3zM1089 756h3v1h-3zM1127 756h1v1h-1zM1131 756h3v1h-3zM1179 756h3v1h-3zM215 757h1v1h-1zM219 757h3v1h-3zM225 757h3v1h-3zM417 757h3v1h-3zM423 757h3v1h-3zM832 757h2v1h-2zM1137 757h3v1h-3zM1173 757h3v1h-3zM231 758h3v1h-3zM237 758h2v1h-2zM411 758h3v1h-3zM429 758h3v1h-3zM831 758h1v1h-1zM1143 758h3v1h-3zM1149 758h3v1h-3zM1155 758h3v1h-3zM1161 758h3v1h-3zM1167 758h3v1h-3zM239 759h1v1h-1zM243 759h3v1h-3zM405 759h3v1h-3zM435 759h3v1h-3zM249 760h3v1h-3zM441 760h3v1h-3zM826 760h2v1h-2zM255 761h2v1h-2zM400 761h2v1h-2zM825 761h1v1h-1zM257 762h1v1h-1zM399 762h1v1h-1zM447 762h3v1h-3zM821 762h1v1h-1zM261 763h2v1h-2zM819 763h2v1h-2zM263 764h1v1h-1zM394 764h2v1h-2zM453 764h2v1h-2zM671 764h1v1h-1zM675 764h3v1h-3zM681 764h3v1h-3zM267 765h2v1h-2zM393 765h1v1h-1zM455 765h1v1h-1zM665 765h1v1h-1zM669 765h2v1h-2zM687 765h3v1h-3zM693 765h2v1h-2zM814 765h2v1h-2zM269 766h1v1h-1zM459 766h2v1h-2zM663 766h2v1h-2zM695 766h1v1h-1zM699 766h2v1h-2zM813 766h1v1h-1zM273 767h3v1h-3zM388 767h2v1h-2zM461 767h1v1h-1zM657 767h3v1h-3zM701 767h1v1h-1zM387 768h1v1h-1zM465 768h3v1h-3zM651 768h3v1h-3zM705 768h3v1h-3zM807 768h3v1h-3zM279 769h3v1h-3zM471 769h3v1h-3zM477 769h2v1h-2zM645 769h3v1h-3zM711 769h2v1h-2zM383 770h1v1h-1zM479 770h1v1h-1zM483 770h3v1h-3zM489 770h3v1h-3zM713 770h1v1h-1zM802 770h2v1h-2zM285 771h3v1h-3zM382 771h1v1h-1zM495 771h3v1h-3zM501 771h3v1h-3zM507 771h3v1h-3zM639 771h3v1h-3zM717 771h3v1h-3zM801 771h1v1h-1zM291 772h2v1h-2zM381 772h1v1h-1zM513 772h3v1h-3zM723 772h2v1h-2zM293 773h1v1h-1zM519 773h3v1h-3zM633 773h3v1h-3zM725 773h1v1h-1zM796 773h2v1h-2zM297 774h1v1h-1zM375 774h3v1h-3zM525 774h3v1h-3zM629 774h1v1h-1zM729 774h1v1h-1zM795 774h1v1h-1zM298 775h2v1h-2zM531 775h2v1h-2zM627 775h2v1h-2zM730 775h2v1h-2zM789 775h3v1h-3zM303 776h2v1h-2zM370 776h2v1h-2zM533 776h1v1h-1zM623 776h1v1h-1zM735 776h2v1h-2zM785 776h1v1h-1zM305 777h1v1h-1zM369 777h1v1h-1zM537 777h1v1h-1zM621 777h2v1h-2zM737 777h1v1h-1zM783 777h2v1h-2zM309 778h2v1h-2zM365 778h1v1h-1zM538 778h2v1h-2zM741 778h3v1h-3zM777 778h3v1h-3zM311 779h1v1h-1zM363 779h2v1h-2zM615 779h3v1h-3zM747 779h3v1h-3zM753 779h3v1h-3zM767 779h1v1h-1zM771 779h3v1h-3zM315 780h2v1h-2zM357 780h3v1h-3zM543 780h3v1h-3zM759 780h3v1h-3zM765 780h2v1h-2zM317 781h1v1h-1zM353 781h1v1h-1zM610 781h2v1h-2zM321 782h3v1h-3zM351 782h2v1h-2zM549 782h3v1h-3zM609 782h1v1h-1zM327 783h2v1h-2zM345 783h3v1h-3zM555 783h2v1h-2zM605 783h1v1h-1zM329 784h1v1h-1zM333 784h3v1h-3zM339 784h3v1h-3zM557 784h1v1h-1zM603 784h2v1h-2zM561 785h3v1h-3zM597 785h3v1h-3zM567 786h2v1h-2zM591 786h3v1h-3zM569 787h1v1h-1zM573 787h3v1h-3zM579 787h3v1h-3zM585 787h3v1h-3z" fill="#ff0000" shape-rendering="crispEdges"/>
<rect x="1684" y="700" width="2" height="1" fill="#000" />
<rect x="1684" y="747" width="2" height="1" fill="#000" />
<rect x="1684" y="800" width="2" height="1" fill="#000" />
<g font-family='"Liberation Sans", sans-serif'>
<text x="7" y="711" font-size="9.9" fill="#000" text-anchor="start" textLength="148" lengthAdjust="spacingAndGlyphs" stroke="#000" stroke-width="0.1" >MACD(12,26,9) 0.000837 0.001328</text>
<text x="1687" y="709" font-size="9.9" fill="#000" text-anchor="start" textLength="33" lengthAdjust="spacingAndGlyphs" stroke="#000" stroke-width="0.1" >0.00463</text>
<text x="1687" y="751" font-size="9.9" fill="#000" text-anchor="start" textLength="19" lengthAdjust="spacingAndGlyphs" stroke="#000" stroke-width="0.1" >0.00</text>
<text x="1687" y="798" font-size="9.9" fill="#000" text-anchor="start" textLength="37" lengthAdjust="spacingAndGlyphs" stroke="#000" stroke-width="0.1" >-0.00529</text>
</g>
<g font-family='"Liberation Sans", sans-serif'>
<rect x="3" y="802" width="1" height="3" fill="#000" shape-rendering="crispEdges"/>
<text x="3" y="814" font-size="9.9" fill="#000" text-anchor="start" textLength="49.5" lengthAdjust="spacingAndGlyphs" stroke="#000" stroke-width="0.1" >17 Jun 2019</text>
<rect x="67" y="802" width="1" height="3" fill="#000" shape-rendering="crispEdges"/>
<text x="67" y="814" font-size="9.9" fill="#000" text-anchor="start" textLength="49.5" lengthAdjust="spacingAndGlyphs" stroke="#000" stroke-width="0.1" >26 Jun 2019</text>
<rect x="131" y="802" width="1" height="3" fill="#000" shape-rendering="crispEdges"/>
<text x="131" y="814" font-size="9.9" fill="#000" text-anchor="start" textLength="41.5" lengthAdjust="spacingAndGlyphs" stroke="#000" stroke-width="0.1" >5 Jul 2019</text>
<rect x="195" y="802" width="1" height="3" fill="#000" shape-rendering="crispEdges"/>
<text x="195" y="814" font-size="9.9" fill="#000" text-anchor="start" textLength="46.5" lengthAdjust="spacingAndGlyphs" stroke="#000" stroke-width="0.1" >15 Jul 2019</text>
<rect x="259" y="802" width="1" height="3" fill="#000" shape-rendering="crispEdges"/>
<text x="259" y="814" font-size="9.9" fill="#000" text-anchor="start" textLength="46.5" lengthAdjust="spacingAndGlyphs" stroke="#000" stroke-width="0.1" >24 Jul 2019</text>
<rect x="323" y="802" width="1" height="3" fill="#000" shape-rendering="crispEdges"/>
<text x="323" y="814" font-size="9.9" fill="#000" text-anchor="start" textLength="45.5" lengthAdjust="spacingAndGlyphs" stroke="#000" stroke-width="0.1" >2 Aug 2019</text>
<rect x="387" y="802" width="1" height="3" fill="#000" shape-rendering="crispEdges"/>
<text x="387" y="814" font-size="9.9" fill="#000" text-anchor="start" textLength="50.5" lengthAdjust="spacingAndGlyphs" stroke="#000" stroke-width="0.1" >12 Aug 2019</text>
<rect x="451" y="802" width="1" height="3" fill="#000" shape-rendering="crispEdges"/>
<text x="451" y="814" font-size="9.9" fill="#000" text-anchor="start" textLength="50.5" lengthAdjust="spacingAndGlyphs" stroke="#000" stroke-width="0.1" >21 Aug 2019</text>
<rect x="515" y="802" width="1" height="3" fill="#000" shape-rendering="crispEdges"/>
<text x="515" y="814" font-size="9.9" fill="#000" text-anchor="start" textLength="50.5" lengthAdjust="spacingAndGlyphs" stroke="#000" stroke-width="0.1" >30 Aug 2019</text>
<rect x="579" y="802" width="1" height="3" fill="#000" shape-rendering="crispEdges"/>
<text x="579" y="814" font-size="9.9" fill="#000" text-anchor="start" textLength="46.0" lengthAdjust="spacingAndGlyphs" stroke="#000" stroke-width="0.1" >9 Sep 2019</text>
<rect x="643" y="802" width="1" height="3" fill="#000" shape-rendering="crispEdges"/>
<text x="643" y="814" font-size="9.9" fill="#000" text-anchor="start" textLength="51.0" lengthAdjust="spacingAndGlyphs" stroke="#000" stroke-width="0.1" >18 Sep 2019</text>
<rect x="707" y="802" width="1" height="3" fill="#000" shape-rendering="crispEdges"/>
<text x="707" y="814" font-size="9.9" fill="#000" text-anchor="start" textLength="51.0" lengthAdjust="spacingAndGlyphs" stroke="#000" stroke-width="0.1" >27 Sep 2019</text>
<rect x="771" y="802" width="1" height="3" fill="#000" shape-rendering="crispEdges"/>
<text x="771" y="814" font-size="9.9" fill="#000" text-anchor="start" textLength="44.0" lengthAdjust="spacingAndGlyphs" stroke="#000" stroke-width="0.1" >7 Oct 2019</text>
<rect x="835" y="802" width="1" height="3" fill="#000" shape-rendering="crispEdges"/>
<text x="835" y="814" font-size="9.9" fill="#000" text-anchor="start" textLength="49.0" lengthAdjust="spacingAndGlyphs" stroke="#000" stroke-width="0.1" >16 Oct 2019</text>
<rect x="899" y="802" width="1" height="3" fill="#000" shape-rendering="crispEdges"/>
<text x="899" y="814" font-size="9.9" fill="#000" text-anchor="start" textLength="49.0" lengthAdjust="spacingAndGlyphs" stroke="#000" stroke-width="0.1" >25 Oct 2019</text>
<rect x="963" y="802" width="1" height="3" fill="#000" shape-rendering="crispEdges"/>
<text x="963" y="814" font-size="9.9" fill="#000" text-anchor="start" textLength="46.0" lengthAdjust="spacingAndGlyphs" stroke="#000" stroke-width="0.1" >4 Nov 2019</text>
<rect x="1027" y="802" width="1" height="3" fill="#000" shape-rendering="crispEdges"/>
<text x="1027" y="814" font-size="9.9" fill="#000" text-anchor="start" textLength="51.0" lengthAdjust="spacingAndGlyphs" stroke="#000" stroke-width="0.1" >13 Nov 2019</text>
<rect x="1091" y="802" width="1" height="3" fill="#000" shape-rendering="crispEdges"/>
<text x="1091" y="814" font-size="9.9" fill="#000" text-anchor="start" textLength="51.0" lengthAdjust="spacingAndGlyphs" stroke="#000" stroke-width="0.1" >22 Nov 2019</text>
<rect x="1155" y="802" width="1" height="3" fill="#000" shape-rendering="crispEdges"/>
<text x="1155" y="814" font-size="9.9" fill="#000" text-anchor="start" textLength="46.0" lengthAdjust="spacingAndGlyphs" stroke="#000" stroke-width="0.1" >2 Dec 2019</text>
<rect x="1219" y="802" width="1" height="3" fill="#000" shape-rendering="crispEdges"/>
<text x="1219" y="814" font-size="9.9" fill="#000" text-anchor="start" textLength="50.4" lengthAdjust="spacingAndGlyphs" stroke="#000" stroke-width="0.1" >11 Dec 2019</text>
<rect x="1283" y="802" width="1" height="3" fill="#000" shape-rendering="crispEdges"/>
<text x="1283" y="814" font-size="9.9" fill="#000" text-anchor="start" textLength="51.0" lengthAdjust="spacingAndGlyphs" stroke="#000" stroke-width="0.1" >20 Dec 2019</text>
</g>
<rect x="0" y="822" width="1724" height="1" fill="#e3e3e3" />
<rect x="0" y="823" width="1724" height="21" fill="#f0f0f0" />
<rect x="0" y="824" width="1724" height="1" fill="#000" />
<rect x="4" y="823" width="104" height="20" fill="#fff" />
<rect x="4" y="824" width="1" height="19" fill="#000" />
<rect x="107" y="824" width="1" height="19" fill="#000" />
<rect x="4" y="842" width="104" height="1" fill="#000" />
<g font-family='"Liberation Sans", sans-serif'>
<text x="16" y="839" font-size="12" fill="#000" text-anchor="start" textLength="80" lengthAdjust="spacingAndGlyphs" >EURUSD,Daily</text>
<text x="118" y="839" font-size="12" fill="#6d6d6d" text-anchor="start" textLength="79" lengthAdjust="spacingAndGlyphs" >USDCHF,Daily</text>
<text x="219" y="839" font-size="12" fill="#6d6d6d" text-anchor="start" textLength="82" lengthAdjust="spacingAndGlyphs" >AUDUSD,Daily</text>
<text x="323" y="839" font-size="12" fill="#6d6d6d" text-anchor="start" textLength="81" lengthAdjust="spacingAndGlyphs" >USDCAD,Daily</text>
<text x="426" y="839" font-size="12" fill="#6d6d6d" text-anchor="start" textLength="83" lengthAdjust="spacingAndGlyphs" >USDCNH,Daily</text>
<rect x="208" y="827" width="1" height="14" fill="#6d6d6d" />
<rect x="312" y="827" width="1" height="14" fill="#6d6d6d" />
<rect x="416" y="827" width="1" height="14" fill="#6d6d6d" />
<rect x="520" y="827" width="1" height="14" fill="#6d6d6d" />
<polygon points="1702,829 1702,838 1698,833.5" fill="#a0a0a0"/>
<polygon points="1717,829 1717,838 1721,833.5" fill="#a0a0a0"/>
</g>
<g shape-rendering="crispEdges">
<rect x="1" y="0" width="1" height="1" fill="#333"/>
<rect x="3" y="0" width="1" height="1" fill="#333"/>
<rect x="5" y="0" width="1" height="1" fill="#333"/>
<rect x="7" y="0" width="1" height="1" fill="#333"/>
<rect x="9" y="0" width="1" height="1" fill="#333"/>
<rect x="11" y="0" width="1" height="1" fill="#333"/>
<rect x="1" y="3" width="1" height="1" fill="#333"/>
<rect x="3" y="3" width="1" height="1" fill="#333"/>
<rect x="5" y="3" width="1" height="1" fill="#333"/>
<rect x="7" y="3" width="1" height="1" fill="#333"/>
<rect x="9" y="3" width="1" height="1" fill="#333"/>
<rect x="11" y="3" width="1" height="1" fill="#333"/>
<rect x="1" y="7" width="1" height="1" fill="#333"/>
<rect x="3" y="7" width="1" height="1" fill="#333"/>
<rect x="5" y="7" width="1" height="1" fill="#333"/>
<rect x="7" y="7" width="1" height="1" fill="#333"/>
<rect x="9" y="7" width="1" height="1" fill="#333"/>
<rect x="11" y="7" width="1" height="1" fill="#333"/>
<rect x="1" y="11" width="1" height="1" fill="#333"/>
<rect x="3" y="11" width="1" height="1" fill="#333"/>
<rect x="5" y="11" width="1" height="1" fill="#333"/>
<rect x="7" y="11" width="1" height="1" fill="#333"/>
<rect x="9" y="11" width="1" height="5" fill="#333"/>
<rect x="10" y="11" width="1" height="5" fill="#777"/>
<rect x="10" y="11" width="3" height="1" fill="#333"/>
<rect x="10" y="13" width="2" height="1" fill="#333"/>
<polyline points="30.8,12 33.5,3.7 34.5,3.7 37.2,12" fill="none" stroke="#333" stroke-width="1.35" stroke-linejoin="miter" shape-rendering="geometricPrecision"/>
<rect x="32" y="8.6" width="4" height="1.1" fill="#333" shape-rendering="geometricPrecision"/>
<rect x="55" y="0" width="1" height="2" fill="#333"/>
<rect x="55" y="1" width="3" height="1" fill="#333"/>
<rect x="59" y="1" width="1" height="1" fill="#333"/>
<rect x="61" y="1" width="1" height="1" fill="#333"/>
<rect x="63" y="1" width="1" height="1" fill="#333"/>
<rect x="65" y="1" width="1" height="1" fill="#333"/>
<rect x="67" y="1" width="1" height="1" fill="#333"/>
<rect x="56" y="3" width="1" height="1" fill="#333"/>
<rect x="67" y="3" width="1" height="1" fill="#333"/>
<rect x="56" y="5" width="1" height="1" fill="#333"/>
<rect x="67" y="5" width="1" height="1" fill="#333"/>
<rect x="56" y="7" width="1" height="1" fill="#333"/>
<rect x="67" y="7" width="1" height="1" fill="#333"/>
<rect x="56" y="9" width="1" height="1" fill="#333"/>
<rect x="67" y="9" width="1" height="1" fill="#333"/>
<rect x="56" y="11" width="1" height="1" fill="#333"/>
<rect x="67" y="11" width="1" height="1" fill="#333"/>
<rect x="56" y="13" width="1" height="1" fill="#333"/>
<rect x="58" y="13" width="1" height="1" fill="#333"/>
<rect x="60" y="13" width="1" height="1" fill="#333"/>
<rect x="62" y="13" width="1" height="1" fill="#333"/>
<rect x="64" y="13" width="1" height="1" fill="#333"/>
<rect x="66" y="13" width="1" height="1" fill="#333"/>
<rect x="58" y="4" width="8" height="1" fill="#333"/>
<rect x="61" y="5" width="2" height="7" fill="#333"/>
<rect x="86" y="1" width="1" height="1" fill="#333"/>
<rect x="85" y="2" width="3" height="1" fill="#333"/>
<rect x="84" y="3" width="5" height="1" fill="#333"/>
<rect x="83" y="4" width="7" height="1" fill="#333"/>
<rect x="85" y="5" width="3" height="1" fill="#333"/>
<rect x="93" y="9" width="3" height="1" fill="#333"/>
<rect x="90" y="10" width="7" height="1" fill="#333"/>
<rect x="91" y="11" width="5" height="1" fill="#333"/>
<rect x="92" y="12" width="3" height="1" fill="#333"/>
<rect x="93" y="13" width="1" height="1" fill="#333"/>
</g>
<polyline points="85.5,8.5 87.5,10.5 91.5,5.5" fill="none" stroke="#333" stroke-width="1.6"/>
<g shape-rendering="crispEdges">
<rect x="104" y="6" width="5" height="1" fill="#000"/>
<rect x="105" y="7" width="3" height="1" fill="#000"/>
<rect x="106" y="8" width="1" height="1" fill="#000"/>
<rect x="115" y="0" width="1" height="19" fill="#a0a0a0"/>
<rect x="116" y="0" width="1" height="19" fill="#fff"/>
<rect x="119" y="1" width="2" height="1" fill="#a0a0a0"/>
<rect x="119" y="3" width="2" height="1" fill="#a0a0a0"/>
<rect x="119" y="5" width="2" height="1" fill="#a0a0a0"/>
<rect x="119" y="7" width="2" height="1" fill="#a0a0a0"/>
<rect x="119" y="9" width="2" height="1" fill="#a0a0a0"/>
<rect x="119" y="11" width="2" height="1" fill="#a0a0a0"/>
<rect x="119" y="13" width="2" height="1" fill="#a0a0a0"/>
<rect x="119" y="15" width="2" height="1" fill="#a0a0a0"/>
<defs><pattern id="chk" width="2" height="2" patternUnits="userSpaceOnUse"><rect width="2" height="2" fill="#f0f0f0"/><rect width="1" height="1" fill="#fafafa"/><rect x="1" y="1" width="1" height="1" fill="#fafafa"/></pattern></defs>
<rect x="294" y="0" width="24" height="17" fill="url(#chk)"/>
<rect x="294" y="17" width="24" height="1" fill="#fcfcfc"/>
<rect x="293" y="0" width="1" height="17" fill="#a0a0a0"/>
<rect x="376" y="0" width="1" height="19" fill="#a0a0a0"/>
<rect x="377" y="0" width="1" height="19" fill="#fff"/>
</g>
<g font-family='"Liberation Sans", sans-serif' fill="#2a2a2a">
<text x="130" y="11.5" font-size="9.9" textLength="13" lengthAdjust="spacingAndGlyphs">M1</text>
<text x="158" y="11.5" font-size="9.9" textLength="13" lengthAdjust="spacingAndGlyphs">M5</text>
<text x="184" y="11.5" font-size="9.9" textLength="18" lengthAdjust="spacingAndGlyphs">M15</text>
<text x="212" y="11.5" font-size="9.9" textLength="18" lengthAdjust="spacingAndGlyphs">M30</text>
<text x="243" y="11.5" font-size="9.9" textLength="12" lengthAdjust="spacingAndGlyphs">H1</text>
<text x="270" y="11.5" font-size="9.9" textLength="13" lengthAdjust="spacingAndGlyphs">H4</text>
<text x="299.5" y="11.5" font-size="9.9" textLength="12" lengthAdjust="spacingAndGlyphs">D1</text>
<text x="327" y="11.5" font-size="9.9" textLength="14" lengthAdjust="spacingAndGlyphs">W1</text>
<text x="353.5" y="11.5" font-size="9.9" textLength="15" lengthAdjust="spacingAndGlyphs">MN</text>
</g>
</svg>
</body></html>
